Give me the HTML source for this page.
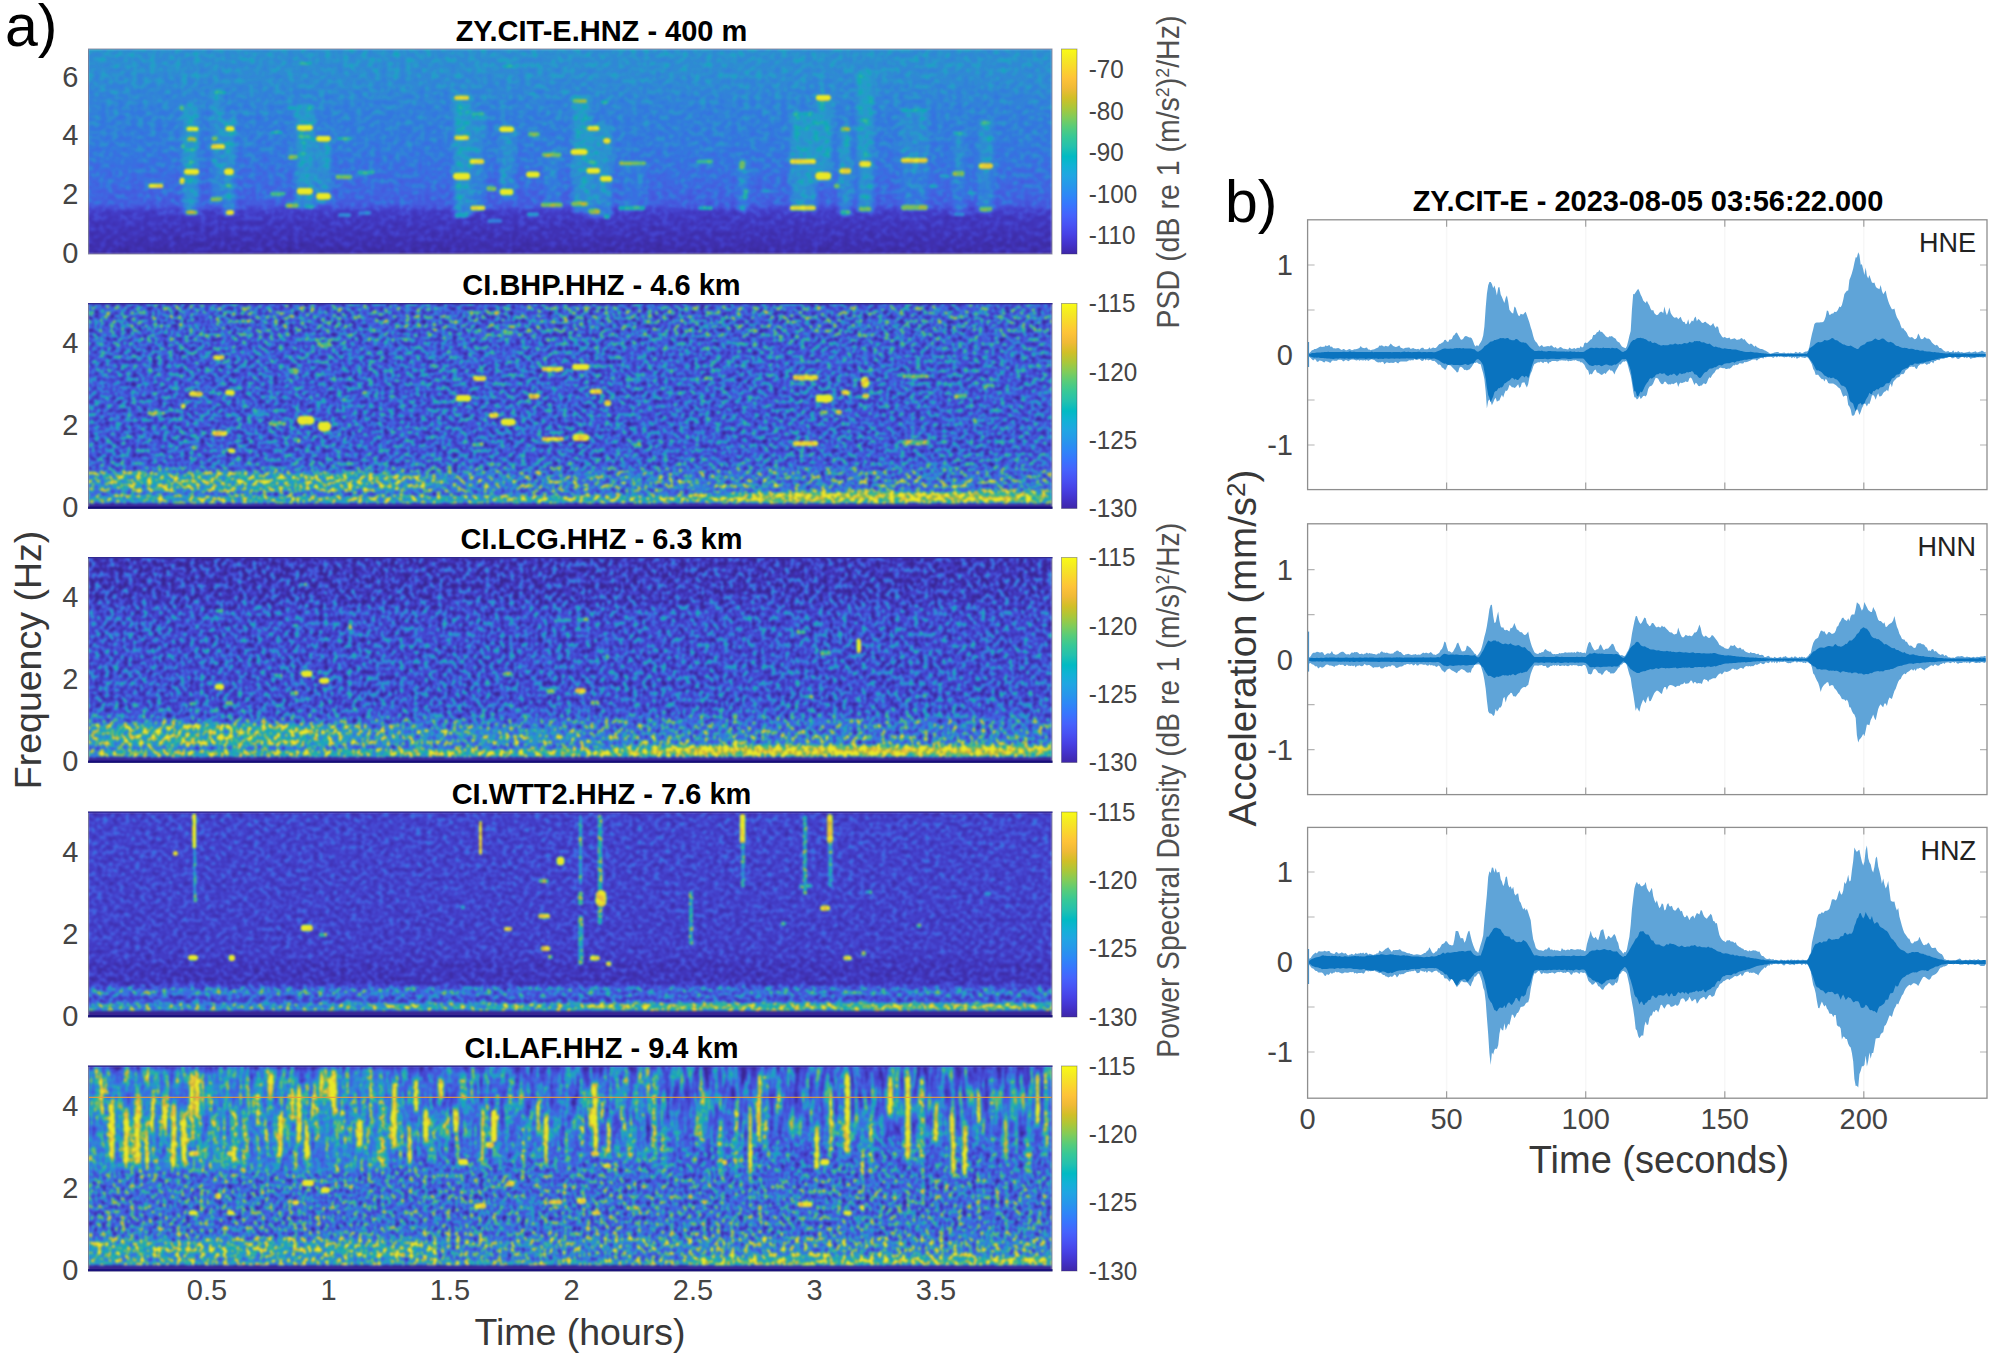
<!DOCTYPE html>
<html lang="en"><head><meta charset="utf-8"><title>Figure</title>
<style>html,body{margin:0;padding:0;background:#fff;}body{width:2000px;height:1363px;overflow:hidden;}svg{display:block;}text{font-family:"Liberation Sans", Arial, Helvetica, sans-serif;}.tk{font-size:29px;fill:#444;}.cb{font-size:26.5px;fill:#444;}.ti{font-size:29px;font-weight:bold;fill:#000;}.ax{font-size:37.5px;fill:#383838;}.pl{font-size:59px;fill:#000;}.cl{font-size:30.5px;fill:#505050;}.ch{font-size:27px;fill:#222;}</style></head><body>
<svg width="2000" height="1363" viewBox="0 0 2000 1363">
<defs>
<linearGradient id="cbar" x1="0" y1="0" x2="0" y2="1"><stop offset="0.0000" stop-color="#f9fb15"/><stop offset="0.0476" stop-color="#f5e924"/><stop offset="0.0952" stop-color="#fad62d"/><stop offset="0.1429" stop-color="#fec338"/><stop offset="0.1905" stop-color="#f0ba36"/><stop offset="0.2381" stop-color="#d1bf27"/><stop offset="0.2857" stop-color="#abc739"/><stop offset="0.3333" stop-color="#81cc59"/><stop offset="0.3810" stop-color="#57cc7a"/><stop offset="0.4286" stop-color="#37c897"/><stop offset="0.4762" stop-color="#24c1ae"/><stop offset="0.5238" stop-color="#02bac3"/><stop offset="0.5714" stop-color="#12b1d6"/><stop offset="0.6190" stop-color="#20a5e3"/><stop offset="0.6667" stop-color="#2797eb"/><stop offset="0.7143" stop-color="#2e87f7"/><stop offset="0.7619" stop-color="#3875fe"/><stop offset="0.8095" stop-color="#4563fd"/><stop offset="0.8571" stop-color="#4852f4"/><stop offset="0.9048" stop-color="#4741e5"/><stop offset="0.9524" stop-color="#4332cb"/><stop offset="1.0000" stop-color="#3e26a8"/></linearGradient>
<filter id="sp0" x="88.5" y="49.0" width="963.5" height="205.0" filterUnits="userSpaceOnUse" color-interpolation-filters="sRGB"><feTurbulence type="fractalNoise" baseFrequency="0.16 0.19" numOctaves="2" seed="11" result="n"/><feColorMatrix in="n" type="matrix" values="1 0 0 0 0 1 0 0 0 0 1 0 0 0 0 0 0 0 0 1" result="ng0"/><feComponentTransfer in="ng0" result="ng"><feFuncR type="table" tableValues="0.25 0.375 0.5 0.875 1"/><feFuncG type="table" tableValues="0.25 0.375 0.5 0.875 1"/><feFuncB type="table" tableValues="0.25 0.375 0.5 0.875 1"/></feComponentTransfer><feColorMatrix in="SourceGraphic" type="matrix" values="0 1 0 0 0 0 1 0 0 0 0 1 0 0 0 0 0 0 0 1" result="amp"/><feComposite in="amp" in2="ng" operator="arithmetic" k1="1" k2="0" k3="0" k4="0" result="m"/><feColorMatrix in="SourceGraphic" type="matrix" values="1 0 0 0 0 1 0 0 0 0 1 0 0 0 0 0 0 0 0 1" result="base"/><feComposite in="base" in2="m" operator="arithmetic" k1="0" k2="2" k3="3.00" k4="-0.60" result="v"/><feComponentTransfer in="v"><feFuncR type="table" tableValues="0.242 0.250 0.258 0.265 0.271 0.275 0.278 0.280 0.281 0.281 0.280 0.276 0.270 0.260 0.244 0.221 0.196 0.183 0.179 0.176 0.169 0.154 0.146 0.138 0.125 0.111 0.095 0.069 0.030 0.004 0.007 0.043 0.096 0.141 0.172 0.194 0.216 0.247 0.291 0.341 0.391 0.446 0.504 0.562 0.617 0.672 0.724 0.774 0.820 0.863 0.903 0.939 0.973 0.996 0.997 0.995 0.989 0.979 0.968 0.961 0.960 0.963 0.969 0.977"/><feFuncG type="table" tableValues="0.150 0.165 0.182 0.198 0.215 0.234 0.256 0.278 0.301 0.323 0.345 0.367 0.389 0.412 0.436 0.460 0.485 0.507 0.529 0.550 0.570 0.590 0.609 0.628 0.646 0.663 0.680 0.695 0.708 0.720 0.731 0.741 0.750 0.758 0.767 0.776 0.784 0.792 0.797 0.801 0.803 0.802 0.799 0.794 0.788 0.779 0.770 0.760 0.750 0.741 0.733 0.729 0.730 0.743 0.766 0.789 0.814 0.839 0.864 0.889 0.913 0.937 0.961 0.984"/><feFuncB type="table" tableValues="0.660 0.708 0.751 0.795 0.836 0.871 0.899 0.922 0.941 0.958 0.972 0.983 0.991 0.995 0.999 0.997 0.989 0.980 0.968 0.952 0.936 0.922 0.908 0.897 0.888 0.876 0.860 0.839 0.816 0.792 0.766 0.739 0.712 0.684 0.655 0.625 0.592 0.557 0.519 0.479 0.435 0.391 0.348 0.304 0.261 0.223 0.191 0.165 0.153 0.160 0.177 0.210 0.239 0.237 0.220 0.203 0.189 0.177 0.164 0.154 0.142 0.127 0.106 0.081"/></feComponentTransfer><feGaussianBlur stdDeviation="1.00"/><feColorMatrix type="matrix" values="0.8660 0.0672 0.0068 0 0 0.0200 0.9132 0.0068 0 0 0.0200 0.0672 0.8528 0 0 0 0 0 1 0"/></filter><clipPath id="cp0"><rect x="88.5" y="49.0" width="963.5" height="205.0"/></clipPath><filter id="sp1" x="88.5" y="303.5" width="963.5" height="205.0" filterUnits="userSpaceOnUse" color-interpolation-filters="sRGB"><feTurbulence type="fractalNoise" baseFrequency="0.19 0.225" numOctaves="2" seed="5" result="n"/><feColorMatrix in="n" type="matrix" values="1 0 0 0 0 1 0 0 0 0 1 0 0 0 0 0 0 0 0 1" result="ng0"/><feComponentTransfer in="ng0" result="ng"><feFuncR type="table" tableValues="0.25 0.375 0.5 0.875 1"/><feFuncG type="table" tableValues="0.25 0.375 0.5 0.875 1"/><feFuncB type="table" tableValues="0.25 0.375 0.5 0.875 1"/></feComponentTransfer><feColorMatrix in="SourceGraphic" type="matrix" values="0 1 0 0 0 0 1 0 0 0 0 1 0 0 0 0 0 0 0 1" result="amp"/><feComposite in="amp" in2="ng" operator="arithmetic" k1="1" k2="0" k3="0" k4="0" result="m"/><feColorMatrix in="SourceGraphic" type="matrix" values="1 0 0 0 0 1 0 0 0 0 1 0 0 0 0 0 0 0 0 1" result="base"/><feComposite in="base" in2="m" operator="arithmetic" k1="0" k2="2" k3="3.00" k4="-0.60" result="v"/><feComponentTransfer in="v"><feFuncR type="table" tableValues="0.242 0.250 0.258 0.265 0.271 0.275 0.278 0.280 0.281 0.281 0.280 0.276 0.270 0.260 0.244 0.221 0.196 0.183 0.179 0.176 0.169 0.154 0.146 0.138 0.125 0.111 0.095 0.069 0.030 0.004 0.007 0.043 0.096 0.141 0.172 0.194 0.216 0.247 0.291 0.341 0.391 0.446 0.504 0.562 0.617 0.672 0.724 0.774 0.820 0.863 0.903 0.939 0.973 0.996 0.997 0.995 0.989 0.979 0.968 0.961 0.960 0.963 0.969 0.977"/><feFuncG type="table" tableValues="0.150 0.165 0.182 0.198 0.215 0.234 0.256 0.278 0.301 0.323 0.345 0.367 0.389 0.412 0.436 0.460 0.485 0.507 0.529 0.550 0.570 0.590 0.609 0.628 0.646 0.663 0.680 0.695 0.708 0.720 0.731 0.741 0.750 0.758 0.767 0.776 0.784 0.792 0.797 0.801 0.803 0.802 0.799 0.794 0.788 0.779 0.770 0.760 0.750 0.741 0.733 0.729 0.730 0.743 0.766 0.789 0.814 0.839 0.864 0.889 0.913 0.937 0.961 0.984"/><feFuncB type="table" tableValues="0.660 0.708 0.751 0.795 0.836 0.871 0.899 0.922 0.941 0.958 0.972 0.983 0.991 0.995 0.999 0.997 0.989 0.980 0.968 0.952 0.936 0.922 0.908 0.897 0.888 0.876 0.860 0.839 0.816 0.792 0.766 0.739 0.712 0.684 0.655 0.625 0.592 0.557 0.519 0.479 0.435 0.391 0.348 0.304 0.261 0.223 0.191 0.165 0.153 0.160 0.177 0.210 0.239 0.237 0.220 0.203 0.189 0.177 0.164 0.154 0.142 0.127 0.106 0.081"/></feComponentTransfer><feGaussianBlur stdDeviation="0.90"/><feColorMatrix type="matrix" values="0.8660 0.0672 0.0068 0 0 0.0200 0.9132 0.0068 0 0 0.0200 0.0672 0.8528 0 0 0 0 0 1 0"/></filter><clipPath id="cp1"><rect x="88.5" y="303.5" width="963.5" height="205.0"/></clipPath><filter id="sp2" x="88.5" y="557.5" width="963.5" height="205.0" filterUnits="userSpaceOnUse" color-interpolation-filters="sRGB"><feTurbulence type="fractalNoise" baseFrequency="0.21 0.185" numOctaves="2" seed="8" result="n"/><feColorMatrix in="n" type="matrix" values="1 0 0 0 0 1 0 0 0 0 1 0 0 0 0 0 0 0 0 1" result="ng0"/><feComponentTransfer in="ng0" result="ng"><feFuncR type="table" tableValues="0.25 0.375 0.5 0.875 1"/><feFuncG type="table" tableValues="0.25 0.375 0.5 0.875 1"/><feFuncB type="table" tableValues="0.25 0.375 0.5 0.875 1"/></feComponentTransfer><feColorMatrix in="SourceGraphic" type="matrix" values="0 1 0 0 0 0 1 0 0 0 0 1 0 0 0 0 0 0 0 1" result="amp"/><feComposite in="amp" in2="ng" operator="arithmetic" k1="1" k2="0" k3="0" k4="0" result="m"/><feColorMatrix in="SourceGraphic" type="matrix" values="1 0 0 0 0 1 0 0 0 0 1 0 0 0 0 0 0 0 0 1" result="base"/><feComposite in="base" in2="m" operator="arithmetic" k1="0" k2="2" k3="3.00" k4="-0.60" result="v"/><feComponentTransfer in="v"><feFuncR type="table" tableValues="0.242 0.250 0.258 0.265 0.271 0.275 0.278 0.280 0.281 0.281 0.280 0.276 0.270 0.260 0.244 0.221 0.196 0.183 0.179 0.176 0.169 0.154 0.146 0.138 0.125 0.111 0.095 0.069 0.030 0.004 0.007 0.043 0.096 0.141 0.172 0.194 0.216 0.247 0.291 0.341 0.391 0.446 0.504 0.562 0.617 0.672 0.724 0.774 0.820 0.863 0.903 0.939 0.973 0.996 0.997 0.995 0.989 0.979 0.968 0.961 0.960 0.963 0.969 0.977"/><feFuncG type="table" tableValues="0.150 0.165 0.182 0.198 0.215 0.234 0.256 0.278 0.301 0.323 0.345 0.367 0.389 0.412 0.436 0.460 0.485 0.507 0.529 0.550 0.570 0.590 0.609 0.628 0.646 0.663 0.680 0.695 0.708 0.720 0.731 0.741 0.750 0.758 0.767 0.776 0.784 0.792 0.797 0.801 0.803 0.802 0.799 0.794 0.788 0.779 0.770 0.760 0.750 0.741 0.733 0.729 0.730 0.743 0.766 0.789 0.814 0.839 0.864 0.889 0.913 0.937 0.961 0.984"/><feFuncB type="table" tableValues="0.660 0.708 0.751 0.795 0.836 0.871 0.899 0.922 0.941 0.958 0.972 0.983 0.991 0.995 0.999 0.997 0.989 0.980 0.968 0.952 0.936 0.922 0.908 0.897 0.888 0.876 0.860 0.839 0.816 0.792 0.766 0.739 0.712 0.684 0.655 0.625 0.592 0.557 0.519 0.479 0.435 0.391 0.348 0.304 0.261 0.223 0.191 0.165 0.153 0.160 0.177 0.210 0.239 0.237 0.220 0.203 0.189 0.177 0.164 0.154 0.142 0.127 0.106 0.081"/></feComponentTransfer><feGaussianBlur stdDeviation="0.90"/><feColorMatrix type="matrix" values="0.8660 0.0672 0.0068 0 0 0.0200 0.9132 0.0068 0 0 0.0200 0.0672 0.8528 0 0 0 0 0 1 0"/></filter><clipPath id="cp2"><rect x="88.5" y="557.5" width="963.5" height="205.0"/></clipPath><filter id="sp3" x="88.5" y="812.0" width="963.5" height="205.0" filterUnits="userSpaceOnUse" color-interpolation-filters="sRGB"><feTurbulence type="fractalNoise" baseFrequency="0.185 0.22" numOctaves="2" seed="21" result="n"/><feColorMatrix in="n" type="matrix" values="1 0 0 0 0 1 0 0 0 0 1 0 0 0 0 0 0 0 0 1" result="ng0"/><feComponentTransfer in="ng0" result="ng"><feFuncR type="table" tableValues="0.25 0.375 0.5 0.875 1"/><feFuncG type="table" tableValues="0.25 0.375 0.5 0.875 1"/><feFuncB type="table" tableValues="0.25 0.375 0.5 0.875 1"/></feComponentTransfer><feColorMatrix in="SourceGraphic" type="matrix" values="0 1 0 0 0 0 1 0 0 0 0 1 0 0 0 0 0 0 0 1" result="amp"/><feComposite in="amp" in2="ng" operator="arithmetic" k1="1" k2="0" k3="0" k4="0" result="m"/><feColorMatrix in="SourceGraphic" type="matrix" values="1 0 0 0 0 1 0 0 0 0 1 0 0 0 0 0 0 0 0 1" result="base"/><feComposite in="base" in2="m" operator="arithmetic" k1="0" k2="2" k3="3.00" k4="-0.60" result="v"/><feComponentTransfer in="v"><feFuncR type="table" tableValues="0.242 0.250 0.258 0.265 0.271 0.275 0.278 0.280 0.281 0.281 0.280 0.276 0.270 0.260 0.244 0.221 0.196 0.183 0.179 0.176 0.169 0.154 0.146 0.138 0.125 0.111 0.095 0.069 0.030 0.004 0.007 0.043 0.096 0.141 0.172 0.194 0.216 0.247 0.291 0.341 0.391 0.446 0.504 0.562 0.617 0.672 0.724 0.774 0.820 0.863 0.903 0.939 0.973 0.996 0.997 0.995 0.989 0.979 0.968 0.961 0.960 0.963 0.969 0.977"/><feFuncG type="table" tableValues="0.150 0.165 0.182 0.198 0.215 0.234 0.256 0.278 0.301 0.323 0.345 0.367 0.389 0.412 0.436 0.460 0.485 0.507 0.529 0.550 0.570 0.590 0.609 0.628 0.646 0.663 0.680 0.695 0.708 0.720 0.731 0.741 0.750 0.758 0.767 0.776 0.784 0.792 0.797 0.801 0.803 0.802 0.799 0.794 0.788 0.779 0.770 0.760 0.750 0.741 0.733 0.729 0.730 0.743 0.766 0.789 0.814 0.839 0.864 0.889 0.913 0.937 0.961 0.984"/><feFuncB type="table" tableValues="0.660 0.708 0.751 0.795 0.836 0.871 0.899 0.922 0.941 0.958 0.972 0.983 0.991 0.995 0.999 0.997 0.989 0.980 0.968 0.952 0.936 0.922 0.908 0.897 0.888 0.876 0.860 0.839 0.816 0.792 0.766 0.739 0.712 0.684 0.655 0.625 0.592 0.557 0.519 0.479 0.435 0.391 0.348 0.304 0.261 0.223 0.191 0.165 0.153 0.160 0.177 0.210 0.239 0.237 0.220 0.203 0.189 0.177 0.164 0.154 0.142 0.127 0.106 0.081"/></feComponentTransfer><feGaussianBlur stdDeviation="0.90"/><feColorMatrix type="matrix" values="0.8660 0.0672 0.0068 0 0 0.0200 0.9132 0.0068 0 0 0.0200 0.0672 0.8528 0 0 0 0 0 1 0"/></filter><clipPath id="cp3"><rect x="88.5" y="812.0" width="963.5" height="205.0"/></clipPath><filter id="sp4" x="88.5" y="1066.0" width="963.5" height="205.0" filterUnits="userSpaceOnUse" color-interpolation-filters="sRGB"><feTurbulence type="fractalNoise" baseFrequency="0.215 0.19" numOctaves="2" seed="33" result="n"/><feColorMatrix in="n" type="matrix" values="1 0 0 0 0 1 0 0 0 0 1 0 0 0 0 0 0 0 0 1" result="ni"/><feTurbulence type="fractalNoise" baseFrequency="0.2 0.035" numOctaves="2" seed="73" result="n2"/><feColorMatrix in="n2" type="matrix" values="1 0 0 0 0 1 0 0 0 0 1 0 0 0 0 0 0 0 0 1" result="ns"/><feColorMatrix in="SourceGraphic" type="matrix" values="0 0 1 0 0 0 0 1 0 0 0 0 1 0 0 0 0 0 0 1" result="wb"/><feColorMatrix in="SourceGraphic" type="matrix" values="0 0 -1 0 1 0 0 -1 0 1 0 0 -1 0 1 0 0 0 0 1" result="wi"/><feComposite in="wb" in2="ns" operator="arithmetic" k1="1" k2="0" k3="0" k4="0" result="t1"/><feComposite in="wi" in2="ni" operator="arithmetic" k1="1" k2="0" k3="0" k4="0" result="t2"/><feComposite in="t1" in2="t2" operator="arithmetic" k1="0" k2="1" k3="1" k4="0" result="ng0"/><feComponentTransfer in="ng0" result="ng"><feFuncR type="table" tableValues="0.25 0.375 0.5 0.875 1"/><feFuncG type="table" tableValues="0.25 0.375 0.5 0.875 1"/><feFuncB type="table" tableValues="0.25 0.375 0.5 0.875 1"/></feComponentTransfer><feColorMatrix in="SourceGraphic" type="matrix" values="0 1 0 0 0 0 1 0 0 0 0 1 0 0 0 0 0 0 0 1" result="amp"/><feComposite in="amp" in2="ng" operator="arithmetic" k1="1" k2="0" k3="0" k4="0" result="m"/><feColorMatrix in="SourceGraphic" type="matrix" values="1 0 0 0 0 1 0 0 0 0 1 0 0 0 0 0 0 0 0 1" result="base"/><feComposite in="base" in2="m" operator="arithmetic" k1="0" k2="2" k3="3.00" k4="-0.60" result="v"/><feComponentTransfer in="v"><feFuncR type="table" tableValues="0.242 0.250 0.258 0.265 0.271 0.275 0.278 0.280 0.281 0.281 0.280 0.276 0.270 0.260 0.244 0.221 0.196 0.183 0.179 0.176 0.169 0.154 0.146 0.138 0.125 0.111 0.095 0.069 0.030 0.004 0.007 0.043 0.096 0.141 0.172 0.194 0.216 0.247 0.291 0.341 0.391 0.446 0.504 0.562 0.617 0.672 0.724 0.774 0.820 0.863 0.903 0.939 0.973 0.996 0.997 0.995 0.989 0.979 0.968 0.961 0.960 0.963 0.969 0.977"/><feFuncG type="table" tableValues="0.150 0.165 0.182 0.198 0.215 0.234 0.256 0.278 0.301 0.323 0.345 0.367 0.389 0.412 0.436 0.460 0.485 0.507 0.529 0.550 0.570 0.590 0.609 0.628 0.646 0.663 0.680 0.695 0.708 0.720 0.731 0.741 0.750 0.758 0.767 0.776 0.784 0.792 0.797 0.801 0.803 0.802 0.799 0.794 0.788 0.779 0.770 0.760 0.750 0.741 0.733 0.729 0.730 0.743 0.766 0.789 0.814 0.839 0.864 0.889 0.913 0.937 0.961 0.984"/><feFuncB type="table" tableValues="0.660 0.708 0.751 0.795 0.836 0.871 0.899 0.922 0.941 0.958 0.972 0.983 0.991 0.995 0.999 0.997 0.989 0.980 0.968 0.952 0.936 0.922 0.908 0.897 0.888 0.876 0.860 0.839 0.816 0.792 0.766 0.739 0.712 0.684 0.655 0.625 0.592 0.557 0.519 0.479 0.435 0.391 0.348 0.304 0.261 0.223 0.191 0.165 0.153 0.160 0.177 0.210 0.239 0.237 0.220 0.203 0.189 0.177 0.164 0.154 0.142 0.127 0.106 0.081"/></feComponentTransfer><feGaussianBlur stdDeviation="0.85"/><feColorMatrix type="matrix" values="0.8660 0.0672 0.0068 0 0 0.0200 0.9132 0.0068 0 0 0.0200 0.0672 0.8528 0 0 0 0 0 1 0"/></filter><clipPath id="cp4"><rect x="88.5" y="1066.0" width="963.5" height="205.0"/></clipPath><filter id="sb" x="-20%" y="-50%" width="140%" height="200%" color-interpolation-filters="sRGB"><feGaussianBlur stdDeviation="0.7 0.5"/></filter><filter id="sbv" x="-5%" y="-20%" width="110%" height="140%" color-interpolation-filters="sRGB"><feGaussianBlur stdDeviation="0.9 3"/></filter><filter id="sbh" x="-10%" y="-40%" width="120%" height="180%" color-interpolation-filters="sRGB"><feGaussianBlur stdDeviation="30 1.6"/></filter><filter id="sb2" x="-20%" y="-20%" width="140%" height="140%" color-interpolation-filters="sRGB"><feGaussianBlur stdDeviation="2.5 1.5"/></filter><linearGradient id="g0" gradientUnits="userSpaceOnUse" x1="0" y1="49.0" x2="0" y2="254.0"><stop offset="0.0000" stop-color="rgb(104,22,0)"/><stop offset="0.1268" stop-color="rgb(102,22,0)"/><stop offset="0.2976" stop-color="rgb(97,22,0)"/><stop offset="0.4927" stop-color="rgb(94,22,0)"/><stop offset="0.6780" stop-color="rgb(88,22,0)"/><stop offset="0.7561" stop-color="rgb(85,21,0)"/><stop offset="0.7902" stop-color="rgb(75,18,0)"/><stop offset="0.8195" stop-color="rgb(75,15,0)"/><stop offset="0.9317" stop-color="rgb(73,13,0)"/><stop offset="0.9805" stop-color="rgb(72,12,0)"/><stop offset="1.0000" stop-color="rgb(71,12,0)"/></linearGradient><linearGradient id="g1" gradientUnits="userSpaceOnUse" x1="0" y1="303.5" x2="0" y2="508.5"><stop offset="0.0000" stop-color="rgb(29,73,0)"/><stop offset="0.0122" stop-color="rgb(6,129,0)"/><stop offset="0.1293" stop-color="rgb(9,123,0)"/><stop offset="0.2024" stop-color="rgb(26,97,0)"/><stop offset="0.4707" stop-color="rgb(31,88,0)"/><stop offset="0.7390" stop-color="rgb(29,91,0)"/><stop offset="0.7927" stop-color="rgb(23,103,0)"/><stop offset="0.8171" stop-color="rgb(7,135,0)"/><stop offset="0.9195" stop-color="rgb(7,135,0)"/><stop offset="0.9293" stop-color="rgb(17,111,0)"/><stop offset="0.9390" stop-color="rgb(9,135,0)"/><stop offset="0.9746" stop-color="rgb(14,135,0)"/><stop offset="0.9795" stop-color="rgb(58,15,0)"/><stop offset="1.0000" stop-color="rgb(57,12,0)"/></linearGradient><linearGradient id="g2" gradientUnits="userSpaceOnUse" x1="0" y1="557.5" x2="0" y2="762.5"><stop offset="0.0000" stop-color="rgb(41,47,0)"/><stop offset="0.0122" stop-color="rgb(40,59,0)"/><stop offset="0.1976" stop-color="rgb(37,65,0)"/><stop offset="0.2659" stop-color="rgb(33,79,0)"/><stop offset="0.6951" stop-color="rgb(32,82,0)"/><stop offset="0.7683" stop-color="rgb(24,97,0)"/><stop offset="0.8024" stop-color="rgb(10,132,0)"/><stop offset="0.9195" stop-color="rgb(10,132,0)"/><stop offset="0.9293" stop-color="rgb(15,117,0)"/><stop offset="0.9390" stop-color="rgb(13,135,0)"/><stop offset="0.9732" stop-color="rgb(13,135,0)"/><stop offset="0.9780" stop-color="rgb(58,15,0)"/><stop offset="1.0000" stop-color="rgb(57,12,0)"/></linearGradient><linearGradient id="g3" gradientUnits="userSpaceOnUse" x1="0" y1="812.0" x2="0" y2="1017.0"><stop offset="0.0000" stop-color="rgb(58,29,0)"/><stop offset="0.0146" stop-color="rgb(62,37,0)"/><stop offset="0.4293" stop-color="rgb(65,32,0)"/><stop offset="0.6976" stop-color="rgb(66,29,0)"/><stop offset="0.7463" stop-color="rgb(66,25,0)"/><stop offset="0.8390" stop-color="rgb(65,26,0)"/><stop offset="0.8634" stop-color="rgb(29,100,0)"/><stop offset="0.8927" stop-color="rgb(29,100,0)"/><stop offset="0.9073" stop-color="rgb(48,59,0)"/><stop offset="0.9268" stop-color="rgb(49,59,0)"/><stop offset="0.9366" stop-color="rgb(22,132,0)"/><stop offset="0.9659" stop-color="rgb(24,132,0)"/><stop offset="0.9732" stop-color="rgb(58,15,0)"/><stop offset="1.0000" stop-color="rgb(57,12,0)"/></linearGradient><linearGradient id="g4" gradientUnits="userSpaceOnUse" x1="0" y1="1066.0" x2="0" y2="1271.0"><stop offset="0.0000" stop-color="rgb(29,73,204)"/><stop offset="0.0146" stop-color="rgb(10,117,204)"/><stop offset="0.1268" stop-color="rgb(7,123,204)"/><stop offset="0.1659" stop-color="rgb(6,129,204)"/><stop offset="0.3366" stop-color="rgb(8,129,178)"/><stop offset="0.4195" stop-color="rgb(9,129,102)"/><stop offset="0.4976" stop-color="rgb(9,129,26)"/><stop offset="0.5561" stop-color="rgb(9,129,0)"/><stop offset="0.7756" stop-color="rgb(9,129,0)"/><stop offset="0.8293" stop-color="rgb(3,141,0)"/><stop offset="0.8585" stop-color="rgb(0,164,0)"/><stop offset="0.9268" stop-color="rgb(0,152,0)"/><stop offset="0.9415" stop-color="rgb(7,132,0)"/><stop offset="0.9512" stop-color="rgb(13,158,0)"/><stop offset="0.9707" stop-color="rgb(15,158,0)"/><stop offset="0.9756" stop-color="rgb(58,15,0)"/><stop offset="1.0000" stop-color="rgb(57,12,0)"/></linearGradient>
</defs>
<rect width="2000" height="1363" fill="#fff"/>
<g clip-path="url(#cp0)"><g filter="url(#sp0)"><rect x="86.5" y="47.0" width="967.5" height="209.0" fill="url(#g0)"/><g filter="url(#sb2)"><rect x="183.0" y="104.0" width="15.0" height="111.0" fill="rgb(113,41,0)" fill-opacity="0.49"/><rect x="212.0" y="88.0" width="10.0" height="117.0" fill="rgb(113,41,0)" fill-opacity="0.33"/><rect x="224.0" y="118.0" width="10.0" height="98.0" fill="rgb(113,41,0)" fill-opacity="0.49"/><rect x="296.0" y="104.0" width="18.0" height="104.0" fill="rgb(113,41,0)" fill-opacity="0.49"/><rect x="316.0" y="136.0" width="15.0" height="67.0" fill="rgb(113,41,0)" fill-opacity="0.39"/><rect x="454.0" y="95.0" width="17.0" height="122.0" fill="rgb(113,41,0)" fill-opacity="0.49"/><rect x="471.0" y="110.0" width="14.0" height="100.0" fill="rgb(113,41,0)" fill-opacity="0.28"/><rect x="500.0" y="125.0" width="14.0" height="75.0" fill="rgb(113,41,0)" fill-opacity="0.33"/><rect x="573.0" y="96.0" width="17.0" height="116.0" fill="rgb(113,41,0)" fill-opacity="0.44"/><rect x="588.0" y="124.0" width="24.0" height="94.0" fill="rgb(113,41,0)" fill-opacity="0.39"/><rect x="545.0" y="150.0" width="15.0" height="58.0" fill="rgb(113,41,0)" fill-opacity="0.22"/><rect x="620.0" y="160.0" width="25.0" height="50.0" fill="rgb(113,41,0)" fill-opacity="0.16"/><rect x="791.0" y="112.0" width="25.0" height="98.0" fill="rgb(113,41,0)" fill-opacity="0.44"/><rect x="816.0" y="95.0" width="16.0" height="87.0" fill="rgb(113,41,0)" fill-opacity="0.44"/><rect x="840.0" y="126.0" width="11.0" height="90.0" fill="rgb(113,41,0)" fill-opacity="0.44"/><rect x="858.0" y="70.0" width="15.0" height="142.0" fill="rgb(113,41,0)" fill-opacity="0.49"/><rect x="900.0" y="108.0" width="28.0" height="102.0" fill="rgb(113,41,0)" fill-opacity="0.22"/><rect x="978.0" y="120.0" width="15.0" height="92.0" fill="rgb(113,41,0)" fill-opacity="0.33"/><rect x="952.0" y="130.0" width="14.0" height="85.0" fill="rgb(113,41,0)" fill-opacity="0.22"/><rect x="738.0" y="160.0" width="10.0" height="52.0" fill="rgb(113,41,0)" fill-opacity="0.33"/></g><g filter="url(#sb)"><rect x="148.5" y="183.6" width="15.0" height="4.5" rx="2.2" fill="rgb(176,29,0)"/><rect x="184.2" y="168.9" width="15.0" height="5.5" rx="2.8" fill="rgb(195,29,0)"/><rect x="186.5" y="126.8" width="12.0" height="4.5" rx="2.2" fill="rgb(176,29,0)"/><rect x="179.5" y="177.5" width="5.0" height="7.0" rx="2.5" fill="rgb(176,29,0)"/><rect x="186.7" y="137.2" width="10.0" height="4.5" rx="2.2" fill="rgb(140,29,0)"/><rect x="185.7" y="210.2" width="12.0" height="4.5" rx="2.2" fill="rgb(140,29,0)"/><rect x="225.5" y="126.3" width="9.0" height="5.0" rx="2.5" fill="rgb(195,29,0)"/><rect x="211.0" y="144.2" width="14.0" height="5.0" rx="2.5" fill="rgb(176,29,0)"/><rect x="211.7" y="136.2" width="6.0" height="4.5" rx="2.2" fill="rgb(140,29,0)"/><rect x="224.2" y="168.4" width="9.5" height="6.5" rx="3.2" fill="rgb(195,29,0)"/><rect x="210.4" y="196.7" width="12.0" height="4.5" rx="2.2" fill="rgb(140,29,0)"/><rect x="226.0" y="210.0" width="8.0" height="5.0" rx="2.5" fill="rgb(176,29,0)"/><rect x="213.3" y="90.8" width="13.0" height="3.5" rx="1.8" fill="rgb(116,29,0)"/><rect x="299.1" y="61.6" width="13.0" height="3.5" rx="1.8" fill="rgb(116,29,0)"/><rect x="287.5" y="106.2" width="9.0" height="3.5" rx="1.8" fill="rgb(116,29,0)"/><rect x="296.8" y="125.0" width="16.0" height="5.5" rx="2.8" fill="rgb(195,29,0)"/><rect x="316.2" y="136.1" width="14.5" height="5.5" rx="2.8" fill="rgb(195,29,0)"/><rect x="297.5" y="135.1" width="13.0" height="3.5" rx="1.8" fill="rgb(126,29,0)"/><rect x="287.9" y="154.7" width="10.0" height="5.0" rx="2.5" fill="rgb(140,29,0)"/><rect x="270.7" y="130.8" width="12.0" height="3.5" rx="1.8" fill="rgb(114,29,0)"/><rect x="337.2" y="136.8" width="15.0" height="3.5" rx="1.8" fill="rgb(119,29,0)"/><rect x="296.8" y="187.9" width="16.0" height="6.5" rx="3.2" fill="rgb(195,29,0)"/><rect x="316.2" y="193.1" width="14.5" height="6.5" rx="3.2" fill="rgb(195,29,0)"/><rect x="270.1" y="191.8" width="15.0" height="4.0" rx="2.0" fill="rgb(129,29,0)"/><rect x="335.4" y="174.6" width="17.0" height="4.5" rx="2.2" fill="rgb(140,29,0)"/><rect x="357.5" y="170.5" width="17.0" height="4.0" rx="2.0" fill="rgb(119,29,0)"/><rect x="285.2" y="203.4" width="13.5" height="4.5" rx="2.2" fill="rgb(140,29,0)"/><rect x="304.0" y="204.5" width="10.0" height="4.0" rx="2.0" fill="rgb(110,29,0)"/><rect x="338.2" y="213.0" width="13.0" height="4.0" rx="2.0" fill="rgb(95,29,0)"/><rect x="358.5" y="211.0" width="13.0" height="4.0" rx="2.0" fill="rgb(91,29,0)"/><rect x="187.0" y="148.5" width="9.0" height="3.0" rx="1.5" fill="rgb(116,29,0)"/><rect x="189.0" y="160.5" width="6.0" height="3.0" rx="1.5" fill="rgb(123,29,0)"/><rect x="180.0" y="105.0" width="4.0" height="6.0" rx="2.0" fill="rgb(129,29,0)"/><rect x="181.0" y="143.5" width="4.0" height="5.0" rx="2.0" fill="rgb(129,29,0)"/><rect x="226.0" y="184.0" width="6.0" height="4.0" rx="2.0" fill="rgb(116,29,0)"/><rect x="212.0" y="158.5" width="6.0" height="3.0" rx="1.5" fill="rgb(110,29,0)"/><rect x="454.2" y="95.5" width="15.0" height="4.5" rx="2.2" fill="rgb(176,29,0)"/><rect x="471.8" y="112.2" width="12.0" height="3.5" rx="1.8" fill="rgb(126,29,0)"/><rect x="454.2" y="135.4" width="15.0" height="4.5" rx="2.2" fill="rgb(176,29,0)"/><rect x="499.4" y="126.4" width="14.5" height="5.5" rx="2.8" fill="rgb(195,29,0)"/><rect x="501.6" y="64.5" width="12.0" height="3.5" rx="1.8" fill="rgb(114,29,0)"/><rect x="527.9" y="132.1" width="12.0" height="4.5" rx="2.2" fill="rgb(140,29,0)"/><rect x="528.0" y="92.5" width="8.0" height="3.5" rx="1.8" fill="rgb(106,29,0)"/><rect x="469.5" y="159.0" width="15.0" height="5.0" rx="2.5" fill="rgb(176,29,0)"/><rect x="453.2" y="172.7" width="17.0" height="7.0" rx="3.5" fill="rgb(195,29,0)"/><rect x="526.2" y="171.5" width="13.5" height="6.0" rx="3.0" fill="rgb(195,29,0)"/><rect x="541.8" y="152.4" width="20.0" height="4.5" rx="2.2" fill="rgb(140,29,0)"/><rect x="486.4" y="186.2" width="10.0" height="5.0" rx="2.5" fill="rgb(140,29,0)"/><rect x="499.9" y="188.8" width="13.5" height="6.5" rx="3.2" fill="rgb(195,29,0)"/><rect x="470.3" y="205.4" width="15.0" height="5.0" rx="2.5" fill="rgb(176,29,0)"/><rect x="454.9" y="212.5" width="13.5" height="5.0" rx="2.5" fill="rgb(110,29,0)"/><rect x="487.3" y="219.0" width="15.0" height="4.0" rx="2.0" fill="rgb(91,29,0)"/><rect x="527.0" y="212.2" width="12.0" height="4.0" rx="2.0" fill="rgb(106,29,0)"/><rect x="540.8" y="202.6" width="22.0" height="4.5" rx="2.2" fill="rgb(140,29,0)"/><rect x="572.3" y="99.1" width="15.0" height="4.0" rx="2.0" fill="rgb(140,29,0)"/><rect x="600.5" y="100.0" width="8.0" height="4.0" rx="2.0" fill="rgb(119,29,0)"/><rect x="587.4" y="125.8" width="12.0" height="5.0" rx="2.5" fill="rgb(176,29,0)"/><rect x="603.2" y="138.2" width="7.5" height="5.5" rx="2.8" fill="rgb(176,29,0)"/><rect x="570.5" y="149.3" width="17.0" height="5.5" rx="2.8" fill="rgb(195,29,0)"/><rect x="586.6" y="168.1" width="13.5" height="5.5" rx="2.8" fill="rgb(195,29,0)"/><rect x="588.2" y="160.3" width="7.0" height="4.0" rx="2.0" fill="rgb(126,29,0)"/><rect x="600.2" y="176.1" width="12.0" height="5.5" rx="2.8" fill="rgb(195,29,0)"/><rect x="571.3" y="201.5" width="17.0" height="5.0" rx="2.5" fill="rgb(140,29,0)"/><rect x="588.3" y="208.6" width="12.0" height="5.5" rx="2.8" fill="rgb(140,29,0)"/><rect x="604.0" y="213.9" width="6.0" height="5.0" rx="2.5" fill="rgb(116,29,0)"/><rect x="619.0" y="161.2" width="27.0" height="4.0" rx="2.0" fill="rgb(140,29,0)"/><rect x="618.2" y="205.7" width="27.0" height="4.5" rx="2.2" fill="rgb(119,29,0)"/><rect x="696.3" y="159.5" width="17.0" height="4.0" rx="2.0" fill="rgb(126,29,0)"/><rect x="739.2" y="160.9" width="6.0" height="8.0" rx="3.0" fill="rgb(140,29,0)"/><rect x="698.1" y="205.9" width="15.0" height="4.0" rx="2.0" fill="rgb(110,29,0)"/><rect x="739.7" y="205.7" width="5.0" height="5.0" rx="2.5" fill="rgb(110,29,0)"/><rect x="743.4" y="189.6" width="4.5" height="10.0" rx="2.2" fill="rgb(114,29,0)"/><rect x="815.8" y="95.0" width="15.0" height="5.5" rx="2.8" fill="rgb(195,29,0)"/><rect x="791.9" y="112.2" width="22.0" height="3.5" rx="1.8" fill="rgb(114,29,0)"/><rect x="840.4" y="126.9" width="10.0" height="4.5" rx="2.2" fill="rgb(140,29,0)"/><rect x="860.0" y="117.8" width="10.0" height="4.0" rx="2.0" fill="rgb(119,29,0)"/><rect x="789.9" y="159.0" width="26.0" height="5.0" rx="2.5" fill="rgb(176,29,0)"/><rect x="815.3" y="172.2" width="16.0" height="7.5" rx="3.8" fill="rgb(195,29,0)"/><rect x="839.4" y="168.3" width="12.0" height="5.5" rx="2.8" fill="rgb(176,29,0)"/><rect x="859.0" y="161.0" width="12.0" height="6.0" rx="3.0" fill="rgb(176,29,0)"/><rect x="833.9" y="183.6" width="6.0" height="5.0" rx="2.5" fill="rgb(140,29,0)"/><rect x="789.9" y="205.4" width="26.0" height="5.0" rx="2.5" fill="rgb(176,29,0)"/><rect x="840.4" y="210.0" width="10.0" height="5.0" rx="2.5" fill="rgb(119,29,0)"/><rect x="859.0" y="206.5" width="12.0" height="5.0" rx="2.5" fill="rgb(140,29,0)"/><rect x="901.3" y="108.8" width="26.0" height="3.5" rx="1.8" fill="rgb(114,29,0)"/><rect x="900.8" y="157.8" width="27.0" height="5.0" rx="2.5" fill="rgb(176,29,0)"/><rect x="900.8" y="204.7" width="27.0" height="5.5" rx="2.8" fill="rgb(140,29,0)"/><rect x="980.7" y="120.9" width="10.0" height="4.0" rx="2.0" fill="rgb(126,29,0)"/><rect x="955.0" y="131.7" width="8.5" height="3.5" rx="1.8" fill="rgb(106,29,0)"/><rect x="978.5" y="163.2" width="14.5" height="5.5" rx="2.8" fill="rgb(176,29,0)"/><rect x="952.5" y="170.7" width="12.0" height="5.5" rx="2.8" fill="rgb(140,29,0)"/><rect x="939.0" y="174.2" width="10.0" height="3.5" rx="1.8" fill="rgb(110,29,0)"/><rect x="929.5" y="184.3" width="8.5" height="3.5" rx="1.8" fill="rgb(103,29,0)"/><rect x="967.0" y="191.2" width="10.0" height="3.5" rx="1.8" fill="rgb(103,29,0)"/><rect x="979.2" y="206.5" width="13.0" height="5.0" rx="2.5" fill="rgb(140,29,0)"/><rect x="954.3" y="212.2" width="10.0" height="4.0" rx="2.0" fill="rgb(98,29,0)"/><rect x="760.3" y="189.4" width="19.0" height="3.5" rx="1.8" fill="rgb(95,29,0)"/><rect x="862.5" y="72.0" width="5.0" height="4.0" rx="2.0" fill="rgb(110,29,0)"/></g></g></g>
<rect x="88.5" y="49.0" width="963.5" height="205.0" fill="none" stroke="#2a2a50" stroke-opacity="0.5" stroke-width="1"/>
<text class="ti" x="601.5" y="40.8" text-anchor="middle">ZY.CIT-E.HNZ - 400 m</text>
<rect x="1061.5" y="49.0" width="15.5" height="205.0" fill="url(#cbar)" stroke="#3a3a5a" stroke-opacity="0.5" stroke-width="0.8"/>
<text class="tk" x="78.5" y="262.5" text-anchor="end">0</text>
<text class="tk" x="78.5" y="203.9" text-anchor="end">2</text>
<text class="tk" x="78.5" y="145.4" text-anchor="end">4</text>
<text class="tk" x="78.5" y="86.8" text-anchor="end">6</text>
<text class="cb" transform="translate(1088.8,78.4) scale(0.915,1)">-70</text>
<text class="cb" transform="translate(1088.8,119.8) scale(0.915,1)">-80</text>
<text class="cb" transform="translate(1088.8,161.2) scale(0.915,1)">-90</text>
<text class="cb" transform="translate(1088.8,202.6) scale(0.915,1)">-100</text>
<text class="cb" transform="translate(1088.8,244.1) scale(0.915,1)">-110</text>
<g clip-path="url(#cp1)"><g filter="url(#sp1)"><rect x="86.5" y="301.5" width="967.5" height="209.0" fill="url(#g1)"/><g filter="url(#sbh)"><rect x="88.5" y="473.0" width="330.0" height="18.0" fill="rgb(21,161,0)"/><rect x="418.5" y="475.0" width="300.0" height="15.0" fill="rgb(5,147,0)"/><rect x="718.5" y="478.0" width="340.0" height="10.0" fill="rgb(0,152,0)"/><rect x="88.5" y="496.0" width="400.0" height="6.0" fill="rgb(23,161,0)"/><rect x="488.5" y="495.5" width="250.0" height="6.5" fill="rgb(21,170,0)"/><rect x="738.5" y="492.0" width="320.0" height="10.5" fill="rgb(42,176,0)"/></g><rect x="88.5" y="503.8" width="963.5" height="6.0" fill="rgb(57,12,0)"/><g filter="url(#sb)"><rect x="212.9" y="355.2" width="12.0" height="4.5" rx="2.2" fill="rgb(128,88,0)"/><rect x="189.2" y="391.2" width="13.5" height="5.5" rx="2.8" fill="rgb(128,88,0)"/><rect x="225.2" y="390.1" width="9.5" height="5.5" rx="2.8" fill="rgb(147,88,0)"/><rect x="180.7" y="403.2" width="5.0" height="5.5" rx="2.5" fill="rgb(128,88,0)"/><rect x="147.5" y="411.6" width="17.0" height="4.0" rx="2.0" fill="rgb(92,88,0)"/><rect x="212.3" y="430.4" width="15.0" height="5.5" rx="2.8" fill="rgb(128,88,0)"/><rect x="228.2" y="448.2" width="7.0" height="5.0" rx="2.5" fill="rgb(128,88,0)"/><rect x="189.9" y="433.7" width="7.0" height="4.0" rx="2.0" fill="rgb(81,88,0)"/><rect x="192.5" y="445.1" width="5.0" height="5.0" rx="2.5" fill="rgb(92,88,0)"/><rect x="316.8" y="342.3" width="15.0" height="5.0" rx="2.5" fill="rgb(92,88,0)"/><rect x="288.7" y="368.1" width="10.0" height="6.0" rx="3.0" fill="rgb(92,88,0)"/><rect x="297.1" y="416.1" width="17.0" height="8.5" rx="4.2" fill="rgb(147,88,0)"/><rect x="317.6" y="421.4" width="13.5" height="10.0" rx="5.0" fill="rgb(147,88,0)"/><rect x="269.1" y="421.2" width="17.0" height="4.5" rx="2.2" fill="rgb(92,88,0)"/><rect x="255.4" y="412.5" width="8.5" height="4.0" rx="2.0" fill="rgb(74,88,0)"/><rect x="293.5" y="437.5" width="7.0" height="5.0" rx="2.5" fill="rgb(92,88,0)"/><rect x="340.4" y="399.1" width="12.0" height="3.5" rx="1.8" fill="rgb(68,88,0)"/><rect x="361.8" y="391.4" width="10.0" height="3.5" rx="1.8" fill="rgb(62,88,0)"/><rect x="503.4" y="330.4" width="10.0" height="5.0" rx="2.5" fill="rgb(92,88,0)"/><rect x="472.8" y="375.6" width="13.5" height="5.5" rx="2.8" fill="rgb(128,88,0)"/><rect x="455.9" y="395.1" width="15.0" height="6.5" rx="3.2" fill="rgb(147,88,0)"/><rect x="489.2" y="412.6" width="9.5" height="5.5" rx="2.8" fill="rgb(128,88,0)"/><rect x="501.1" y="418.6" width="14.5" height="7.0" rx="3.5" fill="rgb(147,88,0)"/><rect x="528.4" y="393.6" width="11.0" height="5.5" rx="2.8" fill="rgb(128,88,0)"/><rect x="541.6" y="366.6" width="22.0" height="5.0" rx="2.5" fill="rgb(128,88,0)"/><rect x="572.2" y="363.9" width="17.0" height="6.0" rx="3.0" fill="rgb(147,88,0)"/><rect x="589.5" y="389.0" width="13.0" height="5.0" rx="2.5" fill="rgb(128,88,0)"/><rect x="604.1" y="400.1" width="7.5" height="6.0" rx="3.0" fill="rgb(128,88,0)"/><rect x="541.6" y="436.9" width="22.0" height="4.5" rx="2.2" fill="rgb(128,88,0)"/><rect x="572.2" y="433.9" width="17.0" height="7.0" rx="3.5" fill="rgb(128,88,0)"/><rect x="471.8" y="442.2" width="12.0" height="4.5" rx="2.2" fill="rgb(81,88,0)"/><rect x="631.0" y="377.6" width="10.0" height="4.0" rx="2.0" fill="rgb(68,88,0)"/><rect x="704.0" y="375.9" width="10.0" height="4.0" rx="2.0" fill="rgb(68,88,0)"/><rect x="631.0" y="442.2" width="10.0" height="4.0" rx="2.0" fill="rgb(68,88,0)"/><rect x="792.8" y="374.6" width="25.5" height="6.0" rx="3.0" fill="rgb(128,88,0)"/><rect x="815.7" y="394.6" width="17.0" height="8.0" rx="4.0" fill="rgb(147,88,0)"/><rect x="841.1" y="389.9" width="8.5" height="5.0" rx="2.5" fill="rgb(128,88,0)"/><rect x="861.0" y="376.7" width="8.0" height="11.0" rx="4.0" fill="rgb(128,88,0)"/><rect x="862.3" y="393.3" width="7.0" height="5.0" rx="2.5" fill="rgb(128,88,0)"/><rect x="819.8" y="410.3" width="8.5" height="5.0" rx="2.5" fill="rgb(92,88,0)"/><rect x="835.1" y="410.1" width="7.0" height="5.5" rx="2.8" fill="rgb(92,88,0)"/><rect x="792.8" y="440.9" width="25.5" height="5.0" rx="2.5" fill="rgb(128,88,0)"/><rect x="902.5" y="374.2" width="27.0" height="4.0" rx="2.0" fill="rgb(92,88,0)"/><rect x="901.5" y="440.0" width="29.0" height="5.0" rx="2.5" fill="rgb(92,88,0)"/><rect x="953.5" y="393.8" width="13.5" height="5.0" rx="2.5" fill="rgb(92,88,0)"/><rect x="981.5" y="383.6" width="13.5" height="4.0" rx="2.0" fill="rgb(81,88,0)"/><rect x="971.5" y="418.4" width="13.0" height="4.0" rx="2.0" fill="rgb(58,88,0)"/></g></g></g>
<rect x="88.5" y="303.5" width="963.5" height="205.0" fill="none" stroke="#2a2a50" stroke-opacity="0.5" stroke-width="1"/>
<rect x="88.0" y="506.6" width="964.5" height="2.2" fill="#0d0675" fill-opacity="0.85"/>
<rect x="88.0" y="303.0" width="964.5" height="1.4" fill="#1a1290" fill-opacity="0.75"/>
<text class="ti" x="601.5" y="295.3" text-anchor="middle">CI.BHP.HHZ - 4.6 km</text>
<rect x="1061.5" y="303.5" width="15.5" height="205.0" fill="url(#cbar)" stroke="#3a3a5a" stroke-opacity="0.5" stroke-width="0.8"/>
<text class="tk" x="78.5" y="517.0" text-anchor="end">0</text>
<text class="tk" x="78.5" y="435.0" text-anchor="end">2</text>
<text class="tk" x="78.5" y="353.0" text-anchor="end">4</text>
<text class="cb" transform="translate(1088.8,312.2) scale(0.915,1)">-115</text>
<text class="cb" transform="translate(1088.8,380.5) scale(0.915,1)">-120</text>
<text class="cb" transform="translate(1088.8,448.9) scale(0.915,1)">-125</text>
<text class="cb" transform="translate(1088.8,517.2) scale(0.915,1)">-130</text>
<g clip-path="url(#cp2)"><g filter="url(#sp2)"><rect x="86.5" y="555.5" width="967.5" height="209.0" fill="url(#g2)"/><g filter="url(#sbh)"><rect x="88.5" y="724.0" width="250.0" height="22.0" fill="rgb(26,161,0)"/><rect x="338.5" y="728.0" width="250.0" height="17.0" fill="rgb(12,147,0)"/><rect x="588.5" y="733.0" width="250.0" height="12.0" fill="rgb(2,152,0)"/><rect x="838.5" y="736.0" width="220.0" height="8.0" fill="rgb(2,152,0)"/><rect x="88.5" y="750.0" width="300.0" height="6.0" fill="rgb(28,161,0)"/><rect x="388.5" y="749.5" width="250.0" height="6.5" fill="rgb(29,170,0)"/><rect x="638.5" y="745.5" width="420.0" height="10.5" fill="rgb(50,176,0)"/></g><rect x="88.5" y="757.6" width="963.5" height="6.0" fill="rgb(57,12,0)"/><g filter="url(#sb)"><rect x="214.6" y="684.2" width="9.5" height="5.5" rx="2.8" fill="rgb(147,88,0)"/><rect x="301.3" y="670.5" width="11.0" height="6.5" rx="3.2" fill="rgb(147,88,0)"/><rect x="319.3" y="677.8" width="10.0" height="6.0" rx="3.0" fill="rgb(147,88,0)"/><rect x="273.8" y="673.8" width="8.5" height="4.0" rx="2.0" fill="rgb(81,88,0)"/><rect x="290.1" y="691.0" width="8.5" height="4.5" rx="2.2" fill="rgb(92,88,0)"/><rect x="225.8" y="701.0" width="7.0" height="4.5" rx="2.2" fill="rgb(92,88,0)"/><rect x="189.5" y="702.0" width="7.0" height="4.0" rx="2.0" fill="rgb(81,88,0)"/><rect x="215.1" y="608.8" width="8.5" height="4.0" rx="2.0" fill="rgb(74,88,0)"/><rect x="292.0" y="623.8" width="7.0" height="4.0" rx="2.0" fill="rgb(68,88,0)"/><rect x="299.5" y="582.8" width="7.0" height="3.5" rx="1.8" fill="rgb(62,88,0)"/><rect x="348.8" y="619.0" width="3.5" height="16.0" rx="1.8" fill="rgb(74,88,0)"/><rect x="503.0" y="672.2" width="10.0" height="4.5" rx="2.2" fill="rgb(81,88,0)"/><rect x="546.2" y="689.8" width="8.5" height="4.5" rx="2.2" fill="rgb(92,88,0)"/><rect x="575.0" y="688.0" width="11.0" height="5.5" rx="2.8" fill="rgb(128,88,0)"/><rect x="554.5" y="619.0" width="17.0" height="3.5" rx="1.8" fill="rgb(62,88,0)"/><rect x="590.8" y="701.0" width="8.5" height="4.0" rx="2.0" fill="rgb(81,88,0)"/><rect x="576.5" y="617.5" width="12.0" height="4.0" rx="2.0" fill="rgb(78,88,0)"/><rect x="601.5" y="655.0" width="7.0" height="4.0" rx="2.0" fill="rgb(68,88,0)"/><rect x="796.0" y="630.0" width="10.0" height="4.0" rx="2.0" fill="rgb(81,88,0)"/><rect x="820.0" y="650.0" width="10.0" height="5.0" rx="2.5" fill="rgb(92,88,0)"/><rect x="856.5" y="638.3" width="4.5" height="15.0" rx="2.2" fill="rgb(128,88,0)"/><rect x="803.8" y="694.5" width="10.0" height="4.0" rx="2.0" fill="rgb(81,88,0)"/><rect x="915.0" y="694.8" width="10.0" height="3.5" rx="1.8" fill="rgb(58,88,0)"/></g></g></g>
<rect x="88.5" y="557.5" width="963.5" height="205.0" fill="none" stroke="#2a2a50" stroke-opacity="0.5" stroke-width="1"/>
<rect x="88.0" y="760.6" width="964.5" height="2.2" fill="#0d0675" fill-opacity="0.85"/>
<rect x="88.0" y="557.0" width="964.5" height="1.4" fill="#1a1290" fill-opacity="0.75"/>
<text class="ti" x="601.5" y="549.3" text-anchor="middle">CI.LCG.HHZ - 6.3 km</text>
<rect x="1061.5" y="557.5" width="15.5" height="205.0" fill="url(#cbar)" stroke="#3a3a5a" stroke-opacity="0.5" stroke-width="0.8"/>
<text class="tk" x="78.5" y="771.0" text-anchor="end">0</text>
<text class="tk" x="78.5" y="689.0" text-anchor="end">2</text>
<text class="tk" x="78.5" y="607.0" text-anchor="end">4</text>
<text class="cb" transform="translate(1088.8,566.2) scale(0.915,1)">-115</text>
<text class="cb" transform="translate(1088.8,634.5) scale(0.915,1)">-120</text>
<text class="cb" transform="translate(1088.8,702.9) scale(0.915,1)">-125</text>
<text class="cb" transform="translate(1088.8,771.2) scale(0.915,1)">-130</text>
<g clip-path="url(#cp3)"><g filter="url(#sp3)"><rect x="86.5" y="810.0" width="967.5" height="209.0" fill="url(#g3)"/><g filter="url(#sbh)"><rect x="608.5" y="1003.5" width="450.0" height="6.5" fill="rgb(46,147,0)"/><rect x="338.5" y="1004.0" width="270.0" height="6.0" fill="rgb(32,141,0)"/><rect x="88.5" y="989.5" width="400.0" height="5.0" fill="rgb(26,117,0)"/></g><rect x="88.5" y="1011.3" width="963.5" height="6.0" fill="rgb(57,12,0)"/><g filter="url(#sb)"><rect x="192.4" y="813.5" width="3.8" height="35.0" rx="1.9" fill="rgb(147,88,0)"/><rect x="173.0" y="851.0" width="5.0" height="5.0" rx="2.5" fill="rgb(128,88,0)"/><rect x="193.3" y="849.0" width="3.0" height="52.0" rx="1.5" fill="rgb(62,88,0)"/><rect x="193.5" y="897.0" width="4.0" height="5.0" rx="2.0" fill="rgb(81,88,0)"/><rect x="300.8" y="924.8" width="12.0" height="6.5" rx="3.2" fill="rgb(147,88,0)"/><rect x="318.8" y="932.8" width="8.5" height="4.0" rx="2.0" fill="rgb(81,88,0)"/><rect x="188.2" y="955.0" width="9.5" height="5.5" rx="2.8" fill="rgb(147,88,0)"/><rect x="228.6" y="954.8" width="6.5" height="6.5" rx="3.2" fill="rgb(147,88,0)"/><rect x="479.1" y="821.0" width="2.8" height="34.0" rx="1.4" fill="rgb(128,88,0)"/><rect x="556.5" y="856.5" width="8.0" height="9.0" rx="4.0" fill="rgb(147,88,0)"/><rect x="539.0" y="879.0" width="10.0" height="4.0" rx="2.0" fill="rgb(92,88,0)"/><rect x="538.0" y="913.5" width="12.0" height="5.0" rx="2.5" fill="rgb(128,88,0)"/><rect x="503.8" y="926.8" width="8.5" height="4.5" rx="2.2" fill="rgb(128,88,0)"/><rect x="540.5" y="946.0" width="10.0" height="5.0" rx="2.5" fill="rgb(128,88,0)"/><rect x="548.0" y="955.0" width="5.0" height="4.0" rx="2.0" fill="rgb(81,88,0)"/><rect x="578.2" y="891.5" width="4.5" height="14.0" rx="2.2" fill="rgb(92,88,0)"/><rect x="578.8" y="815.0" width="3.5" height="70.0" rx="1.8" fill="rgb(68,88,0)"/><rect x="460.5" y="905.0" width="5.0" height="4.0" rx="2.0" fill="rgb(68,88,0)"/><rect x="578.3" y="915.0" width="5.0" height="50.0" rx="2.5" fill="rgb(68,88,0)"/><rect x="597.8" y="815.0" width="4.5" height="110.0" rx="2.2" fill="rgb(74,88,0)"/><rect x="595.5" y="890.0" width="11.0" height="17.0" rx="5.5" fill="rgb(128,88,0)"/><rect x="590.0" y="955.5" width="10.0" height="5.0" rx="2.5" fill="rgb(128,88,0)"/><rect x="606.0" y="961.5" width="5.5" height="5.0" rx="2.5" fill="rgb(128,88,0)"/><rect x="739.8" y="814.0" width="5.5" height="30.0" rx="2.8" fill="rgb(128,88,0)"/><rect x="741.0" y="842.5" width="4.0" height="45.0" rx="2.0" fill="rgb(62,88,0)"/><rect x="827.2" y="814.0" width="5.5" height="30.0" rx="2.8" fill="rgb(128,88,0)"/><rect x="828.5" y="842.5" width="4.0" height="45.0" rx="2.0" fill="rgb(62,88,0)"/><rect x="803.0" y="815.0" width="4.0" height="80.0" rx="2.0" fill="rgb(68,88,0)"/><rect x="799.0" y="884.2" width="14.0" height="3.5" rx="1.8" fill="rgb(68,88,0)"/><rect x="820.0" y="905.2" width="10.0" height="5.5" rx="2.8" fill="rgb(128,88,0)"/><rect x="843.2" y="955.5" width="8.5" height="5.0" rx="2.5" fill="rgb(128,88,0)"/><rect x="861.3" y="951.0" width="5.0" height="5.0" rx="2.5" fill="rgb(92,88,0)"/><rect x="689.0" y="890.5" width="4.0" height="55.0" rx="2.0" fill="rgb(66,88,0)"/><rect x="865.3" y="890.0" width="7.0" height="4.0" rx="2.0" fill="rgb(68,88,0)"/><rect x="984.0" y="891.5" width="7.0" height="4.0" rx="2.0" fill="rgb(68,88,0)"/><rect x="916.3" y="923.8" width="5.0" height="4.5" rx="2.2" fill="rgb(74,88,0)"/><rect x="781.3" y="921.0" width="5.0" height="5.0" rx="2.5" fill="rgb(68,88,0)"/></g></g></g>
<rect x="88.5" y="812.0" width="963.5" height="205.0" fill="none" stroke="#2a2a50" stroke-opacity="0.5" stroke-width="1"/>
<rect x="88.0" y="1015.1" width="964.5" height="2.2" fill="#0d0675" fill-opacity="0.85"/>
<rect x="88.0" y="811.5" width="964.5" height="1.4" fill="#1a1290" fill-opacity="0.75"/>
<text class="ti" x="601.5" y="803.8" text-anchor="middle">CI.WTT2.HHZ - 7.6 km</text>
<rect x="1061.5" y="812.0" width="15.5" height="205.0" fill="url(#cbar)" stroke="#3a3a5a" stroke-opacity="0.5" stroke-width="0.8"/>
<text class="tk" x="78.5" y="1025.5" text-anchor="end">0</text>
<text class="tk" x="78.5" y="943.5" text-anchor="end">2</text>
<text class="tk" x="78.5" y="861.5" text-anchor="end">4</text>
<text class="cb" transform="translate(1088.8,820.7) scale(0.915,1)">-115</text>
<text class="cb" transform="translate(1088.8,889.0) scale(0.915,1)">-120</text>
<text class="cb" transform="translate(1088.8,957.4) scale(0.915,1)">-125</text>
<text class="cb" transform="translate(1088.8,1025.7) scale(0.915,1)">-130</text>
<g clip-path="url(#cp4)"><g filter="url(#sp4)"><rect x="86.5" y="1064.0" width="967.5" height="209.0" fill="url(#g4)"/><g filter="url(#sb2)"><rect x="88.5" y="1070.0" width="300.0" height="102.0" fill="rgb(0,161,153)" fill-opacity="0.75"/><rect x="388.5" y="1072.0" width="260.0" height="88.0" fill="rgb(0,147,153)" fill-opacity="0.6"/><rect x="648.5" y="1135.0" width="410.0" height="45.0" fill="rgb(11,117,51)" fill-opacity="0.5"/></g><g filter="url(#sbv)"><rect x="99.8" y="1075.4" width="3.6" height="39.6" rx="1.5" fill="rgb(87,161,76)"/><rect x="106.0" y="1076.9" width="4.1" height="61.5" rx="1.5" fill="rgb(8,161,76)"/><rect x="109.3" y="1101.5" width="5.2" height="58.9" rx="1.5" fill="rgb(87,161,76)"/><rect x="118.2" y="1115.7" width="2.8" height="33.6" rx="1.5" fill="rgb(28,161,76)"/><rect x="123.7" y="1109.8" width="5.0" height="55.2" rx="1.5" fill="rgb(87,161,76)"/><rect x="130.8" y="1115.9" width="5.2" height="49.1" rx="1.5" fill="rgb(32,161,76)"/><rect x="134.9" y="1105.8" width="5.3" height="59.2" rx="1.5" fill="rgb(87,161,76)"/><rect x="144.8" y="1120.7" width="3.1" height="44.3" rx="1.5" fill="rgb(87,161,76)"/><rect x="150.6" y="1095.5" width="3.4" height="38.8" rx="1.5" fill="rgb(87,161,76)"/><rect x="154.4" y="1074.4" width="2.8" height="23.8" rx="1.5" fill="rgb(8,161,76)"/><rect x="161.5" y="1094.5" width="5.1" height="32.4" rx="1.5" fill="rgb(87,161,76)"/><rect x="171.3" y="1102.9" width="5.1" height="62.1" rx="1.5" fill="rgb(87,161,76)"/><rect x="181.3" y="1112.7" width="5.0" height="52.3" rx="1.5" fill="rgb(87,161,76)"/><rect x="186.7" y="1101.3" width="3.2" height="49.1" rx="1.5" fill="rgb(8,161,76)"/><rect x="189.8" y="1075.6" width="3.4" height="44.5" rx="1.5" fill="rgb(87,161,76)"/><rect x="194.4" y="1072.4" width="5.3" height="44.1" rx="1.5" fill="rgb(87,161,76)"/><rect x="198.5" y="1103.0" width="3.1" height="62.0" rx="1.5" fill="rgb(28,161,76)"/><rect x="205.6" y="1083.2" width="4.4" height="26.8" rx="1.5" fill="rgb(18,161,76)"/><rect x="208.7" y="1078.3" width="4.4" height="29.4" rx="1.5" fill="rgb(28,161,76)"/><rect x="213.7" y="1119.8" width="3.1" height="45.2" rx="1.5" fill="rgb(18,161,76)"/><rect x="222.5" y="1106.0" width="3.0" height="58.1" rx="1.5" fill="rgb(32,161,76)"/><rect x="230.8" y="1107.2" width="4.9" height="57.8" rx="1.5" fill="rgb(28,161,76)"/><rect x="234.2" y="1115.5" width="4.4" height="49.5" rx="1.5" fill="rgb(28,161,76)"/><rect x="243.8" y="1110.9" width="3.4" height="54.1" rx="1.5" fill="rgb(32,161,76)"/><rect x="255.8" y="1094.3" width="3.6" height="30.4" rx="1.5" fill="rgb(32,161,76)"/><rect x="258.5" y="1075.5" width="4.8" height="59.0" rx="1.5" fill="rgb(18,161,76)"/><rect x="267.9" y="1072.9" width="5.3" height="26.0" rx="1.5" fill="rgb(87,161,76)"/><rect x="277.9" y="1115.3" width="4.7" height="40.7" rx="1.5" fill="rgb(87,161,76)"/><rect x="287.5" y="1074.9" width="4.1" height="56.5" rx="1.5" fill="rgb(18,161,76)"/><rect x="291.1" y="1088.7" width="3.4" height="32.8" rx="1.5" fill="rgb(87,161,76)"/><rect x="296.6" y="1088.3" width="4.4" height="55.2" rx="1.5" fill="rgb(87,161,76)"/><rect x="304.7" y="1120.4" width="3.8" height="36.0" rx="1.5" fill="rgb(87,161,76)"/><rect x="313.5" y="1080.8" width="4.4" height="56.4" rx="1.5" fill="rgb(32,161,76)"/><rect x="319.4" y="1071.3" width="4.9" height="22.4" rx="1.5" fill="rgb(87,161,76)"/><rect x="323.0" y="1081.8" width="5.2" height="27.2" rx="1.5" fill="rgb(28,161,76)"/><rect x="327.8" y="1076.3" width="5.3" height="22.7" rx="1.5" fill="rgb(87,161,76)"/><rect x="331.5" y="1070.8" width="5.2" height="44.7" rx="1.5" fill="rgb(87,161,76)"/><rect x="341.4" y="1107.7" width="4.3" height="47.9" rx="1.5" fill="rgb(18,161,76)"/><rect x="351.1" y="1086.8" width="3.8" height="38.4" rx="1.5" fill="rgb(8,161,76)"/><rect x="357.5" y="1120.8" width="5.3" height="27.8" rx="1.5" fill="rgb(87,161,76)"/><rect x="361.0" y="1073.4" width="5.5" height="43.7" rx="1.5" fill="rgb(8,161,76)"/><rect x="369.1" y="1073.5" width="3.8" height="37.6" rx="1.5" fill="rgb(32,161,76)"/><rect x="378.7" y="1090.4" width="4.5" height="73.8" rx="1.5" fill="rgb(28,161,76)"/><rect x="384.1" y="1108.8" width="4.0" height="55.1" rx="1.5" fill="rgb(18,161,76)"/><rect x="391.7" y="1081.9" width="5.4" height="66.3" rx="1.5" fill="rgb(87,161,76)"/><rect x="398.3" y="1111.7" width="3.8" height="53.3" rx="1.5" fill="rgb(18,161,76)"/><rect x="407.5" y="1124.8" width="4.0" height="40.2" rx="1.5" fill="rgb(87,161,76)"/><rect x="414.1" y="1077.9" width="3.7" height="32.9" rx="1.5" fill="rgb(87,161,76)"/><rect x="423.1" y="1108.5" width="5.5" height="35.8" rx="1.5" fill="rgb(87,161,76)"/><rect x="433.1" y="1124.4" width="3.1" height="40.6" rx="1.5" fill="rgb(8,161,76)"/><rect x="438.0" y="1078.6" width="4.8" height="20.2" rx="1.5" fill="rgb(87,161,76)"/><rect x="444.3" y="1114.0" width="5.5" height="21.8" rx="1.5" fill="rgb(28,161,76)"/><rect x="452.9" y="1108.3" width="4.1" height="22.5" rx="1.5" fill="rgb(87,161,76)"/><rect x="460.9" y="1071.8" width="5.3" height="37.6" rx="1.5" fill="rgb(32,161,76)"/><rect x="481.0" y="1106.9" width="3.1" height="58.1" rx="1.5" fill="rgb(87,161,76)"/><rect x="495.5" y="1093.2" width="3.0" height="44.1" rx="1.5" fill="rgb(8,161,76)"/><rect x="508.4" y="1079.2" width="4.7" height="46.0" rx="1.5" fill="rgb(8,161,76)"/><rect x="520.9" y="1116.9" width="5.5" height="48.1" rx="1.5" fill="rgb(8,161,76)"/><rect x="536.4" y="1103.2" width="3.2" height="32.3" rx="1.5" fill="rgb(87,161,76)"/><rect x="543.9" y="1114.1" width="3.8" height="50.9" rx="1.5" fill="rgb(87,161,76)"/><rect x="579.5" y="1110.5" width="4.8" height="31.4" rx="1.5" fill="rgb(18,161,76)"/><rect x="588.4" y="1109.1" width="4.8" height="18.3" rx="1.5" fill="rgb(87,161,76)"/><rect x="592.9" y="1082.5" width="4.7" height="67.1" rx="1.5" fill="rgb(87,161,76)"/><rect x="601.5" y="1071.5" width="3.1" height="53.2" rx="1.5" fill="rgb(8,161,76)"/><rect x="607.3" y="1120.3" width="2.9" height="34.6" rx="1.5" fill="rgb(87,161,76)"/><rect x="621.6" y="1078.7" width="3.5" height="63.5" rx="1.5" fill="rgb(18,161,76)"/><rect x="629.5" y="1122.9" width="4.1" height="33.5" rx="1.5" fill="rgb(32,161,76)"/><rect x="640.2" y="1072.4" width="5.1" height="61.8" rx="1.5" fill="rgb(8,161,76)"/><rect x="646.7" y="1074.3" width="3.1" height="36.9" rx="1.5" fill="rgb(28,161,76)"/><rect x="652.1" y="1072.6" width="5.5" height="87.6" rx="1.5" fill="rgb(32,161,76)"/><rect x="662.2" y="1124.4" width="5.3" height="50.6" rx="1.5" fill="rgb(18,161,76)"/><rect x="699.1" y="1081.4" width="4.8" height="65.1" rx="1.5" fill="rgb(32,161,76)"/><rect x="717.9" y="1119.8" width="5.4" height="55.2" rx="1.5" fill="rgb(32,161,76)"/><rect x="734.1" y="1106.7" width="4.3" height="65.1" rx="1.5" fill="rgb(32,161,76)"/><rect x="748.2" y="1109.7" width="3.8" height="65.3" rx="1.5" fill="rgb(87,161,76)"/><rect x="757.7" y="1075.4" width="3.4" height="66.0" rx="1.5" fill="rgb(87,161,76)"/><rect x="763.5" y="1074.1" width="5.1" height="77.0" rx="1.5" fill="rgb(8,161,76)"/><rect x="776.8" y="1075.3" width="2.8" height="35.4" rx="1.5" fill="rgb(32,161,76)"/><rect x="814.8" y="1125.7" width="4.2" height="44.9" rx="1.5" fill="rgb(87,161,76)"/><rect x="829.3" y="1085.0" width="2.9" height="66.2" rx="1.5" fill="rgb(87,161,76)"/><rect x="837.9" y="1076.6" width="3.5" height="93.0" rx="1.5" fill="rgb(8,161,76)"/><rect x="844.6" y="1076.5" width="5.4" height="77.7" rx="1.5" fill="rgb(87,161,76)"/><rect x="861.0" y="1107.0" width="3.4" height="68.0" rx="1.5" fill="rgb(18,161,76)"/><rect x="868.3" y="1115.9" width="5.2" height="59.1" rx="1.5" fill="rgb(18,161,76)"/><rect x="887.9" y="1077.0" width="3.9" height="37.9" rx="1.5" fill="rgb(87,161,76)"/><rect x="895.3" y="1075.4" width="2.9" height="46.9" rx="1.5" fill="rgb(32,161,76)"/><rect x="905.0" y="1074.4" width="5.6" height="85.4" rx="1.5" fill="rgb(87,161,76)"/><rect x="918.8" y="1079.4" width="5.5" height="81.8" rx="1.5" fill="rgb(32,161,76)"/><rect x="934.4" y="1101.8" width="3.8" height="40.5" rx="1.5" fill="rgb(87,161,76)"/><rect x="950.6" y="1114.8" width="4.3" height="60.2" rx="1.5" fill="rgb(87,161,76)"/><rect x="962.4" y="1124.2" width="4.6" height="50.8" rx="1.5" fill="rgb(87,161,76)"/><rect x="977.1" y="1093.3" width="3.3" height="29.1" rx="1.5" fill="rgb(87,161,76)"/><rect x="990.5" y="1075.7" width="3.2" height="80.8" rx="1.5" fill="rgb(8,161,76)"/><rect x="1004.3" y="1118.0" width="3.1" height="41.5" rx="1.5" fill="rgb(87,161,76)"/><rect x="1010.5" y="1074.4" width="3.9" height="47.7" rx="1.5" fill="rgb(32,161,76)"/><rect x="1027.0" y="1108.8" width="3.7" height="66.2" rx="1.5" fill="rgb(32,161,76)"/><rect x="1035.7" y="1075.0" width="3.7" height="50.0" rx="1.5" fill="rgb(87,161,76)"/><rect x="1044.4" y="1068.4" width="3.6" height="88.6" rx="1.5" fill="rgb(32,161,76)"/><rect x="1057.5" y="1092.9" width="4.9" height="48.6" rx="1.5" fill="rgb(87,161,76)"/><rect x="88.5" y="1241.0" width="350.0" height="18.0" fill="rgb(16,164,0)"/><rect x="688.5" y="1257.0" width="370.0" height="8.0" fill="rgb(29,182,0)"/></g><rect x="88.5" y="1265.6" width="963.5" height="6.0" fill="rgb(57,12,0)"/><g filter="url(#sb)"><rect x="302.0" y="1179.8" width="12.0" height="6.5" rx="3.2" fill="rgb(147,88,0)"/><rect x="321.0" y="1187.0" width="9.0" height="6.0" rx="3.0" fill="rgb(147,88,0)"/><rect x="189.0" y="1151.0" width="10.0" height="5.5" rx="2.8" fill="rgb(128,88,0)"/><rect x="227.0" y="1150.8" width="7.0" height="6.0" rx="3.0" fill="rgb(128,88,0)"/><rect x="188.8" y="1210.5" width="8.5" height="5.0" rx="2.5" fill="rgb(128,88,0)"/><rect x="227.0" y="1210.5" width="7.0" height="5.0" rx="2.5" fill="rgb(128,88,0)"/><rect x="214.5" y="1193.0" width="7.0" height="6.0" rx="3.0" fill="rgb(128,88,0)"/><rect x="292.0" y="1200.0" width="7.0" height="5.0" rx="2.5" fill="rgb(128,88,0)"/><rect x="458.0" y="1159.0" width="10.0" height="6.0" rx="3.0" fill="rgb(147,88,0)"/><rect x="506.2" y="1180.8" width="8.5" height="6.0" rx="3.0" fill="rgb(128,88,0)"/><rect x="474.5" y="1203.2" width="12.0" height="5.5" rx="2.8" fill="rgb(128,88,0)"/><rect x="548.8" y="1199.5" width="13.5" height="5.0" rx="2.5" fill="rgb(128,88,0)"/><rect x="576.5" y="1198.0" width="10.0" height="6.0" rx="3.0" fill="rgb(128,88,0)"/><rect x="491.2" y="1110.0" width="5.5" height="32.0" rx="2.8" fill="rgb(147,88,0)"/><rect x="485.8" y="1142.0" width="8.5" height="6.0" rx="3.0" fill="rgb(128,88,0)"/><rect x="591.8" y="1210.5" width="8.5" height="5.0" rx="2.5" fill="rgb(128,88,0)"/><rect x="590.8" y="1151.0" width="8.5" height="5.5" rx="2.8" fill="rgb(128,88,0)"/><rect x="604.0" y="1163.5" width="7.0" height="5.0" rx="2.5" fill="rgb(128,88,0)"/><rect x="626.5" y="1205.8" width="12.0" height="4.5" rx="2.2" fill="rgb(92,88,0)"/><rect x="797.5" y="1201.8" width="15.0" height="5.5" rx="2.8" fill="rgb(128,88,0)"/><rect x="843.2" y="1210.5" width="8.5" height="5.0" rx="2.5" fill="rgb(128,88,0)"/><rect x="860.2" y="1204.8" width="4.5" height="5.5" rx="2.2" fill="rgb(128,88,0)"/><rect x="820.2" y="1159.0" width="9.5" height="6.0" rx="3.0" fill="rgb(147,88,0)"/><rect x="722.8" y="1159.5" width="4.5" height="6.0" rx="2.2" fill="rgb(128,88,0)"/></g></g><line x1="88.5" y1="1097.3" x2="1052.0" y2="1097.3" stroke="#e89a3c" stroke-width="1.3" stroke-opacity="0.9"/></g>
<rect x="88.5" y="1066.0" width="963.5" height="205.0" fill="none" stroke="#2a2a50" stroke-opacity="0.5" stroke-width="1"/>
<rect x="88.0" y="1269.1" width="964.5" height="2.2" fill="#0d0675" fill-opacity="0.85"/>
<rect x="88.0" y="1065.5" width="964.5" height="1.4" fill="#1a1290" fill-opacity="0.75"/>
<text class="ti" x="601.5" y="1057.8" text-anchor="middle">CI.LAF.HHZ - 9.4 km</text>
<rect x="1061.5" y="1066.0" width="15.5" height="205.0" fill="url(#cbar)" stroke="#3a3a5a" stroke-opacity="0.5" stroke-width="0.8"/>
<text class="tk" x="78.5" y="1279.5" text-anchor="end">0</text>
<text class="tk" x="78.5" y="1197.5" text-anchor="end">2</text>
<text class="tk" x="78.5" y="1115.5" text-anchor="end">4</text>
<text class="cb" transform="translate(1088.8,1074.7) scale(0.915,1)">-115</text>
<text class="cb" transform="translate(1088.8,1143.0) scale(0.915,1)">-120</text>
<text class="cb" transform="translate(1088.8,1211.4) scale(0.915,1)">-125</text>
<text class="cb" transform="translate(1088.8,1279.7) scale(0.915,1)">-130</text>
<text class="tk" x="207.0" y="1299.6" text-anchor="middle">0.5</text>
<text class="tk" x="328.5" y="1299.6" text-anchor="middle">1</text>
<text class="tk" x="450.0" y="1299.6" text-anchor="middle">1.5</text>
<text class="tk" x="571.5" y="1299.6" text-anchor="middle">2</text>
<text class="tk" x="693.0" y="1299.6" text-anchor="middle">2.5</text>
<text class="tk" x="814.5" y="1299.6" text-anchor="middle">3</text>
<text class="tk" x="936.0" y="1299.6" text-anchor="middle">3.5</text>
<text class="ax" x="580" y="1345" text-anchor="middle">Time (hours)</text>
<text class="ax" transform="translate(40.5,660) rotate(-90)" text-anchor="middle">Frequency (Hz)</text>
<text class="cl" transform="translate(1178.5,172) rotate(-90) scale(0.935,1)" text-anchor="middle">PSD (dB re 1 (m/s<tspan font-size="19" dy="-10">2</tspan><tspan dy="10">)</tspan><tspan font-size="19" dy="-10">2</tspan><tspan dy="10">/Hz)</tspan></text>
<text class="cl" transform="translate(1178.5,790.3) rotate(-90) scale(0.925,1)" text-anchor="middle">Power Spectral Density (dB re 1 (m/s)<tspan font-size="19" dy="-10">2</tspan><tspan dy="10">/Hz)</tspan></text>
<text class="pl" x="5" y="46">a)</text>
<text class="pl" x="1225" y="222">b)</text>
<rect x="1307.6" y="219.8" width="679.4" height="269.8" fill="#fff"/><line x1="1446.6" y1="219.8" x2="1446.6" y2="489.6" stroke="#f7f7f7" stroke-width="1.5"/><line x1="1585.7" y1="219.8" x2="1585.7" y2="489.6" stroke="#f7f7f7" stroke-width="1.5"/><line x1="1724.8" y1="219.8" x2="1724.8" y2="489.6" stroke="#f7f7f7" stroke-width="1.5"/><line x1="1863.8" y1="219.8" x2="1863.8" y2="489.6" stroke="#f7f7f7" stroke-width="1.5"/><polygon points="1308.2,352.7 1309.4,352.9 1310.7,351.7 1311.9,350.2 1313.2,350.1 1314.4,349.0 1315.7,348.9 1316.9,348.6 1318.2,347.7 1319.4,346.9 1320.7,346.6 1321.9,347.1 1323.2,346.7 1324.4,346.8 1325.7,345.3 1326.9,346.2 1328.2,345.4 1329.4,344.9 1330.7,347.0 1331.9,346.6 1333.2,348.2 1334.4,348.3 1335.7,348.5 1336.9,348.2 1338.2,347.9 1339.4,348.4 1340.7,349.4 1341.9,349.9 1343.2,349.1 1344.4,349.3 1345.7,350.2 1346.9,350.2 1348.2,349.6 1349.4,349.0 1350.7,349.4 1351.9,350.3 1353.2,349.7 1354.4,349.3 1355.7,349.3 1356.9,349.0 1358.2,348.5 1359.4,347.9 1360.7,346.0 1361.9,347.5 1363.2,348.0 1364.4,348.3 1365.7,347.8 1366.9,347.6 1368.2,349.6 1369.4,349.4 1370.7,350.2 1371.9,349.8 1373.2,349.6 1374.4,349.2 1375.7,348.4 1376.9,348.0 1378.2,347.5 1379.4,345.6 1380.7,345.7 1381.9,345.3 1383.2,346.2 1384.4,346.5 1385.7,345.8 1386.9,346.3 1388.2,346.5 1389.4,345.2 1390.7,343.4 1391.9,344.7 1393.2,346.0 1394.4,346.5 1395.7,347.0 1396.9,346.7 1398.2,346.0 1399.4,345.6 1400.7,347.7 1401.9,347.9 1403.2,348.7 1404.4,348.2 1405.7,347.7 1406.9,347.7 1408.2,347.5 1409.4,347.6 1410.7,349.1 1411.9,348.6 1413.2,348.0 1414.4,348.8 1415.7,349.0 1416.9,349.3 1418.2,348.7 1419.4,349.7 1420.7,348.6 1421.9,347.8 1423.2,347.7 1424.4,349.3 1425.7,349.2 1426.9,349.2 1428.2,348.9 1429.4,347.3 1430.7,349.1 1431.9,347.9 1433.2,347.6 1434.4,347.9 1435.7,348.0 1436.9,346.9 1438.2,345.3 1439.4,344.1 1440.7,343.7 1441.9,342.8 1443.2,342.3 1444.4,340.0 1445.7,339.8 1446.9,341.5 1448.2,341.9 1449.4,339.4 1450.7,339.4 1451.9,338.9 1453.2,335.8 1454.4,335.0 1455.7,333.1 1456.9,332.6 1458.2,335.1 1459.4,337.1 1460.7,339.4 1461.9,339.8 1463.2,338.7 1464.4,336.7 1465.7,336.1 1466.9,336.2 1468.2,336.9 1469.4,337.4 1470.7,337.6 1471.9,338.4 1473.2,341.4 1474.4,345.1 1475.7,346.5 1476.9,345.0 1478.2,346.2 1479.4,344.3 1480.7,342.3 1481.9,340.1 1483.2,335.6 1484.4,326.4 1485.7,307.6 1486.9,293.8 1488.2,285.2 1489.4,281.9 1490.7,282.0 1491.9,284.1 1493.2,288.2 1494.4,285.6 1495.7,289.7 1496.9,295.5 1498.2,287.4 1499.4,287.0 1500.7,294.4 1501.9,297.1 1503.2,300.2 1504.4,302.9 1505.7,297.7 1506.9,295.4 1508.2,301.8 1509.4,309.7 1510.7,311.5 1511.9,312.9 1513.2,313.5 1514.4,306.6 1515.7,307.7 1516.9,311.8 1518.2,315.3 1519.4,316.3 1520.7,313.8 1521.9,314.2 1523.2,314.4 1524.4,313.0 1525.7,311.7 1526.9,315.3 1528.2,319.1 1529.4,322.4 1530.7,327.2 1531.9,330.8 1533.2,336.1 1534.4,339.8 1535.7,341.8 1536.9,342.7 1538.2,345.3 1539.4,346.7 1540.7,345.8 1541.9,345.1 1543.2,346.7 1544.4,346.8 1545.7,346.4 1546.9,346.3 1548.2,346.0 1549.4,346.6 1550.7,345.5 1551.9,345.4 1553.2,347.1 1554.4,347.7 1555.7,346.9 1556.9,348.4 1558.2,348.5 1559.4,347.4 1560.7,346.9 1561.9,347.7 1563.2,348.8 1564.4,348.7 1565.7,349.0 1566.9,349.2 1568.2,349.4 1569.4,347.6 1570.7,348.5 1571.9,348.9 1573.2,348.6 1574.4,347.9 1575.7,349.1 1576.9,348.1 1578.2,347.7 1579.4,348.3 1580.7,345.9 1581.9,347.4 1583.2,346.9 1584.4,343.1 1585.7,342.4 1586.9,343.2 1588.2,342.0 1589.4,340.7 1590.7,339.6 1591.9,338.9 1593.2,335.1 1594.4,335.0 1595.7,334.3 1596.9,332.2 1598.2,331.9 1599.4,329.8 1600.7,332.0 1601.9,331.7 1603.2,333.3 1604.4,334.4 1605.7,336.2 1606.9,337.0 1608.2,337.6 1609.4,336.3 1610.7,336.5 1611.9,335.9 1613.2,337.3 1614.4,337.9 1615.7,338.8 1616.9,341.1 1618.2,342.0 1619.4,342.6 1620.7,344.8 1621.9,346.5 1623.2,347.2 1624.4,347.7 1625.7,348.2 1626.9,345.9 1628.2,341.1 1629.4,335.8 1630.7,330.9 1631.9,310.0 1633.2,294.1 1634.4,294.2 1635.7,292.2 1636.9,290.5 1638.2,288.8 1639.4,291.2 1640.7,294.7 1641.9,297.1 1643.2,300.6 1644.4,301.8 1645.7,303.0 1646.9,300.7 1648.2,303.4 1649.4,305.5 1650.7,308.9 1651.9,310.4 1653.2,310.1 1654.4,313.2 1655.7,314.4 1656.9,315.3 1658.2,314.5 1659.4,312.8 1660.7,311.7 1661.9,311.7 1663.2,313.2 1664.4,306.6 1665.7,312.0 1666.9,315.3 1668.2,311.8 1669.4,307.5 1670.7,313.1 1671.9,315.1 1673.2,316.8 1674.4,317.7 1675.7,317.6 1676.9,317.2 1678.2,319.3 1679.4,318.1 1680.7,316.8 1681.9,320.0 1683.2,322.1 1684.4,321.8 1685.7,324.3 1686.9,323.6 1688.2,319.2 1689.4,324.6 1690.7,322.4 1691.9,320.5 1693.2,321.4 1694.4,318.0 1695.7,316.6 1696.9,321.3 1698.2,318.9 1699.4,319.8 1700.7,321.2 1701.9,322.8 1703.2,323.0 1704.4,322.0 1705.7,321.8 1706.9,323.2 1708.2,323.8 1709.4,324.9 1710.7,325.8 1711.9,324.8 1713.2,323.0 1714.4,326.0 1715.7,327.9 1716.9,326.0 1718.2,327.2 1719.4,332.4 1720.7,334.6 1721.9,336.6 1723.2,337.8 1724.4,337.1 1725.7,337.4 1726.9,338.2 1728.2,338.1 1729.4,337.4 1730.7,339.6 1731.9,338.9 1733.2,338.8 1734.4,338.3 1735.7,338.9 1736.9,339.9 1738.2,339.5 1739.4,339.6 1740.7,338.6 1741.9,338.0 1743.2,339.7 1744.4,339.1 1745.7,340.8 1746.9,342.2 1748.2,343.5 1749.4,344.4 1750.7,343.6 1751.9,343.9 1753.2,345.6 1754.4,346.7 1755.7,345.4 1756.9,347.2 1758.2,347.7 1759.4,348.5 1760.7,348.9 1761.9,349.0 1763.2,349.6 1764.4,350.3 1765.7,350.7 1766.9,351.5 1768.2,352.2 1769.4,353.2 1770.7,353.7 1771.9,353.3 1773.2,353.0 1774.4,352.6 1775.7,352.3 1776.9,352.1 1778.2,352.1 1779.4,353.1 1780.7,353.0 1781.9,353.0 1783.2,352.7 1784.4,352.5 1785.7,353.4 1786.9,353.3 1788.2,352.8 1789.4,353.3 1790.7,352.7 1791.9,352.9 1793.2,353.2 1794.4,352.9 1795.7,351.7 1796.9,352.6 1798.2,352.9 1799.4,352.1 1800.7,352.5 1801.9,353.2 1803.2,352.7 1804.4,352.0 1805.7,351.6 1806.9,351.6 1808.2,350.6 1809.4,346.7 1810.7,339.8 1811.9,334.3 1813.2,329.3 1814.4,324.0 1815.7,322.8 1816.9,322.6 1818.2,322.6 1819.4,322.5 1820.7,322.3 1821.9,322.3 1823.2,321.9 1824.4,320.3 1825.7,316.4 1826.9,310.6 1828.2,311.0 1829.4,315.0 1830.7,314.4 1831.9,313.6 1833.2,313.5 1834.4,311.7 1835.7,311.9 1836.9,311.4 1838.2,309.2 1839.4,306.4 1840.7,307.2 1841.9,304.9 1843.2,300.0 1844.4,294.1 1845.7,292.2 1846.9,290.8 1848.2,290.4 1849.4,279.9 1850.7,276.7 1851.9,273.3 1853.2,268.4 1854.4,262.7 1855.7,257.3 1856.9,257.6 1858.2,252.2 1859.4,254.8 1860.7,264.8 1861.9,264.3 1863.2,269.6 1864.4,275.0 1865.7,267.5 1866.9,275.8 1868.2,278.5 1869.4,275.0 1870.7,279.0 1871.9,282.5 1873.2,283.1 1874.4,282.5 1875.7,286.5 1876.9,288.1 1878.2,288.6 1879.4,289.2 1880.7,285.1 1881.9,290.8 1883.2,294.2 1884.4,292.4 1885.7,290.6 1886.9,296.5 1888.2,301.1 1889.4,304.3 1890.7,306.9 1891.9,309.3 1893.2,309.2 1894.4,308.4 1895.7,313.7 1896.9,317.3 1898.2,319.4 1899.4,321.4 1900.7,325.5 1901.9,328.4 1903.2,328.1 1904.4,330.0 1905.7,331.2 1906.9,333.0 1908.2,335.9 1909.4,337.2 1910.7,337.6 1911.9,336.9 1913.2,337.9 1914.4,339.3 1915.7,339.1 1916.9,337.8 1918.2,333.4 1919.4,335.6 1920.7,338.7 1921.9,339.3 1923.2,338.8 1924.4,337.0 1925.7,337.8 1926.9,338.8 1928.2,338.6 1929.4,339.0 1930.7,340.5 1931.9,342.6 1933.2,343.8 1934.4,344.8 1935.7,345.4 1936.9,344.8 1938.2,346.2 1939.4,348.1 1940.7,348.1 1941.9,348.7 1943.2,350.2 1944.4,350.9 1945.7,351.8 1946.9,351.6 1948.2,351.0 1949.4,352.0 1950.7,352.0 1951.9,352.0 1953.2,350.3 1954.4,352.5 1955.7,351.7 1956.9,352.2 1958.2,351.0 1959.4,352.1 1960.7,352.5 1961.9,352.0 1963.2,352.7 1964.4,352.7 1965.7,352.6 1966.9,352.3 1968.2,352.1 1969.4,351.5 1970.7,352.4 1971.9,352.6 1973.2,352.0 1974.4,351.7 1975.7,351.2 1976.9,352.5 1978.2,352.3 1979.4,351.7 1980.7,351.5 1981.9,350.4 1983.2,351.2 1984.4,352.2 1985.7,351.8 1985.7,357.4 1984.4,357.0 1983.2,357.7 1981.9,357.2 1980.7,357.2 1979.4,357.2 1978.2,357.3 1976.9,357.2 1975.7,357.7 1974.4,357.9 1973.2,357.9 1971.9,358.2 1970.7,358.9 1969.4,357.6 1968.2,357.1 1966.9,358.2 1965.7,357.0 1964.4,357.9 1963.2,357.0 1961.9,357.0 1960.7,357.3 1959.4,358.5 1958.2,358.9 1956.9,358.4 1955.7,356.9 1954.4,357.4 1953.2,358.2 1951.9,358.3 1950.7,357.1 1949.4,357.1 1948.2,357.3 1946.9,357.7 1945.7,357.7 1944.4,358.6 1943.2,358.7 1941.9,358.8 1940.7,358.6 1939.4,360.2 1938.2,359.9 1936.9,360.0 1935.7,360.9 1934.4,361.1 1933.2,363.4 1931.9,361.8 1930.7,362.2 1929.4,364.1 1928.2,363.7 1926.9,364.9 1925.7,364.1 1924.4,363.2 1923.2,363.9 1921.9,364.2 1920.7,364.1 1919.4,364.9 1918.2,366.1 1916.9,368.9 1915.7,368.5 1914.4,366.6 1913.2,366.9 1911.9,366.5 1910.7,366.8 1909.4,367.1 1908.2,368.5 1906.9,369.5 1905.7,370.0 1904.4,373.0 1903.2,374.3 1901.9,374.0 1900.7,374.6 1899.4,376.9 1898.2,377.2 1896.9,377.7 1895.7,379.2 1894.4,380.4 1893.2,382.1 1891.9,387.2 1890.7,383.6 1889.4,385.7 1888.2,391.4 1886.9,389.7 1885.7,391.2 1884.4,391.8 1883.2,393.0 1881.9,395.5 1880.7,396.2 1879.4,396.6 1878.2,393.3 1876.9,396.0 1875.7,399.7 1874.4,396.6 1873.2,395.1 1871.9,395.5 1870.7,400.2 1869.4,403.9 1868.2,403.6 1866.9,406.6 1865.7,404.2 1864.4,402.5 1863.2,405.7 1861.9,408.3 1860.7,412.1 1859.4,414.9 1858.2,411.0 1856.9,408.8 1855.7,411.3 1854.4,414.9 1853.2,415.7 1851.9,415.6 1850.7,409.4 1849.4,406.4 1848.2,404.9 1846.9,395.9 1845.7,395.4 1844.4,396.0 1843.2,396.8 1841.9,393.5 1840.7,390.1 1839.4,388.1 1838.2,387.6 1836.9,385.9 1835.7,385.1 1834.4,384.3 1833.2,383.5 1831.9,383.4 1830.7,383.5 1829.4,383.6 1828.2,383.1 1826.9,379.9 1825.7,378.8 1824.4,381.5 1823.2,379.0 1821.9,379.3 1820.7,378.1 1819.4,376.4 1818.2,374.8 1816.9,374.7 1815.7,375.0 1814.4,370.7 1813.2,369.1 1811.9,364.3 1810.7,362.1 1809.4,359.8 1808.2,358.0 1806.9,356.9 1805.7,357.8 1804.4,358.0 1803.2,357.5 1801.9,357.5 1800.7,356.7 1799.4,357.5 1798.2,357.7 1796.9,358.9 1795.7,356.7 1794.4,357.9 1793.2,356.8 1791.9,358.3 1790.7,357.1 1789.4,357.2 1788.2,356.3 1786.9,357.3 1785.7,356.7 1784.4,357.4 1783.2,356.9 1781.9,356.4 1780.7,356.2 1779.4,356.8 1778.2,356.2 1776.9,357.5 1775.7,356.6 1774.4,357.1 1773.2,358.0 1771.9,357.1 1770.7,357.0 1769.4,356.9 1768.2,356.8 1766.9,357.1 1765.7,357.4 1764.4,357.0 1763.2,358.7 1761.9,357.5 1760.7,357.8 1759.4,358.8 1758.2,359.2 1756.9,360.8 1755.7,359.4 1754.4,359.6 1753.2,359.5 1751.9,359.7 1750.7,360.5 1749.4,361.0 1748.2,361.6 1746.9,361.9 1745.7,362.3 1744.4,362.0 1743.2,363.6 1741.9,363.6 1740.7,363.2 1739.4,363.3 1738.2,364.5 1736.9,365.1 1735.7,364.6 1734.4,365.6 1733.2,365.2 1731.9,366.9 1730.7,368.0 1729.4,368.7 1728.2,368.6 1726.9,369.1 1725.7,369.0 1724.4,368.0 1723.2,368.3 1721.9,367.9 1720.7,367.6 1719.4,368.1 1718.2,369.4 1716.9,369.3 1715.7,370.6 1714.4,372.8 1713.2,373.8 1711.9,375.5 1710.7,378.1 1709.4,377.3 1708.2,379.3 1706.9,382.7 1705.7,384.3 1704.4,383.5 1703.2,383.5 1701.9,385.4 1700.7,385.5 1699.4,386.3 1698.2,385.8 1696.9,383.6 1695.7,382.7 1694.4,385.0 1693.2,381.9 1691.9,378.8 1690.7,377.6 1689.4,378.3 1688.2,381.7 1686.9,382.0 1685.7,381.3 1684.4,382.2 1683.2,382.6 1681.9,383.3 1680.7,382.6 1679.4,383.7 1678.2,386.9 1676.9,382.2 1675.7,382.7 1674.4,383.4 1673.2,384.2 1671.9,383.6 1670.7,384.5 1669.4,384.3 1668.2,384.5 1666.9,383.6 1665.7,381.8 1664.4,381.8 1663.2,384.0 1661.9,384.3 1660.7,383.2 1659.4,381.2 1658.2,378.7 1656.9,377.9 1655.7,377.7 1654.4,380.4 1653.2,383.5 1651.9,385.4 1650.7,386.1 1649.4,386.8 1648.2,389.1 1646.9,394.4 1645.7,396.5 1644.4,395.7 1643.2,396.0 1641.9,397.8 1640.7,399.0 1639.4,396.1 1638.2,398.4 1636.9,399.5 1635.7,397.5 1634.4,397.3 1633.2,391.4 1631.9,382.6 1630.7,375.8 1629.4,371.3 1628.2,366.5 1626.9,361.7 1625.7,360.9 1624.4,361.8 1623.2,361.4 1621.9,362.7 1620.7,364.6 1619.4,364.3 1618.2,366.8 1616.9,369.0 1615.7,371.1 1614.4,374.4 1613.2,372.1 1611.9,370.4 1610.7,370.8 1609.4,369.3 1608.2,370.7 1606.9,371.9 1605.7,373.9 1604.4,373.1 1603.2,374.1 1601.9,375.1 1600.7,374.4 1599.4,373.5 1598.2,372.8 1596.9,372.5 1595.7,369.6 1594.4,370.3 1593.2,371.9 1591.9,374.6 1590.7,373.5 1589.4,375.0 1588.2,370.4 1586.9,369.6 1585.7,367.8 1584.4,364.8 1583.2,363.4 1581.9,362.2 1580.7,362.4 1579.4,361.3 1578.2,361.2 1576.9,360.7 1575.7,360.0 1574.4,360.6 1573.2,360.2 1571.9,360.8 1570.7,361.0 1569.4,360.8 1568.2,361.6 1566.9,360.3 1565.7,360.7 1564.4,360.5 1563.2,360.5 1561.9,360.2 1560.7,360.6 1559.4,360.5 1558.2,361.3 1556.9,361.6 1555.7,361.1 1554.4,361.0 1553.2,361.1 1551.9,361.1 1550.7,361.9 1549.4,362.2 1548.2,364.0 1546.9,361.8 1545.7,362.1 1544.4,361.8 1543.2,363.2 1541.9,362.2 1540.7,361.5 1539.4,362.6 1538.2,362.3 1536.9,362.8 1535.7,363.6 1534.4,364.1 1533.2,366.5 1531.9,370.9 1530.7,373.6 1529.4,377.8 1528.2,384.1 1526.9,387.6 1525.7,385.2 1524.4,382.2 1523.2,382.5 1521.9,382.7 1520.7,386.7 1519.4,388.1 1518.2,384.3 1516.9,385.7 1515.7,387.2 1514.4,387.9 1513.2,387.3 1511.9,387.2 1510.7,385.7 1509.4,384.9 1508.2,388.7 1506.9,391.0 1505.7,390.4 1504.4,393.5 1503.2,397.4 1501.9,394.7 1500.7,397.3 1499.4,400.4 1498.2,400.8 1496.9,401.7 1495.7,397.7 1494.4,399.4 1493.2,402.6 1491.9,405.2 1490.7,401.6 1489.4,399.6 1488.2,401.1 1486.9,408.4 1485.7,391.6 1484.4,379.2 1483.2,373.5 1481.9,369.0 1480.7,364.3 1479.4,364.1 1478.2,363.4 1476.9,362.3 1475.7,362.9 1474.4,362.4 1473.2,364.2 1471.9,366.6 1470.7,367.9 1469.4,369.5 1468.2,369.8 1466.9,370.4 1465.7,369.7 1464.4,370.1 1463.2,368.5 1461.9,367.2 1460.7,366.8 1459.4,367.8 1458.2,372.1 1456.9,372.5 1455.7,370.7 1454.4,369.4 1453.2,368.3 1451.9,366.9 1450.7,365.6 1449.4,365.3 1448.2,364.3 1446.9,367.1 1445.7,369.8 1444.4,369.4 1443.2,368.0 1441.9,367.4 1440.7,365.3 1439.4,364.5 1438.2,364.7 1436.9,362.9 1435.7,362.0 1434.4,360.8 1433.2,361.0 1431.9,360.7 1430.7,359.7 1429.4,360.1 1428.2,360.4 1426.9,359.3 1425.7,360.6 1424.4,359.1 1423.2,360.7 1421.9,361.0 1420.7,360.0 1419.4,359.1 1418.2,359.5 1416.9,359.9 1415.7,359.8 1414.4,359.1 1413.2,360.5 1411.9,359.9 1410.7,360.5 1409.4,360.3 1408.2,360.8 1406.9,361.5 1405.7,361.6 1404.4,361.4 1403.2,361.4 1401.9,361.6 1400.7,361.6 1399.4,361.9 1398.2,363.5 1396.9,362.8 1395.7,361.8 1394.4,362.4 1393.2,362.9 1391.9,362.8 1390.7,362.8 1389.4,363.0 1388.2,362.7 1386.9,362.3 1385.7,362.9 1384.4,364.3 1383.2,361.9 1381.9,361.8 1380.7,362.6 1379.4,362.2 1378.2,362.5 1376.9,361.9 1375.7,361.2 1374.4,360.1 1373.2,359.8 1371.9,359.2 1370.7,359.5 1369.4,360.2 1368.2,361.1 1366.9,359.7 1365.7,360.7 1364.4,359.9 1363.2,360.6 1361.9,360.3 1360.7,360.0 1359.4,360.8 1358.2,359.7 1356.9,360.6 1355.7,360.2 1354.4,359.7 1353.2,359.4 1351.9,359.4 1350.7,359.7 1349.4,360.4 1348.2,361.2 1346.9,360.2 1345.7,360.0 1344.4,360.8 1343.2,361.4 1341.9,359.9 1340.7,359.8 1339.4,359.7 1338.2,359.8 1336.9,360.7 1335.7,360.8 1334.4,360.7 1333.2,360.6 1331.9,360.8 1330.7,362.7 1329.4,362.4 1328.2,361.7 1326.9,361.6 1325.7,361.1 1324.4,362.6 1323.2,362.0 1321.9,361.0 1320.7,360.8 1319.4,360.6 1318.2,361.7 1316.9,361.7 1315.7,359.6 1314.4,359.2 1313.2,360.6 1311.9,359.2 1310.7,358.0 1309.4,356.9 1308.2,356.9" fill="#5fa4d8"/><polygon points="1308.2,354.0 1309.4,353.9 1310.7,353.7 1311.9,353.1 1313.2,353.0 1314.4,352.9 1315.7,352.7 1316.9,352.6 1318.2,352.5 1319.4,352.6 1320.7,352.5 1321.9,352.2 1323.2,352.2 1324.4,352.0 1325.7,352.1 1326.9,352.0 1328.2,351.8 1329.4,351.9 1330.7,352.0 1331.9,352.0 1333.2,352.0 1334.4,352.0 1335.7,352.1 1336.9,352.1 1338.2,352.0 1339.4,351.9 1340.7,352.0 1341.9,352.0 1343.2,351.8 1344.4,351.8 1345.7,352.0 1346.9,352.1 1348.2,351.9 1349.4,351.6 1350.7,351.6 1351.9,351.9 1353.2,351.8 1354.4,351.7 1355.7,352.1 1356.9,352.0 1358.2,352.1 1359.4,352.0 1360.7,352.0 1361.9,351.9 1363.2,352.0 1364.4,352.0 1365.7,352.0 1366.9,352.0 1368.2,352.1 1369.4,352.1 1370.7,352.1 1371.9,351.6 1373.2,352.2 1374.4,352.1 1375.7,352.0 1376.9,352.1 1378.2,352.0 1379.4,352.1 1380.7,352.0 1381.9,351.9 1383.2,352.0 1384.4,352.0 1385.7,352.0 1386.9,352.0 1388.2,351.9 1389.4,352.1 1390.7,352.0 1391.9,352.2 1393.2,352.1 1394.4,351.9 1395.7,352.0 1396.9,352.0 1398.2,352.1 1399.4,352.1 1400.7,352.2 1401.9,352.1 1403.2,351.7 1404.4,351.6 1405.7,352.0 1406.9,352.0 1408.2,351.7 1409.4,352.0 1410.7,352.1 1411.9,352.2 1413.2,352.1 1414.4,352.0 1415.7,352.1 1416.9,351.9 1418.2,351.7 1419.4,351.7 1420.7,352.1 1421.9,352.2 1423.2,352.1 1424.4,352.1 1425.7,352.0 1426.9,352.2 1428.2,352.1 1429.4,352.1 1430.7,352.0 1431.9,352.1 1433.2,352.2 1434.4,352.2 1435.7,352.1 1436.9,351.5 1438.2,350.9 1439.4,350.5 1440.7,350.0 1441.9,349.2 1443.2,348.8 1444.4,348.6 1445.7,348.6 1446.9,348.7 1448.2,348.8 1449.4,348.7 1450.7,348.6 1451.9,348.7 1453.2,348.7 1454.4,348.3 1455.7,348.2 1456.9,348.1 1458.2,348.3 1459.4,348.1 1460.7,348.3 1461.9,348.4 1463.2,348.0 1464.4,348.4 1465.7,348.6 1466.9,348.4 1468.2,348.5 1469.4,348.5 1470.7,348.6 1471.9,348.7 1473.2,349.2 1474.4,349.3 1475.7,350.5 1476.9,351.6 1478.2,351.8 1479.4,351.1 1480.7,350.2 1481.9,349.3 1483.2,348.0 1484.4,346.3 1485.7,345.6 1486.9,344.8 1488.2,343.8 1489.4,342.6 1490.7,341.6 1491.9,341.5 1493.2,341.1 1494.4,340.1 1495.7,340.1 1496.9,339.5 1498.2,339.3 1499.4,338.5 1500.7,338.1 1501.9,338.2 1503.2,338.1 1504.4,338.4 1505.7,338.4 1506.9,338.0 1508.2,338.1 1509.4,339.4 1510.7,339.7 1511.9,340.2 1513.2,340.3 1514.4,340.3 1515.7,339.0 1516.9,339.1 1518.2,340.1 1519.4,341.3 1520.7,342.0 1521.9,342.4 1523.2,342.2 1524.4,342.8 1525.7,342.8 1526.9,343.7 1528.2,345.3 1529.4,346.7 1530.7,348.0 1531.9,349.1 1533.2,349.7 1534.4,351.1 1535.7,351.1 1536.9,351.1 1538.2,350.8 1539.4,350.8 1540.7,350.9 1541.9,350.6 1543.2,351.2 1544.4,351.3 1545.7,351.4 1546.9,351.4 1548.2,350.9 1549.4,351.0 1550.7,351.1 1551.9,351.2 1553.2,351.3 1554.4,351.2 1555.7,351.3 1556.9,351.6 1558.2,351.5 1559.4,351.5 1560.7,351.5 1561.9,351.5 1563.2,351.5 1564.4,351.6 1565.7,351.7 1566.9,351.6 1568.2,351.7 1569.4,351.5 1570.7,351.3 1571.9,351.7 1573.2,351.8 1574.4,351.5 1575.7,352.0 1576.9,352.0 1578.2,351.7 1579.4,352.0 1580.7,352.0 1581.9,352.0 1583.2,352.1 1584.4,351.5 1585.7,350.4 1586.9,349.8 1588.2,349.2 1589.4,348.3 1590.7,347.7 1591.9,347.8 1593.2,348.1 1594.4,348.2 1595.7,347.7 1596.9,347.7 1598.2,348.1 1599.4,348.3 1600.7,348.0 1601.9,348.3 1603.2,347.6 1604.4,348.0 1605.7,348.1 1606.9,347.9 1608.2,348.0 1609.4,348.1 1610.7,348.4 1611.9,347.8 1613.2,348.0 1614.4,348.2 1615.7,348.3 1616.9,348.1 1618.2,348.9 1619.4,349.8 1620.7,350.8 1621.9,351.7 1623.2,351.9 1624.4,351.2 1625.7,350.8 1626.9,349.8 1628.2,347.5 1629.4,345.3 1630.7,342.4 1631.9,341.2 1633.2,339.9 1634.4,340.1 1635.7,339.3 1636.9,338.3 1638.2,338.1 1639.4,338.0 1640.7,337.7 1641.9,338.3 1643.2,338.3 1644.4,339.1 1645.7,339.3 1646.9,340.0 1648.2,341.3 1649.4,341.4 1650.7,341.1 1651.9,342.8 1653.2,343.0 1654.4,342.5 1655.7,343.0 1656.9,343.5 1658.2,344.4 1659.4,344.7 1660.7,345.4 1661.9,345.5 1663.2,345.0 1664.4,345.2 1665.7,345.2 1666.9,345.3 1668.2,345.2 1669.4,344.6 1670.7,344.2 1671.9,344.5 1673.2,344.5 1674.4,343.7 1675.7,343.5 1676.9,344.2 1678.2,344.4 1679.4,343.9 1680.7,344.3 1681.9,344.2 1683.2,343.6 1684.4,343.0 1685.7,343.2 1686.9,343.6 1688.2,343.0 1689.4,341.7 1690.7,342.2 1691.9,342.4 1693.2,342.2 1694.4,341.0 1695.7,341.2 1696.9,341.1 1698.2,341.2 1699.4,341.1 1700.7,341.8 1701.9,342.6 1703.2,342.2 1704.4,342.5 1705.7,343.3 1706.9,343.8 1708.2,344.1 1709.4,343.6 1710.7,344.6 1711.9,345.5 1713.2,346.5 1714.4,346.9 1715.7,346.4 1716.9,347.1 1718.2,347.4 1719.4,347.6 1720.7,348.0 1721.9,348.5 1723.2,348.8 1724.4,348.3 1725.7,348.4 1726.9,348.8 1728.2,349.0 1729.4,349.1 1730.7,349.1 1731.9,349.5 1733.2,349.6 1734.4,349.5 1735.7,349.5 1736.9,349.8 1738.2,350.2 1739.4,350.6 1740.7,351.0 1741.9,351.1 1743.2,351.4 1744.4,351.7 1745.7,351.9 1746.9,351.9 1748.2,351.9 1749.4,352.1 1750.7,351.8 1751.9,351.9 1753.2,352.3 1754.4,352.5 1755.7,352.4 1756.9,352.5 1758.2,352.8 1759.4,352.9 1760.7,353.0 1761.9,353.2 1763.2,353.2 1764.4,353.4 1765.7,353.5 1766.9,353.8 1768.2,354.0 1769.4,354.0 1770.7,354.0 1771.9,353.9 1773.2,354.0 1774.4,353.8 1775.7,354.1 1776.9,354.0 1778.2,354.0 1779.4,354.1 1780.7,354.1 1781.9,354.0 1783.2,353.9 1784.4,354.0 1785.7,353.7 1786.9,353.9 1788.2,354.0 1789.4,354.0 1790.7,353.9 1791.9,354.0 1793.2,354.0 1794.4,353.9 1795.7,354.1 1796.9,354.0 1798.2,354.0 1799.4,353.8 1800.7,354.0 1801.9,353.9 1803.2,353.9 1804.4,353.7 1805.7,353.7 1806.9,354.1 1808.2,352.0 1809.4,348.6 1810.7,347.4 1811.9,346.7 1813.2,345.8 1814.4,344.8 1815.7,343.5 1816.9,342.7 1818.2,342.0 1819.4,342.2 1820.7,342.2 1821.9,342.1 1823.2,341.2 1824.4,339.9 1825.7,340.2 1826.9,340.4 1828.2,340.2 1829.4,339.7 1830.7,338.9 1831.9,337.9 1833.2,338.2 1834.4,339.5 1835.7,340.2 1836.9,340.2 1838.2,341.1 1839.4,342.2 1840.7,342.7 1841.9,343.8 1843.2,344.4 1844.4,344.4 1845.7,345.3 1846.9,345.7 1848.2,346.0 1849.4,345.9 1850.7,345.6 1851.9,346.2 1853.2,346.9 1854.4,347.7 1855.7,348.3 1856.9,349.0 1858.2,349.0 1859.4,347.6 1860.7,345.9 1861.9,345.6 1863.2,344.8 1864.4,344.4 1865.7,343.2 1866.9,341.9 1868.2,341.7 1869.4,341.4 1870.7,341.2 1871.9,341.0 1873.2,340.1 1874.4,339.1 1875.7,338.4 1876.9,339.4 1878.2,340.1 1879.4,339.9 1880.7,339.2 1881.9,338.5 1883.2,338.4 1884.4,339.3 1885.7,340.5 1886.9,341.4 1888.2,342.3 1889.4,342.2 1890.7,341.8 1891.9,342.6 1893.2,343.1 1894.4,344.3 1895.7,345.5 1896.9,346.0 1898.2,346.1 1899.4,346.7 1900.7,347.2 1901.9,347.7 1903.2,348.0 1904.4,347.8 1905.7,348.0 1906.9,348.0 1908.2,348.7 1909.4,348.9 1910.7,348.8 1911.9,348.8 1913.2,349.0 1914.4,349.4 1915.7,349.9 1916.9,349.8 1918.2,350.1 1919.4,350.4 1920.7,350.7 1921.9,350.5 1923.2,350.5 1924.4,351.2 1925.7,351.3 1926.9,351.6 1928.2,351.6 1929.4,351.5 1930.7,351.8 1931.9,352.0 1933.2,352.2 1934.4,352.1 1935.7,352.3 1936.9,352.5 1938.2,352.5 1939.4,352.8 1940.7,353.0 1941.9,353.0 1943.2,353.2 1944.4,353.3 1945.7,353.5 1946.9,353.4 1948.2,353.5 1949.4,353.1 1950.7,353.6 1951.9,353.6 1953.2,353.5 1954.4,353.5 1955.7,353.6 1956.9,353.6 1958.2,353.6 1959.4,353.6 1960.7,353.7 1961.9,353.7 1963.2,353.5 1964.4,353.6 1965.7,353.5 1966.9,353.7 1968.2,353.7 1969.4,353.7 1970.7,353.7 1971.9,353.7 1973.2,353.7 1974.4,353.9 1975.7,353.6 1976.9,353.7 1978.2,353.7 1979.4,353.7 1980.7,353.9 1981.9,353.8 1983.2,353.9 1984.4,353.9 1985.7,353.9 1985.7,356.5 1984.4,356.6 1983.2,356.6 1981.9,356.5 1980.7,356.7 1979.4,356.5 1978.2,357.0 1976.9,356.7 1975.7,356.7 1974.4,356.9 1973.2,356.7 1971.9,356.7 1970.7,356.6 1969.4,357.0 1968.2,356.7 1966.9,356.6 1965.7,356.8 1964.4,356.7 1963.2,356.8 1961.9,356.8 1960.7,356.9 1959.4,357.0 1958.2,357.0 1956.9,356.9 1955.7,356.9 1954.4,356.8 1953.2,357.1 1951.9,357.0 1950.7,357.0 1949.4,357.1 1948.2,357.1 1946.9,357.5 1945.7,357.6 1944.4,357.8 1943.2,357.9 1941.9,358.1 1940.7,358.3 1939.4,358.4 1938.2,358.8 1936.9,359.2 1935.7,359.3 1934.4,359.7 1933.2,360.0 1931.9,360.1 1930.7,360.7 1929.4,361.0 1928.2,361.5 1926.9,361.6 1925.7,361.9 1924.4,362.4 1923.2,362.8 1921.9,362.8 1920.7,363.0 1919.4,363.6 1918.2,363.7 1916.9,363.7 1915.7,363.5 1914.4,363.6 1913.2,364.7 1911.9,365.0 1910.7,364.7 1909.4,365.8 1908.2,367.5 1906.9,368.1 1905.7,368.3 1904.4,368.9 1903.2,369.5 1901.9,370.3 1900.7,372.5 1899.4,374.1 1898.2,374.4 1896.9,374.6 1895.7,375.6 1894.4,377.5 1893.2,378.0 1891.9,378.4 1890.7,380.9 1889.4,382.9 1888.2,383.3 1886.9,383.2 1885.7,383.7 1884.4,385.8 1883.2,386.7 1881.9,387.2 1880.7,387.3 1879.4,388.3 1878.2,389.8 1876.9,388.9 1875.7,389.9 1874.4,391.3 1873.2,391.1 1871.9,394.2 1870.7,394.1 1869.4,392.8 1868.2,395.9 1866.9,398.1 1865.7,400.1 1864.4,404.1 1863.2,403.8 1861.9,405.3 1860.7,403.1 1859.4,403.7 1858.2,404.5 1856.9,408.5 1855.7,411.3 1854.4,407.8 1853.2,403.7 1851.9,402.5 1850.7,402.1 1849.4,399.5 1848.2,393.7 1846.9,390.3 1845.7,387.5 1844.4,386.4 1843.2,385.8 1841.9,385.8 1840.7,384.7 1839.4,382.6 1838.2,381.0 1836.9,379.4 1835.7,379.2 1834.4,378.4 1833.2,377.4 1831.9,378.0 1830.7,378.3 1829.4,377.3 1828.2,377.7 1826.9,376.7 1825.7,375.9 1824.4,375.6 1823.2,374.1 1821.9,372.4 1820.7,371.5 1819.4,370.9 1818.2,370.3 1816.9,370.4 1815.7,369.3 1814.4,366.5 1813.2,364.3 1811.9,362.1 1810.7,360.5 1809.4,358.7 1808.2,357.1 1806.9,356.2 1805.7,356.2 1804.4,356.1 1803.2,356.1 1801.9,356.2 1800.7,356.1 1799.4,356.3 1798.2,356.0 1796.9,356.2 1795.7,356.2 1794.4,356.0 1793.2,356.4 1791.9,356.2 1790.7,356.1 1789.4,356.2 1788.2,356.3 1786.9,356.3 1785.7,356.5 1784.4,356.1 1783.2,356.2 1781.9,356.3 1780.7,356.2 1779.4,356.2 1778.2,356.1 1776.9,356.2 1775.7,356.0 1774.4,356.1 1773.2,356.0 1771.9,356.2 1770.7,356.1 1769.4,356.2 1768.2,356.5 1766.9,356.6 1765.7,356.8 1764.4,356.9 1763.2,357.1 1761.9,357.4 1760.7,357.5 1759.4,357.5 1758.2,357.7 1756.9,358.0 1755.7,358.0 1754.4,358.3 1753.2,358.4 1751.9,359.0 1750.7,359.2 1749.4,359.1 1748.2,359.3 1746.9,359.7 1745.7,359.7 1744.4,359.8 1743.2,360.1 1741.9,360.4 1740.7,360.6 1739.4,361.0 1738.2,361.3 1736.9,361.2 1735.7,362.0 1734.4,362.7 1733.2,362.0 1731.9,362.3 1730.7,362.8 1729.4,363.3 1728.2,363.3 1726.9,363.3 1725.7,363.4 1724.4,363.7 1723.2,364.5 1721.9,365.6 1720.7,365.2 1719.4,365.1 1718.2,365.5 1716.9,366.6 1715.7,367.3 1714.4,367.3 1713.2,368.0 1711.9,368.6 1710.7,368.5 1709.4,368.8 1708.2,369.9 1706.9,371.7 1705.7,372.1 1704.4,372.8 1703.2,374.2 1701.9,376.2 1700.7,377.7 1699.4,377.9 1698.2,377.0 1696.9,375.1 1695.7,374.5 1694.4,374.3 1693.2,372.0 1691.9,371.0 1690.7,372.1 1689.4,372.0 1688.2,372.4 1686.9,372.0 1685.7,372.9 1684.4,373.6 1683.2,373.5 1681.9,374.2 1680.7,373.4 1679.4,373.2 1678.2,374.9 1676.9,376.0 1675.7,374.9 1674.4,373.8 1673.2,373.7 1671.9,375.1 1670.7,374.5 1669.4,374.9 1668.2,375.9 1666.9,375.5 1665.7,374.7 1664.4,373.3 1663.2,373.4 1661.9,373.9 1660.7,373.2 1659.4,373.3 1658.2,374.2 1656.9,374.3 1655.7,374.9 1654.4,377.0 1653.2,377.4 1651.9,378.7 1650.7,378.0 1649.4,379.0 1648.2,381.6 1646.9,382.9 1645.7,384.8 1644.4,387.3 1643.2,390.1 1641.9,392.5 1640.7,391.4 1639.4,393.7 1638.2,396.2 1636.9,395.9 1635.7,391.4 1634.4,391.3 1633.2,386.1 1631.9,377.7 1630.7,370.6 1629.4,366.8 1628.2,363.6 1626.9,360.3 1625.7,358.9 1624.4,359.2 1623.2,359.3 1621.9,359.3 1620.7,360.8 1619.4,362.1 1618.2,362.9 1616.9,364.1 1615.7,364.8 1614.4,364.6 1613.2,364.9 1611.9,365.7 1610.7,365.5 1609.4,365.4 1608.2,365.0 1606.9,364.6 1605.7,364.6 1604.4,365.0 1603.2,365.6 1601.9,366.3 1600.7,366.1 1599.4,365.1 1598.2,365.0 1596.9,365.5 1595.7,365.0 1594.4,365.3 1593.2,366.0 1591.9,366.0 1590.7,365.4 1589.4,365.3 1588.2,364.1 1586.9,362.4 1585.7,361.3 1584.4,359.4 1583.2,358.5 1581.9,358.5 1580.7,358.5 1579.4,358.5 1578.2,358.4 1576.9,358.4 1575.7,358.6 1574.4,358.6 1573.2,358.5 1571.9,358.8 1570.7,358.9 1569.4,359.1 1568.2,358.9 1566.9,358.7 1565.7,358.6 1564.4,358.6 1563.2,358.6 1561.9,358.6 1560.7,358.7 1559.4,359.0 1558.2,358.9 1556.9,359.0 1555.7,358.9 1554.4,358.7 1553.2,358.7 1551.9,358.8 1550.7,358.8 1549.4,359.0 1548.2,359.2 1546.9,359.2 1545.7,358.7 1544.4,358.8 1543.2,359.0 1541.9,359.1 1540.7,359.1 1539.4,359.1 1538.2,359.1 1536.9,358.9 1535.7,358.9 1534.4,358.9 1533.2,362.2 1531.9,366.1 1530.7,370.2 1529.4,375.1 1528.2,378.2 1526.9,376.3 1525.7,376.0 1524.4,377.5 1523.2,376.1 1521.9,375.7 1520.7,376.9 1519.4,378.4 1518.2,379.9 1516.9,380.0 1515.7,378.7 1514.4,379.8 1513.2,378.3 1511.9,377.7 1510.7,379.2 1509.4,380.5 1508.2,381.0 1506.9,382.1 1505.7,383.0 1504.4,383.4 1503.2,386.1 1501.9,387.4 1500.7,387.3 1499.4,388.3 1498.2,388.2 1496.9,390.7 1495.7,390.9 1494.4,392.2 1493.2,396.5 1491.9,399.2 1490.7,402.3 1489.4,397.7 1488.2,395.1 1486.9,387.6 1485.7,378.4 1484.4,371.4 1483.2,365.5 1481.9,362.9 1480.7,361.3 1479.4,360.0 1478.2,358.9 1476.9,359.3 1475.7,360.6 1474.4,362.4 1473.2,363.4 1471.9,363.6 1470.7,363.7 1469.4,364.4 1468.2,365.1 1466.9,364.7 1465.7,364.0 1464.4,364.2 1463.2,364.8 1461.9,365.0 1460.7,365.2 1459.4,365.2 1458.2,365.0 1456.9,365.0 1455.7,364.9 1454.4,365.0 1453.2,365.0 1451.9,364.6 1450.7,364.7 1449.4,364.7 1448.2,364.9 1446.9,364.6 1445.7,363.6 1444.4,363.7 1443.2,363.3 1441.9,362.5 1440.7,361.7 1439.4,360.7 1438.2,359.9 1436.9,359.6 1435.7,358.9 1434.4,358.6 1433.2,358.6 1431.9,358.8 1430.7,358.8 1429.4,358.6 1428.2,358.3 1426.9,358.3 1425.7,358.7 1424.4,358.5 1423.2,358.8 1421.9,358.6 1420.7,358.3 1419.4,358.4 1418.2,358.5 1416.9,358.9 1415.7,359.0 1414.4,358.4 1413.2,358.5 1411.9,358.4 1410.7,358.4 1409.4,358.6 1408.2,358.4 1406.9,358.3 1405.7,358.4 1404.4,358.5 1403.2,358.6 1401.9,358.4 1400.7,358.6 1399.4,358.8 1398.2,358.5 1396.9,358.6 1395.7,358.6 1394.4,358.7 1393.2,358.6 1391.9,358.6 1390.7,358.4 1389.4,358.8 1388.2,358.8 1386.9,358.6 1385.7,358.5 1384.4,358.5 1383.2,359.0 1381.9,358.8 1380.7,358.7 1379.4,358.7 1378.2,358.9 1376.9,358.5 1375.7,358.5 1374.4,358.7 1373.2,358.6 1371.9,358.7 1370.7,358.7 1369.4,358.4 1368.2,358.4 1366.9,358.8 1365.7,358.9 1364.4,358.5 1363.2,358.4 1361.9,358.4 1360.7,358.4 1359.4,358.4 1358.2,358.7 1356.9,358.7 1355.7,358.5 1354.4,358.7 1353.2,358.3 1351.9,358.4 1350.7,358.4 1349.4,358.7 1348.2,358.8 1346.9,358.3 1345.7,358.4 1344.4,358.7 1343.2,358.5 1341.9,358.5 1340.7,358.3 1339.4,358.3 1338.2,358.7 1336.9,358.6 1335.7,358.4 1334.4,358.8 1333.2,358.9 1331.9,358.7 1330.7,358.8 1329.4,358.5 1328.2,358.5 1326.9,358.4 1325.7,358.2 1324.4,358.2 1323.2,358.0 1321.9,358.0 1320.7,357.9 1319.4,357.8 1318.2,357.6 1316.9,357.7 1315.7,357.6 1314.4,357.7 1313.2,357.6 1311.9,357.1 1310.7,356.7 1309.4,356.2 1308.2,355.9" fill="#0a73bf"/><line x1="1308.4" y1="342.0" x2="1308.4" y2="367.0" stroke="#3a8fd0" stroke-width="1.4"/><path d="M1446.6 219.8v7M1446.6 489.6v-7" stroke="#a0a0a0" stroke-width="1.2" fill="none"/><path d="M1585.7 219.8v7M1585.7 489.6v-7" stroke="#a0a0a0" stroke-width="1.2" fill="none"/><path d="M1724.8 219.8v7M1724.8 489.6v-7" stroke="#a0a0a0" stroke-width="1.2" fill="none"/><path d="M1863.8 219.8v7M1863.8 489.6v-7" stroke="#a0a0a0" stroke-width="1.2" fill="none"/><path d="M1307.6 445.0h7M1987.0 445.0h-7" stroke="#b4b4b4" stroke-width="1.1" fill="none"/><path d="M1307.6 400.0h7M1987.0 400.0h-7" stroke="#b4b4b4" stroke-width="1.1" fill="none"/><path d="M1307.6 310.0h7M1987.0 310.0h-7" stroke="#b4b4b4" stroke-width="1.1" fill="none"/><path d="M1307.6 265.0h7M1987.0 265.0h-7" stroke="#b4b4b4" stroke-width="1.1" fill="none"/><rect x="1307.6" y="219.8" width="679.4" height="269.8" fill="none" stroke="#8e8e8e" stroke-width="1.3"/><text class="tk" x="1293" y="275.2" text-anchor="end">1</text><text class="tk" x="1293" y="365.2" text-anchor="end">0</text><text class="tk" x="1293" y="455.2" text-anchor="end">-1</text><text class="ch" x="1976" y="252.3" text-anchor="end">HNE</text><rect x="1307.6" y="523.8" width="679.4" height="270.8" fill="#fff"/><line x1="1446.6" y1="523.8" x2="1446.6" y2="794.6" stroke="#f7f7f7" stroke-width="1.5"/><line x1="1585.7" y1="523.8" x2="1585.7" y2="794.6" stroke="#f7f7f7" stroke-width="1.5"/><line x1="1724.8" y1="523.8" x2="1724.8" y2="794.6" stroke="#f7f7f7" stroke-width="1.5"/><line x1="1863.8" y1="523.8" x2="1863.8" y2="794.6" stroke="#f7f7f7" stroke-width="1.5"/><polygon points="1308.2,657.4 1309.4,657.3 1310.7,656.3 1311.9,653.9 1313.2,652.7 1314.4,652.7 1315.7,652.4 1316.9,651.7 1318.2,651.9 1319.4,652.5 1320.7,652.6 1321.9,652.1 1323.2,652.8 1324.4,654.9 1325.7,654.5 1326.9,653.6 1328.2,653.2 1329.4,653.7 1330.7,652.9 1331.9,651.1 1333.2,653.7 1334.4,654.2 1335.7,654.8 1336.9,654.5 1338.2,654.0 1339.4,652.9 1340.7,652.2 1341.9,651.8 1343.2,651.8 1344.4,652.7 1345.7,653.9 1346.9,654.4 1348.2,654.0 1349.4,654.7 1350.7,653.6 1351.9,652.2 1353.2,653.0 1354.4,652.1 1355.7,652.2 1356.9,652.0 1358.2,652.8 1359.4,654.1 1360.7,653.9 1361.9,653.5 1363.2,654.5 1364.4,653.7 1365.7,653.5 1366.9,652.6 1368.2,653.8 1369.4,653.1 1370.7,653.6 1371.9,653.5 1373.2,653.9 1374.4,654.0 1375.7,654.5 1376.9,654.5 1378.2,653.3 1379.4,653.8 1380.7,652.1 1381.9,651.3 1383.2,652.5 1384.4,652.6 1385.7,653.1 1386.9,652.5 1388.2,653.2 1389.4,653.5 1390.7,653.7 1391.9,653.6 1393.2,653.5 1394.4,652.1 1395.7,651.5 1396.9,650.4 1398.2,650.8 1399.4,652.0 1400.7,651.9 1401.9,653.3 1403.2,654.7 1404.4,655.2 1405.7,654.3 1406.9,654.2 1408.2,653.8 1409.4,654.2 1410.7,654.7 1411.9,654.9 1413.2,654.6 1414.4,654.6 1415.7,654.1 1416.9,654.9 1418.2,654.5 1419.4,654.8 1420.7,654.6 1421.9,653.4 1423.2,652.6 1424.4,653.2 1425.7,652.7 1426.9,652.7 1428.2,653.5 1429.4,652.9 1430.7,651.9 1431.9,652.9 1433.2,654.4 1434.4,654.5 1435.7,655.0 1436.9,654.2 1438.2,653.5 1439.4,652.5 1440.7,650.0 1441.9,649.1 1443.2,645.9 1444.4,641.6 1445.7,642.5 1446.9,647.2 1448.2,651.2 1449.4,651.2 1450.7,652.1 1451.9,652.7 1453.2,651.5 1454.4,649.2 1455.7,647.0 1456.9,643.5 1458.2,642.6 1459.4,645.7 1460.7,649.1 1461.9,651.6 1463.2,651.2 1464.4,651.3 1465.7,649.9 1466.9,645.6 1468.2,646.3 1469.4,647.3 1470.7,648.2 1471.9,650.1 1473.2,651.6 1474.4,653.4 1475.7,654.1 1476.9,655.9 1478.2,654.5 1479.4,652.8 1480.7,650.7 1481.9,647.1 1483.2,642.0 1484.4,636.8 1485.7,632.1 1486.9,626.1 1488.2,617.8 1489.4,609.3 1490.7,605.1 1491.9,604.8 1493.2,615.9 1494.4,622.9 1495.7,622.3 1496.9,616.6 1498.2,611.4 1499.4,620.6 1500.7,626.2 1501.9,627.8 1503.2,627.3 1504.4,630.0 1505.7,630.2 1506.9,629.7 1508.2,630.7 1509.4,631.5 1510.7,627.8 1511.9,628.2 1513.2,626.1 1514.4,623.0 1515.7,626.5 1516.9,629.4 1518.2,629.9 1519.4,631.4 1520.7,632.2 1521.9,632.2 1523.2,634.0 1524.4,635.0 1525.7,634.7 1526.9,633.4 1528.2,631.5 1529.4,638.1 1530.7,642.8 1531.9,646.4 1533.2,649.5 1534.4,652.2 1535.7,653.2 1536.9,653.8 1538.2,654.0 1539.4,652.8 1540.7,653.1 1541.9,652.1 1543.2,652.2 1544.4,650.1 1545.7,649.1 1546.9,650.4 1548.2,651.0 1549.4,651.7 1550.7,651.6 1551.9,653.5 1553.2,654.2 1554.4,654.1 1555.7,654.3 1556.9,654.0 1558.2,654.0 1559.4,652.9 1560.7,653.6 1561.9,653.1 1563.2,653.2 1564.4,652.5 1565.7,652.2 1566.9,652.8 1568.2,652.6 1569.4,652.4 1570.7,652.6 1571.9,652.3 1573.2,652.8 1574.4,652.1 1575.7,653.0 1576.9,651.5 1578.2,651.7 1579.4,652.5 1580.7,652.0 1581.9,652.8 1583.2,653.0 1584.4,652.6 1585.7,653.4 1586.9,648.3 1588.2,643.7 1589.4,641.7 1590.7,642.8 1591.9,646.2 1593.2,648.4 1594.4,650.2 1595.7,650.2 1596.9,649.2 1598.2,649.2 1599.4,646.1 1600.7,644.3 1601.9,646.4 1603.2,649.6 1604.4,650.0 1605.7,648.7 1606.9,648.8 1608.2,648.6 1609.4,647.1 1610.7,645.5 1611.9,643.8 1613.2,643.9 1614.4,646.5 1615.7,650.2 1616.9,651.4 1618.2,652.3 1619.4,654.5 1620.7,655.6 1621.9,655.0 1623.2,655.7 1624.4,656.2 1625.7,655.0 1626.9,652.5 1628.2,650.5 1629.4,647.3 1630.7,642.2 1631.9,633.9 1633.2,627.3 1634.4,621.4 1635.7,616.2 1636.9,616.0 1638.2,619.9 1639.4,622.5 1640.7,624.1 1641.9,622.6 1643.2,619.9 1644.4,617.6 1645.7,618.3 1646.9,622.9 1648.2,624.6 1649.4,626.3 1650.7,625.5 1651.9,623.1 1653.2,622.9 1654.4,624.8 1655.7,626.8 1656.9,627.6 1658.2,626.5 1659.4,627.2 1660.7,627.6 1661.9,625.6 1663.2,627.1 1664.4,626.6 1665.7,627.9 1666.9,629.3 1668.2,630.5 1669.4,632.1 1670.7,632.6 1671.9,632.5 1673.2,634.0 1674.4,634.6 1675.7,634.1 1676.9,633.4 1678.2,627.5 1679.4,631.2 1680.7,634.8 1681.9,636.9 1683.2,637.6 1684.4,636.4 1685.7,634.8 1686.9,635.4 1688.2,636.1 1689.4,635.4 1690.7,636.0 1691.9,636.3 1693.2,634.6 1694.4,632.4 1695.7,632.4 1696.9,631.6 1698.2,628.2 1699.4,624.4 1700.7,627.9 1701.9,633.7 1703.2,636.2 1704.4,636.7 1705.7,635.5 1706.9,636.6 1708.2,637.7 1709.4,638.0 1710.7,637.0 1711.9,635.0 1713.2,635.7 1714.4,637.3 1715.7,639.0 1716.9,640.6 1718.2,642.5 1719.4,645.0 1720.7,645.4 1721.9,646.4 1723.2,646.8 1724.4,647.9 1725.7,648.6 1726.9,648.7 1728.2,648.9 1729.4,647.5 1730.7,645.3 1731.9,645.8 1733.2,646.0 1734.4,644.7 1735.7,646.5 1736.9,647.7 1738.2,648.6 1739.4,647.7 1740.7,647.7 1741.9,649.7 1743.2,649.1 1744.4,650.8 1745.7,651.8 1746.9,652.2 1748.2,652.8 1749.4,653.3 1750.7,651.9 1751.9,653.0 1753.2,652.9 1754.4,652.9 1755.7,653.7 1756.9,654.2 1758.2,653.5 1759.4,654.9 1760.7,655.1 1761.9,654.7 1763.2,655.3 1764.4,657.0 1765.7,656.9 1766.9,656.6 1768.2,655.7 1769.4,656.5 1770.7,657.8 1771.9,657.6 1773.2,658.2 1774.4,656.8 1775.7,657.5 1776.9,658.1 1778.2,657.7 1779.4,657.2 1780.7,656.7 1781.9,658.1 1783.2,656.8 1784.4,656.7 1785.7,656.1 1786.9,657.2 1788.2,657.7 1789.4,657.8 1790.7,657.6 1791.9,656.6 1793.2,658.1 1794.4,656.4 1795.7,656.5 1796.9,657.6 1798.2,658.0 1799.4,656.8 1800.7,657.6 1801.9,656.5 1803.2,657.4 1804.4,657.0 1805.7,657.9 1806.9,656.9 1808.2,656.1 1809.4,654.0 1810.7,653.2 1811.9,647.4 1813.2,642.9 1814.4,640.7 1815.7,638.9 1816.9,638.4 1818.2,637.5 1819.4,634.0 1820.7,630.9 1821.9,630.5 1823.2,631.8 1824.4,631.3 1825.7,633.7 1826.9,634.8 1828.2,632.2 1829.4,631.9 1830.7,633.0 1831.9,633.9 1833.2,633.6 1834.4,633.1 1835.7,630.8 1836.9,626.7 1838.2,625.9 1839.4,622.8 1840.7,621.1 1841.9,618.3 1843.2,617.4 1844.4,619.6 1845.7,620.2 1846.9,621.0 1848.2,618.2 1849.4,621.1 1850.7,616.2 1851.9,614.4 1853.2,614.4 1854.4,614.5 1855.7,608.8 1856.9,602.2 1858.2,603.6 1859.4,604.6 1860.7,608.0 1861.9,610.8 1863.2,608.2 1864.4,602.0 1865.7,605.0 1866.9,607.2 1868.2,610.0 1869.4,611.1 1870.7,612.1 1871.9,612.0 1873.2,607.1 1874.4,609.5 1875.7,611.7 1876.9,616.0 1878.2,619.8 1879.4,620.9 1880.7,621.1 1881.9,622.0 1883.2,623.8 1884.4,622.2 1885.7,627.0 1886.9,626.7 1888.2,624.9 1889.4,624.1 1890.7,623.2 1891.9,622.5 1893.2,620.3 1894.4,616.0 1895.7,622.0 1896.9,626.8 1898.2,629.8 1899.4,633.7 1900.7,636.0 1901.9,638.7 1903.2,639.5 1904.4,639.6 1905.7,641.7 1906.9,641.7 1908.2,644.2 1909.4,645.7 1910.7,645.6 1911.9,646.1 1913.2,647.4 1914.4,648.1 1915.7,647.4 1916.9,643.9 1918.2,643.2 1919.4,643.3 1920.7,643.3 1921.9,644.2 1923.2,644.3 1924.4,645.0 1925.7,647.1 1926.9,647.6 1928.2,650.8 1929.4,650.6 1930.7,650.9 1931.9,649.1 1933.2,649.3 1934.4,651.5 1935.7,651.1 1936.9,652.0 1938.2,653.4 1939.4,654.3 1940.7,654.9 1941.9,654.3 1943.2,654.3 1944.4,656.1 1945.7,655.1 1946.9,655.7 1948.2,657.3 1949.4,657.3 1950.7,657.7 1951.9,657.8 1953.2,657.6 1954.4,657.9 1955.7,657.1 1956.9,656.5 1958.2,656.3 1959.4,656.6 1960.7,656.2 1961.9,656.1 1963.2,656.4 1964.4,657.3 1965.7,657.2 1966.9,656.6 1968.2,657.1 1969.4,657.0 1970.7,657.6 1971.9,657.5 1973.2,656.8 1974.4,657.3 1975.7,657.6 1976.9,656.8 1978.2,657.0 1979.4,657.0 1980.7,656.5 1981.9,656.4 1983.2,656.4 1984.4,656.0 1985.7,656.1 1985.7,662.2 1984.4,663.0 1983.2,662.4 1981.9,662.0 1980.7,662.4 1979.4,663.0 1978.2,662.5 1976.9,663.0 1975.7,662.9 1974.4,662.4 1973.2,662.0 1971.9,662.1 1970.7,662.4 1969.4,663.4 1968.2,662.1 1966.9,662.9 1965.7,662.3 1964.4,662.4 1963.2,662.2 1961.9,663.1 1960.7,662.9 1959.4,662.9 1958.2,663.8 1956.9,663.3 1955.7,661.7 1954.4,662.9 1953.2,662.0 1951.9,662.3 1950.7,663.2 1949.4,662.7 1948.2,662.3 1946.9,662.6 1945.7,662.5 1944.4,664.0 1943.2,662.8 1941.9,664.0 1940.7,664.1 1939.4,665.3 1938.2,665.8 1936.9,665.6 1935.7,664.5 1934.4,664.8 1933.2,666.3 1931.9,665.2 1930.7,665.4 1929.4,666.4 1928.2,667.2 1926.9,668.3 1925.7,668.5 1924.4,670.6 1923.2,669.4 1921.9,668.8 1920.7,667.8 1919.4,668.1 1918.2,668.8 1916.9,668.5 1915.7,671.1 1914.4,669.1 1913.2,670.7 1911.9,669.3 1910.7,669.7 1909.4,670.9 1908.2,671.7 1906.9,672.4 1905.7,674.2 1904.4,673.5 1903.2,674.4 1901.9,676.3 1900.7,678.9 1899.4,679.7 1898.2,681.8 1896.9,685.2 1895.7,688.7 1894.4,690.9 1893.2,694.7 1891.9,698.9 1890.7,698.3 1889.4,697.4 1888.2,700.4 1886.9,706.0 1885.7,703.6 1884.4,703.6 1883.2,707.3 1881.9,706.1 1880.7,704.2 1879.4,705.9 1878.2,709.0 1876.9,714.4 1875.7,720.2 1874.4,717.9 1873.2,714.6 1871.9,717.7 1870.7,720.1 1869.4,725.3 1868.2,724.7 1866.9,724.5 1865.7,730.4 1864.4,736.2 1863.2,733.7 1861.9,736.5 1860.7,738.3 1859.4,739.6 1858.2,742.5 1856.9,735.3 1855.7,718.1 1854.4,714.6 1853.2,713.5 1851.9,711.0 1850.7,707.5 1849.4,707.2 1848.2,702.0 1846.9,699.5 1845.7,701.0 1844.4,699.5 1843.2,699.3 1841.9,699.0 1840.7,696.6 1839.4,694.4 1838.2,693.6 1836.9,691.0 1835.7,689.6 1834.4,688.3 1833.2,685.4 1831.9,685.0 1830.7,685.6 1829.4,686.2 1828.2,682.3 1826.9,682.3 1825.7,683.6 1824.4,684.4 1823.2,686.1 1821.9,688.0 1820.7,692.0 1819.4,686.5 1818.2,682.8 1816.9,680.6 1815.7,677.9 1814.4,674.8 1813.2,673.5 1811.9,667.2 1810.7,664.1 1809.4,663.3 1808.2,662.4 1806.9,662.1 1805.7,663.2 1804.4,662.5 1803.2,662.9 1801.9,661.9 1800.7,662.3 1799.4,662.0 1798.2,661.8 1796.9,662.8 1795.7,661.6 1794.4,661.6 1793.2,662.3 1791.9,662.2 1790.7,663.2 1789.4,662.9 1788.2,663.2 1786.9,662.8 1785.7,662.0 1784.4,661.6 1783.2,662.0 1781.9,661.9 1780.7,661.7 1779.4,662.4 1778.2,661.6 1776.9,663.4 1775.7,661.4 1774.4,663.1 1773.2,661.4 1771.9,662.9 1770.7,661.3 1769.4,662.5 1768.2,663.3 1766.9,662.5 1765.7,662.2 1764.4,663.7 1763.2,664.2 1761.9,663.8 1760.7,662.7 1759.4,663.7 1758.2,664.3 1756.9,665.1 1755.7,664.2 1754.4,665.2 1753.2,666.2 1751.9,666.0 1750.7,666.4 1749.4,666.0 1748.2,666.5 1746.9,666.0 1745.7,666.3 1744.4,667.2 1743.2,669.0 1741.9,667.9 1740.7,667.7 1739.4,668.6 1738.2,669.3 1736.9,670.1 1735.7,669.3 1734.4,669.4 1733.2,668.6 1731.9,669.0 1730.7,670.3 1729.4,671.1 1728.2,671.6 1726.9,672.0 1725.7,671.7 1724.4,671.5 1723.2,673.1 1721.9,674.5 1720.7,673.3 1719.4,673.8 1718.2,674.8 1716.9,676.5 1715.7,678.2 1714.4,678.3 1713.2,678.2 1711.9,678.8 1710.7,679.4 1709.4,679.8 1708.2,682.0 1706.9,679.9 1705.7,679.7 1704.4,679.1 1703.2,680.1 1701.9,684.0 1700.7,683.3 1699.4,683.2 1698.2,682.9 1696.9,683.8 1695.7,682.2 1694.4,682.1 1693.2,683.8 1691.9,680.8 1690.7,680.4 1689.4,682.4 1688.2,683.4 1686.9,683.4 1685.7,683.9 1684.4,682.3 1683.2,683.9 1681.9,684.3 1680.7,684.6 1679.4,686.1 1678.2,685.7 1676.9,686.1 1675.7,687.2 1674.4,686.5 1673.2,685.7 1671.9,685.3 1670.7,684.9 1669.4,685.3 1668.2,686.6 1666.9,690.0 1665.7,687.0 1664.4,687.0 1663.2,689.3 1661.9,694.1 1660.7,693.3 1659.4,691.9 1658.2,691.1 1656.9,690.4 1655.7,691.4 1654.4,693.0 1653.2,695.5 1651.9,698.5 1650.7,701.1 1649.4,701.2 1648.2,695.9 1646.9,698.9 1645.7,703.3 1644.4,701.5 1643.2,699.5 1641.9,702.7 1640.7,706.1 1639.4,711.7 1638.2,709.7 1636.9,707.2 1635.7,710.7 1634.4,701.7 1633.2,693.7 1631.9,686.7 1630.7,678.0 1629.4,674.6 1628.2,670.2 1626.9,665.3 1625.7,663.2 1624.4,662.7 1623.2,663.1 1621.9,664.6 1620.7,664.7 1619.4,667.2 1618.2,667.8 1616.9,670.1 1615.7,671.4 1614.4,673.1 1613.2,673.4 1611.9,673.2 1610.7,673.7 1609.4,672.1 1608.2,671.7 1606.9,670.0 1605.7,670.4 1604.4,671.8 1603.2,673.8 1601.9,675.3 1600.7,673.6 1599.4,673.3 1598.2,672.7 1596.9,670.7 1595.7,669.2 1594.4,668.9 1593.2,669.8 1591.9,673.5 1590.7,674.6 1589.4,673.9 1588.2,673.8 1586.9,668.9 1585.7,665.8 1584.4,665.0 1583.2,664.9 1581.9,666.3 1580.7,666.1 1579.4,666.1 1578.2,666.3 1576.9,665.2 1575.7,665.2 1574.4,665.3 1573.2,665.1 1571.9,665.8 1570.7,665.1 1569.4,665.5 1568.2,666.2 1566.9,665.9 1565.7,665.3 1564.4,666.1 1563.2,665.4 1561.9,665.5 1560.7,666.1 1559.4,666.1 1558.2,664.8 1556.9,666.0 1555.7,664.9 1554.4,665.7 1553.2,665.1 1551.9,666.0 1550.7,665.7 1549.4,666.9 1548.2,667.7 1546.9,667.7 1545.7,665.7 1544.4,666.1 1543.2,665.9 1541.9,665.1 1540.7,665.3 1539.4,665.3 1538.2,665.7 1536.9,665.4 1535.7,665.5 1534.4,665.4 1533.2,667.5 1531.9,670.7 1530.7,674.0 1529.4,679.6 1528.2,685.1 1526.9,685.8 1525.7,687.3 1524.4,687.0 1523.2,687.3 1521.9,688.3 1520.7,689.6 1519.4,692.2 1518.2,693.2 1516.9,695.1 1515.7,696.8 1514.4,696.3 1513.2,696.3 1511.9,693.0 1510.7,692.7 1509.4,694.4 1508.2,695.6 1506.9,697.8 1505.7,702.5 1504.4,696.7 1503.2,698.5 1501.9,705.2 1500.7,707.6 1499.4,707.6 1498.2,710.0 1496.9,711.5 1495.7,708.8 1494.4,714.9 1493.2,716.0 1491.9,714.0 1490.7,713.5 1489.4,713.3 1488.2,711.2 1486.9,700.6 1485.7,688.7 1484.4,680.1 1483.2,673.9 1481.9,669.3 1480.7,665.4 1479.4,664.4 1478.2,664.3 1476.9,664.5 1475.7,664.4 1474.4,664.9 1473.2,667.4 1471.9,668.8 1470.7,672.7 1469.4,672.3 1468.2,672.7 1466.9,672.4 1465.7,671.4 1464.4,670.3 1463.2,669.7 1461.9,669.1 1460.7,669.5 1459.4,670.7 1458.2,671.3 1456.9,673.3 1455.7,672.6 1454.4,671.7 1453.2,670.9 1451.9,670.6 1450.7,669.4 1449.4,668.6 1448.2,669.0 1446.9,669.7 1445.7,671.4 1444.4,672.4 1443.2,671.0 1441.9,670.3 1440.7,668.1 1439.4,665.9 1438.2,665.6 1436.9,666.9 1435.7,666.5 1434.4,665.5 1433.2,665.7 1431.9,665.1 1430.7,665.6 1429.4,664.6 1428.2,665.7 1426.9,665.5 1425.7,664.5 1424.4,664.8 1423.2,664.8 1421.9,664.3 1420.7,664.2 1419.4,664.3 1418.2,665.6 1416.9,665.5 1415.7,663.7 1414.4,664.9 1413.2,665.5 1411.9,664.1 1410.7,664.2 1409.4,664.4 1408.2,664.1 1406.9,664.1 1405.7,664.8 1404.4,664.8 1403.2,665.7 1401.9,666.5 1400.7,666.5 1399.4,666.7 1398.2,667.5 1396.9,668.1 1395.7,667.6 1394.4,665.8 1393.2,665.4 1391.9,665.1 1390.7,666.6 1389.4,666.3 1388.2,666.2 1386.9,667.2 1385.7,666.6 1384.4,667.2 1383.2,668.2 1381.9,668.5 1380.7,668.2 1379.4,666.4 1378.2,667.2 1376.9,667.2 1375.7,667.2 1374.4,667.2 1373.2,668.1 1371.9,666.7 1370.7,665.9 1369.4,664.9 1368.2,664.9 1366.9,665.4 1365.7,664.7 1364.4,663.9 1363.2,665.7 1361.9,666.2 1360.7,666.0 1359.4,665.3 1358.2,665.8 1356.9,665.8 1355.7,667.4 1354.4,665.2 1353.2,666.3 1351.9,665.4 1350.7,666.0 1349.4,665.8 1348.2,665.7 1346.9,664.6 1345.7,666.1 1344.4,665.9 1343.2,664.7 1341.9,664.7 1340.7,665.1 1339.4,664.6 1338.2,665.1 1336.9,665.7 1335.7,665.5 1334.4,667.0 1333.2,666.3 1331.9,665.7 1330.7,665.5 1329.4,665.4 1328.2,664.8 1326.9,664.6 1325.7,664.9 1324.4,666.4 1323.2,667.2 1321.9,667.7 1320.7,666.8 1319.4,667.4 1318.2,668.5 1316.9,666.3 1315.7,666.4 1314.4,665.4 1313.2,664.5 1311.9,664.3 1310.7,663.0 1309.4,663.5 1308.2,662.7" fill="#5fa4d8"/><polygon points="1308.2,658.7 1309.4,658.2 1310.7,657.9 1311.9,657.7 1313.2,657.9 1314.4,657.9 1315.7,657.9 1316.9,657.8 1318.2,657.9 1319.4,657.9 1320.7,657.8 1321.9,657.7 1323.2,657.9 1324.4,657.8 1325.7,657.6 1326.9,657.5 1328.2,657.8 1329.4,657.6 1330.7,657.5 1331.9,657.6 1333.2,657.5 1334.4,657.5 1335.7,657.8 1336.9,657.7 1338.2,657.6 1339.4,657.7 1340.7,657.7 1341.9,657.7 1343.2,657.7 1344.4,657.7 1345.7,657.6 1346.9,657.6 1348.2,657.7 1349.4,657.8 1350.7,657.7 1351.9,657.7 1353.2,657.5 1354.4,657.7 1355.7,657.7 1356.9,657.8 1358.2,657.7 1359.4,657.5 1360.7,657.6 1361.9,657.8 1363.2,657.7 1364.4,657.5 1365.7,657.6 1366.9,657.6 1368.2,657.8 1369.4,657.5 1370.7,657.5 1371.9,657.6 1373.2,657.6 1374.4,657.7 1375.7,657.7 1376.9,657.7 1378.2,657.7 1379.4,657.6 1380.7,657.8 1381.9,657.5 1383.2,657.7 1384.4,657.5 1385.7,657.6 1386.9,657.5 1388.2,657.6 1389.4,657.4 1390.7,657.6 1391.9,657.7 1393.2,657.6 1394.4,657.4 1395.7,657.5 1396.9,657.2 1398.2,657.4 1399.4,657.3 1400.7,657.5 1401.9,657.6 1403.2,657.7 1404.4,657.5 1405.7,657.6 1406.9,657.6 1408.2,657.4 1409.4,657.6 1410.7,657.5 1411.9,657.5 1413.2,657.7 1414.4,657.6 1415.7,657.5 1416.9,657.4 1418.2,657.5 1419.4,657.6 1420.7,657.5 1421.9,657.5 1423.2,657.2 1424.4,657.6 1425.7,657.4 1426.9,657.6 1428.2,657.6 1429.4,657.4 1430.7,657.3 1431.9,657.5 1433.2,657.6 1434.4,657.4 1435.7,657.5 1436.9,657.2 1438.2,657.1 1439.4,657.4 1440.7,656.4 1441.9,655.3 1443.2,654.3 1444.4,653.7 1445.7,653.9 1446.9,654.3 1448.2,654.7 1449.4,654.7 1450.7,654.6 1451.9,654.6 1453.2,654.5 1454.4,654.7 1455.7,654.5 1456.9,654.6 1458.2,654.8 1459.4,654.9 1460.7,655.0 1461.9,655.1 1463.2,655.2 1464.4,655.1 1465.7,654.9 1466.9,655.0 1468.2,655.1 1469.4,655.2 1470.7,655.4 1471.9,655.5 1473.2,655.4 1474.4,655.1 1475.7,655.9 1476.9,656.9 1478.2,657.6 1479.4,656.7 1480.7,654.7 1481.9,652.4 1483.2,650.4 1484.4,648.0 1485.7,645.2 1486.9,642.9 1488.2,640.6 1489.4,640.9 1490.7,641.8 1491.9,641.4 1493.2,640.5 1494.4,640.4 1495.7,640.4 1496.9,641.7 1498.2,641.3 1499.4,642.2 1500.7,643.0 1501.9,643.8 1503.2,644.2 1504.4,643.8 1505.7,643.5 1506.9,644.1 1508.2,644.6 1509.4,644.0 1510.7,643.3 1511.9,644.6 1513.2,645.1 1514.4,645.5 1515.7,645.8 1516.9,645.4 1518.2,645.0 1519.4,645.6 1520.7,646.6 1521.9,647.3 1523.2,647.6 1524.4,647.1 1525.7,648.1 1526.9,649.5 1528.2,650.7 1529.4,651.2 1530.7,652.5 1531.9,654.3 1533.2,655.8 1534.4,657.1 1535.7,657.0 1536.9,657.1 1538.2,656.9 1539.4,657.0 1540.7,657.1 1541.9,656.9 1543.2,656.8 1544.4,656.8 1545.7,657.0 1546.9,657.1 1548.2,657.1 1549.4,656.9 1550.7,657.0 1551.9,656.9 1553.2,657.1 1554.4,656.9 1555.7,656.6 1556.9,656.6 1558.2,656.8 1559.4,656.9 1560.7,657.1 1561.9,656.7 1563.2,657.0 1564.4,657.0 1565.7,657.0 1566.9,656.9 1568.2,657.0 1569.4,657.1 1570.7,657.1 1571.9,657.1 1573.2,657.1 1574.4,656.9 1575.7,657.0 1576.9,656.8 1578.2,657.1 1579.4,657.1 1580.7,657.0 1581.9,656.7 1583.2,657.1 1584.4,657.1 1585.7,657.0 1586.9,655.6 1588.2,654.7 1589.4,653.6 1590.7,653.6 1591.9,653.7 1593.2,653.2 1594.4,652.7 1595.7,653.3 1596.9,653.6 1598.2,653.7 1599.4,653.6 1600.7,653.8 1601.9,653.5 1603.2,653.7 1604.4,654.0 1605.7,654.1 1606.9,654.0 1608.2,654.0 1609.4,654.0 1610.7,654.1 1611.9,654.1 1613.2,654.2 1614.4,654.2 1615.7,654.0 1616.9,654.1 1618.2,654.4 1619.4,655.3 1620.7,656.2 1621.9,657.2 1623.2,658.1 1624.4,657.5 1625.7,656.3 1626.9,654.2 1628.2,651.8 1629.4,649.4 1630.7,647.4 1631.9,646.2 1633.2,645.3 1634.4,644.5 1635.7,642.6 1636.9,641.8 1638.2,642.0 1639.4,643.2 1640.7,645.2 1641.9,646.0 1643.2,646.4 1644.4,646.2 1645.7,646.7 1646.9,647.7 1648.2,648.1 1649.4,648.9 1650.7,649.5 1651.9,649.5 1653.2,649.4 1654.4,649.8 1655.7,650.3 1656.9,650.5 1658.2,650.2 1659.4,650.5 1660.7,651.0 1661.9,651.1 1663.2,651.3 1664.4,651.2 1665.7,651.2 1666.9,650.7 1668.2,651.3 1669.4,651.5 1670.7,651.3 1671.9,651.9 1673.2,651.7 1674.4,652.0 1675.7,652.3 1676.9,652.2 1678.2,652.0 1679.4,651.7 1680.7,652.1 1681.9,652.3 1683.2,652.4 1684.4,652.5 1685.7,652.2 1686.9,652.5 1688.2,652.7 1689.4,652.9 1690.7,652.8 1691.9,652.6 1693.2,652.2 1694.4,653.0 1695.7,653.2 1696.9,653.0 1698.2,653.0 1699.4,653.1 1700.7,653.3 1701.9,653.4 1703.2,653.2 1704.4,653.3 1705.7,653.5 1706.9,653.4 1708.2,653.4 1709.4,653.5 1710.7,653.3 1711.9,653.4 1713.2,653.1 1714.4,653.1 1715.7,653.2 1716.9,653.8 1718.2,654.3 1719.4,654.5 1720.7,654.7 1721.9,655.1 1723.2,655.1 1724.4,655.5 1725.7,655.6 1726.9,655.6 1728.2,655.2 1729.4,655.5 1730.7,655.4 1731.9,655.8 1733.2,656.0 1734.4,656.1 1735.7,656.2 1736.9,656.5 1738.2,656.4 1739.4,656.8 1740.7,656.7 1741.9,656.8 1743.2,657.1 1744.4,657.1 1745.7,657.2 1746.9,657.2 1748.2,657.3 1749.4,657.4 1750.7,657.4 1751.9,657.5 1753.2,657.6 1754.4,657.8 1755.7,657.4 1756.9,657.8 1758.2,657.9 1759.4,658.0 1760.7,657.9 1761.9,658.2 1763.2,658.1 1764.4,658.2 1765.7,658.2 1766.9,658.3 1768.2,658.6 1769.4,658.6 1770.7,658.6 1771.9,658.5 1773.2,658.6 1774.4,658.7 1775.7,658.6 1776.9,658.6 1778.2,658.6 1779.4,658.5 1780.7,658.6 1781.9,658.7 1783.2,658.6 1784.4,658.5 1785.7,658.6 1786.9,658.4 1788.2,658.4 1789.4,658.4 1790.7,658.5 1791.9,658.4 1793.2,658.5 1794.4,658.5 1795.7,658.6 1796.9,658.4 1798.2,658.6 1799.4,658.7 1800.7,658.5 1801.9,658.5 1803.2,658.7 1804.4,658.7 1805.7,658.6 1806.9,658.4 1808.2,657.5 1809.4,656.2 1810.7,654.7 1811.9,653.0 1813.2,651.6 1814.4,651.2 1815.7,650.4 1816.9,649.3 1818.2,648.4 1819.4,647.8 1820.7,647.4 1821.9,647.4 1823.2,647.8 1824.4,647.8 1825.7,646.9 1826.9,646.4 1828.2,646.0 1829.4,645.9 1830.7,646.3 1831.9,646.5 1833.2,646.4 1834.4,644.8 1835.7,644.1 1836.9,645.5 1838.2,646.2 1839.4,646.2 1840.7,646.7 1841.9,646.5 1843.2,645.7 1844.4,645.1 1845.7,643.8 1846.9,644.1 1848.2,642.1 1849.4,640.6 1850.7,640.5 1851.9,640.4 1853.2,638.9 1854.4,637.9 1855.7,636.3 1856.9,634.1 1858.2,633.2 1859.4,631.8 1860.7,629.0 1861.9,628.5 1863.2,627.2 1864.4,627.8 1865.7,628.6 1866.9,628.8 1868.2,630.6 1869.4,632.0 1870.7,635.0 1871.9,636.8 1873.2,637.8 1874.4,638.3 1875.7,638.2 1876.9,639.2 1878.2,639.0 1879.4,639.8 1880.7,641.0 1881.9,641.8 1883.2,643.2 1884.4,644.5 1885.7,643.9 1886.9,644.5 1888.2,645.6 1889.4,646.2 1890.7,647.2 1891.9,647.9 1893.2,648.2 1894.4,647.9 1895.7,649.4 1896.9,649.9 1898.2,650.1 1899.4,650.9 1900.7,651.4 1901.9,652.2 1903.2,652.7 1904.4,652.1 1905.7,653.2 1906.9,653.7 1908.2,654.1 1909.4,654.7 1910.7,654.8 1911.9,654.6 1913.2,654.2 1914.4,654.7 1915.7,655.3 1916.9,655.2 1918.2,655.7 1919.4,655.9 1920.7,656.0 1921.9,656.3 1923.2,656.0 1924.4,656.6 1925.7,656.7 1926.9,656.8 1928.2,657.0 1929.4,656.9 1930.7,657.3 1931.9,657.3 1933.2,657.1 1934.4,657.5 1935.7,657.5 1936.9,657.7 1938.2,657.9 1939.4,657.9 1940.7,657.9 1941.9,657.9 1943.2,658.3 1944.4,658.4 1945.7,658.3 1946.9,658.5 1948.2,658.6 1949.4,658.6 1950.7,658.4 1951.9,658.7 1953.2,658.6 1954.4,658.6 1955.7,658.7 1956.9,658.5 1958.2,658.4 1959.4,658.5 1960.7,658.5 1961.9,658.5 1963.2,658.6 1964.4,658.5 1965.7,658.5 1966.9,658.5 1968.2,658.6 1969.4,658.3 1970.7,658.3 1971.9,658.3 1973.2,658.3 1974.4,658.4 1975.7,658.4 1976.9,658.4 1978.2,658.4 1979.4,658.1 1980.7,658.1 1981.9,658.4 1983.2,658.1 1984.4,658.1 1985.7,658.3 1985.7,661.4 1984.4,661.4 1983.2,661.3 1981.9,661.5 1980.7,661.3 1979.4,661.3 1978.2,661.4 1976.9,661.4 1975.7,661.6 1974.4,661.1 1973.2,661.3 1971.9,661.3 1970.7,661.5 1969.4,661.3 1968.2,661.1 1966.9,661.1 1965.7,661.0 1964.4,661.2 1963.2,661.1 1961.9,661.1 1960.7,661.1 1959.4,661.2 1958.2,661.0 1956.9,661.0 1955.7,661.0 1954.4,661.1 1953.2,661.2 1951.9,661.0 1950.7,660.9 1949.4,660.9 1948.2,661.1 1946.9,661.2 1945.7,661.2 1944.4,661.3 1943.2,661.3 1941.9,661.3 1940.7,661.5 1939.4,661.6 1938.2,661.5 1936.9,661.7 1935.7,662.1 1934.4,662.2 1933.2,661.9 1931.9,662.3 1930.7,662.1 1929.4,662.1 1928.2,662.3 1926.9,662.3 1925.7,662.5 1924.4,662.6 1923.2,662.5 1921.9,662.7 1920.7,662.9 1919.4,663.2 1918.2,663.1 1916.9,663.1 1915.7,663.3 1914.4,663.6 1913.2,663.9 1911.9,663.5 1910.7,663.5 1909.4,663.5 1908.2,663.8 1906.9,664.2 1905.7,664.5 1904.4,664.7 1903.2,664.9 1901.9,665.7 1900.7,665.7 1899.4,666.0 1898.2,666.3 1896.9,666.8 1895.7,667.5 1894.4,668.1 1893.2,668.8 1891.9,669.0 1890.7,669.0 1889.4,669.8 1888.2,669.7 1886.9,670.0 1885.7,670.0 1884.4,670.5 1883.2,671.4 1881.9,671.3 1880.7,671.3 1879.4,671.4 1878.2,671.0 1876.9,671.2 1875.7,671.5 1874.4,671.8 1873.2,672.3 1871.9,673.3 1870.7,672.9 1869.4,673.6 1868.2,674.2 1866.9,674.0 1865.7,674.1 1864.4,674.4 1863.2,674.6 1861.9,673.5 1860.7,673.5 1859.4,673.5 1858.2,673.7 1856.9,672.8 1855.7,672.6 1854.4,672.6 1853.2,672.7 1851.9,673.4 1850.7,672.6 1849.4,672.6 1848.2,672.6 1846.9,672.0 1845.7,671.9 1844.4,671.4 1843.2,671.2 1841.9,671.6 1840.7,672.7 1839.4,672.1 1838.2,671.2 1836.9,670.8 1835.7,670.7 1834.4,670.9 1833.2,670.6 1831.9,670.7 1830.7,670.6 1829.4,670.7 1828.2,670.5 1826.9,669.7 1825.7,669.6 1824.4,669.6 1823.2,669.5 1821.9,669.8 1820.7,669.4 1819.4,669.1 1818.2,669.3 1816.9,669.3 1815.7,667.3 1814.4,666.5 1813.2,666.2 1811.9,665.1 1810.7,664.0 1809.4,662.9 1808.2,661.5 1806.9,661.1 1805.7,661.1 1804.4,660.8 1803.2,660.8 1801.9,660.8 1800.7,661.1 1799.4,660.8 1798.2,660.9 1796.9,660.7 1795.7,660.8 1794.4,660.8 1793.2,661.1 1791.9,660.8 1790.7,660.8 1789.4,660.7 1788.2,661.0 1786.9,660.8 1785.7,660.8 1784.4,660.6 1783.2,660.9 1781.9,660.6 1780.7,660.7 1779.4,660.8 1778.2,660.9 1776.9,660.8 1775.7,660.7 1774.4,660.8 1773.2,660.8 1771.9,660.5 1770.7,660.7 1769.4,660.5 1768.2,660.7 1766.9,660.7 1765.7,661.0 1764.4,661.0 1763.2,660.9 1761.9,661.1 1760.7,661.1 1759.4,661.4 1758.2,661.2 1756.9,661.3 1755.7,661.4 1754.4,661.5 1753.2,661.6 1751.9,661.8 1750.7,661.9 1749.4,661.9 1748.2,661.9 1746.9,662.2 1745.7,662.5 1744.4,662.1 1743.2,662.2 1741.9,662.3 1740.7,662.5 1739.4,662.5 1738.2,662.6 1736.9,662.8 1735.7,662.9 1734.4,663.1 1733.2,663.1 1731.9,663.2 1730.7,663.3 1729.4,663.3 1728.2,663.4 1726.9,663.6 1725.7,663.5 1724.4,663.8 1723.2,664.0 1721.9,664.4 1720.7,664.9 1719.4,665.0 1718.2,665.5 1716.9,665.9 1715.7,666.4 1714.4,666.1 1713.2,666.4 1711.9,666.8 1710.7,666.9 1709.4,666.5 1708.2,666.4 1706.9,666.6 1705.7,667.2 1704.4,667.4 1703.2,666.8 1701.9,667.2 1700.7,667.1 1699.4,667.0 1698.2,667.1 1696.9,667.3 1695.7,667.1 1694.4,667.2 1693.2,667.9 1691.9,668.1 1690.7,668.0 1689.4,667.3 1688.2,667.4 1686.9,667.8 1685.7,667.5 1684.4,667.7 1683.2,667.6 1681.9,667.7 1680.7,668.0 1679.4,668.1 1678.2,668.2 1676.9,668.5 1675.7,667.6 1674.4,667.7 1673.2,667.8 1671.9,667.9 1670.7,668.0 1669.4,668.2 1668.2,668.3 1666.9,667.9 1665.7,668.5 1664.4,668.0 1663.2,668.1 1661.9,667.8 1660.7,668.0 1659.4,668.6 1658.2,669.1 1656.9,668.3 1655.7,668.3 1654.4,669.0 1653.2,669.2 1651.9,669.4 1650.7,668.9 1649.4,669.4 1648.2,669.9 1646.9,670.2 1645.7,670.9 1644.4,671.2 1643.2,671.2 1641.9,671.7 1640.7,672.1 1639.4,672.9 1638.2,673.0 1636.9,673.0 1635.7,672.3 1634.4,671.6 1633.2,671.0 1631.9,669.7 1630.7,669.3 1629.4,667.5 1628.2,666.1 1626.9,664.1 1625.7,663.0 1624.4,661.9 1623.2,661.2 1621.9,662.5 1620.7,663.7 1619.4,665.1 1618.2,666.3 1616.9,666.4 1615.7,666.5 1614.4,666.3 1613.2,666.5 1611.9,666.9 1610.7,666.5 1609.4,666.5 1608.2,666.6 1606.9,666.8 1605.7,666.8 1604.4,666.7 1603.2,666.7 1601.9,667.0 1600.7,667.2 1599.4,667.1 1598.2,666.7 1596.9,666.7 1595.7,667.0 1594.4,667.4 1593.2,667.0 1591.9,667.2 1590.7,667.3 1589.4,666.7 1588.2,665.3 1586.9,664.1 1585.7,662.9 1584.4,662.7 1583.2,662.5 1581.9,662.5 1580.7,662.5 1579.4,662.6 1578.2,662.8 1576.9,662.6 1575.7,662.7 1574.4,662.8 1573.2,662.5 1571.9,662.5 1570.7,662.6 1569.4,662.6 1568.2,663.1 1566.9,662.6 1565.7,662.6 1564.4,662.6 1563.2,662.7 1561.9,663.1 1560.7,663.1 1559.4,662.8 1558.2,662.5 1556.9,662.6 1555.7,662.9 1554.4,662.7 1553.2,662.5 1551.9,663.0 1550.7,662.5 1549.4,662.6 1548.2,662.6 1546.9,662.6 1545.7,662.5 1544.4,662.9 1543.2,662.8 1541.9,662.5 1540.7,662.6 1539.4,662.8 1538.2,662.8 1536.9,662.5 1535.7,662.6 1534.4,662.6 1533.2,663.9 1531.9,665.7 1530.7,667.1 1529.4,668.4 1528.2,670.1 1526.9,671.8 1525.7,671.7 1524.4,672.2 1523.2,672.6 1521.9,673.3 1520.7,672.6 1519.4,673.2 1518.2,673.5 1516.9,674.3 1515.7,675.2 1514.4,675.1 1513.2,674.0 1511.9,674.6 1510.7,675.4 1509.4,674.8 1508.2,675.8 1506.9,675.4 1505.7,675.2 1504.4,675.4 1503.2,675.0 1501.9,675.6 1500.7,676.2 1499.4,676.5 1498.2,676.9 1496.9,676.5 1495.7,677.2 1494.4,678.0 1493.2,677.4 1491.9,676.8 1490.7,676.1 1489.4,675.7 1488.2,675.9 1486.9,674.1 1485.7,672.2 1484.4,669.9 1483.2,667.6 1481.9,666.4 1480.7,664.9 1479.4,662.9 1478.2,662.0 1476.9,663.0 1475.7,663.9 1474.4,664.9 1473.2,664.8 1471.9,665.0 1470.7,665.0 1469.4,665.1 1468.2,665.3 1466.9,665.5 1465.7,665.4 1464.4,665.2 1463.2,665.1 1461.9,665.2 1460.7,665.5 1459.4,665.3 1458.2,665.3 1456.9,665.5 1455.7,665.5 1454.4,665.7 1453.2,665.9 1451.9,665.7 1450.7,665.5 1449.4,665.4 1448.2,666.0 1446.9,666.2 1445.7,665.7 1444.4,665.8 1443.2,665.2 1441.9,664.2 1440.7,663.3 1439.4,662.4 1438.2,662.1 1436.9,662.1 1435.7,662.3 1434.4,662.3 1433.2,662.3 1431.9,662.2 1430.7,662.1 1429.4,662.0 1428.2,662.2 1426.9,662.1 1425.7,662.2 1424.4,662.1 1423.2,662.1 1421.9,662.3 1420.7,662.3 1419.4,662.0 1418.2,662.1 1416.9,662.2 1415.7,662.1 1414.4,662.2 1413.2,662.1 1411.9,662.3 1410.7,662.0 1409.4,661.9 1408.2,662.1 1406.9,661.9 1405.7,661.9 1404.4,662.0 1403.2,662.1 1401.9,662.2 1400.7,662.0 1399.4,662.0 1398.2,661.9 1396.9,662.0 1395.7,662.0 1394.4,661.7 1393.2,661.8 1391.9,661.9 1390.7,661.9 1389.4,661.8 1388.2,661.8 1386.9,661.7 1385.7,661.8 1384.4,661.8 1383.2,661.7 1381.9,661.8 1380.7,661.7 1379.4,661.9 1378.2,661.9 1376.9,661.8 1375.7,661.7 1374.4,661.7 1373.2,661.7 1371.9,661.8 1370.7,661.7 1369.4,661.7 1368.2,661.8 1366.9,661.6 1365.7,661.7 1364.4,661.6 1363.2,661.6 1361.9,661.7 1360.7,661.7 1359.4,662.0 1358.2,661.8 1356.9,661.6 1355.7,661.7 1354.4,661.9 1353.2,661.9 1351.9,661.6 1350.7,661.8 1349.4,661.9 1348.2,661.6 1346.9,661.7 1345.7,661.5 1344.4,661.8 1343.2,661.6 1341.9,661.7 1340.7,661.7 1339.4,661.7 1338.2,661.7 1336.9,661.6 1335.7,661.5 1334.4,661.5 1333.2,661.4 1331.9,661.4 1330.7,661.6 1329.4,661.5 1328.2,661.5 1326.9,661.4 1325.7,661.6 1324.4,661.3 1323.2,661.5 1321.9,661.7 1320.7,661.3 1319.4,661.5 1318.2,661.4 1316.9,661.3 1315.7,661.5 1314.4,661.5 1313.2,661.4 1311.9,661.5 1310.7,661.3 1309.4,660.9 1308.2,660.8" fill="#0a73bf"/><line x1="1308.4" y1="631.6" x2="1308.4" y2="671.6" stroke="#3a8fd0" stroke-width="1.4"/><path d="M1446.6 523.8v7M1446.6 794.6v-7" stroke="#a0a0a0" stroke-width="1.2" fill="none"/><path d="M1585.7 523.8v7M1585.7 794.6v-7" stroke="#a0a0a0" stroke-width="1.2" fill="none"/><path d="M1724.8 523.8v7M1724.8 794.6v-7" stroke="#a0a0a0" stroke-width="1.2" fill="none"/><path d="M1863.8 523.8v7M1863.8 794.6v-7" stroke="#a0a0a0" stroke-width="1.2" fill="none"/><path d="M1307.6 749.6h7M1987.0 749.6h-7" stroke="#b4b4b4" stroke-width="1.1" fill="none"/><path d="M1307.6 704.6h7M1987.0 704.6h-7" stroke="#b4b4b4" stroke-width="1.1" fill="none"/><path d="M1307.6 614.6h7M1987.0 614.6h-7" stroke="#b4b4b4" stroke-width="1.1" fill="none"/><path d="M1307.6 569.6h7M1987.0 569.6h-7" stroke="#b4b4b4" stroke-width="1.1" fill="none"/><rect x="1307.6" y="523.8" width="679.4" height="270.8" fill="none" stroke="#8e8e8e" stroke-width="1.3"/><text class="tk" x="1293" y="579.8" text-anchor="end">1</text><text class="tk" x="1293" y="669.8" text-anchor="end">0</text><text class="tk" x="1293" y="759.8" text-anchor="end">-1</text><text class="ch" x="1976" y="556.3" text-anchor="end">HNN</text><rect x="1307.6" y="827.4" width="679.4" height="270.8" fill="#fff"/><line x1="1446.6" y1="827.4" x2="1446.6" y2="1098.2" stroke="#f7f7f7" stroke-width="1.5"/><line x1="1585.7" y1="827.4" x2="1585.7" y2="1098.2" stroke="#f7f7f7" stroke-width="1.5"/><line x1="1724.8" y1="827.4" x2="1724.8" y2="1098.2" stroke="#f7f7f7" stroke-width="1.5"/><line x1="1863.8" y1="827.4" x2="1863.8" y2="1098.2" stroke="#f7f7f7" stroke-width="1.5"/><polygon points="1308.2,960.7 1309.4,958.4 1310.7,957.9 1311.9,955.9 1313.2,954.5 1314.4,953.6 1315.7,952.5 1316.9,953.6 1318.2,951.6 1319.4,951.3 1320.7,951.6 1321.9,951.5 1323.2,951.4 1324.4,950.8 1325.7,951.2 1326.9,951.4 1328.2,951.0 1329.4,951.0 1330.7,952.9 1331.9,953.3 1333.2,953.7 1334.4,954.0 1335.7,952.2 1336.9,952.1 1338.2,953.5 1339.4,953.5 1340.7,953.1 1341.9,952.3 1343.2,953.2 1344.4,953.4 1345.7,953.0 1346.9,954.6 1348.2,955.4 1349.4,954.8 1350.7,954.6 1351.9,953.7 1353.2,954.8 1354.4,954.6 1355.7,952.9 1356.9,954.0 1358.2,953.5 1359.4,953.6 1360.7,952.8 1361.9,953.5 1363.2,952.5 1364.4,954.0 1365.7,952.7 1366.9,952.7 1368.2,954.7 1369.4,953.8 1370.7,953.9 1371.9,954.6 1373.2,954.9 1374.4,954.4 1375.7,954.3 1376.9,953.2 1378.2,953.4 1379.4,950.6 1380.7,951.2 1381.9,951.9 1383.2,950.9 1384.4,950.0 1385.7,948.7 1386.9,948.3 1388.2,947.3 1389.4,948.9 1390.7,950.5 1391.9,952.0 1393.2,950.1 1394.4,950.2 1395.7,949.9 1396.9,950.0 1398.2,949.9 1399.4,949.2 1400.7,949.8 1401.9,951.2 1403.2,951.5 1404.4,951.8 1405.7,952.3 1406.9,952.9 1408.2,953.2 1409.4,953.3 1410.7,954.1 1411.9,954.0 1413.2,954.7 1414.4,954.8 1415.7,954.6 1416.9,954.3 1418.2,954.5 1419.4,954.7 1420.7,954.9 1421.9,954.5 1423.2,953.7 1424.4,953.1 1425.7,952.7 1426.9,951.1 1428.2,950.3 1429.4,947.3 1430.7,949.6 1431.9,952.1 1433.2,953.5 1434.4,952.9 1435.7,951.6 1436.9,951.3 1438.2,948.0 1439.4,948.4 1440.7,946.4 1441.9,944.3 1443.2,943.8 1444.4,943.1 1445.7,941.0 1446.9,941.6 1448.2,943.6 1449.4,944.8 1450.7,944.9 1451.9,945.5 1453.2,944.9 1454.4,939.4 1455.7,931.1 1456.9,931.0 1458.2,931.3 1459.4,934.9 1460.7,938.6 1461.9,938.1 1463.2,938.6 1464.4,942.8 1465.7,940.4 1466.9,935.5 1468.2,931.4 1469.4,930.7 1470.7,936.4 1471.9,941.2 1473.2,945.3 1474.4,948.2 1475.7,951.1 1476.9,951.4 1478.2,953.0 1479.4,949.1 1480.7,944.6 1481.9,940.8 1483.2,935.3 1484.4,920.9 1485.7,907.0 1486.9,894.6 1488.2,877.0 1489.4,871.2 1490.7,873.1 1491.9,867.4 1493.2,867.7 1494.4,872.7 1495.7,868.1 1496.9,872.5 1498.2,872.3 1499.4,871.8 1500.7,879.2 1501.9,881.5 1503.2,886.3 1504.4,883.6 1505.7,877.0 1506.9,876.4 1508.2,884.8 1509.4,887.5 1510.7,886.2 1511.9,889.5 1513.2,886.8 1514.4,893.8 1515.7,895.6 1516.9,893.8 1518.2,893.4 1519.4,900.9 1520.7,902.7 1521.9,906.2 1523.2,909.6 1524.4,907.8 1525.7,910.5 1526.9,908.7 1528.2,912.4 1529.4,916.3 1530.7,920.3 1531.9,930.7 1533.2,939.2 1534.4,942.8 1535.7,947.5 1536.9,949.1 1538.2,949.7 1539.4,950.3 1540.7,950.3 1541.9,950.5 1543.2,950.9 1544.4,949.9 1545.7,949.2 1546.9,949.6 1548.2,947.5 1549.4,947.6 1550.7,950.1 1551.9,949.3 1553.2,950.6 1554.4,949.8 1555.7,950.5 1556.9,950.3 1558.2,950.5 1559.4,950.9 1560.7,951.2 1561.9,948.1 1563.2,949.7 1564.4,949.8 1565.7,950.4 1566.9,949.7 1568.2,949.6 1569.4,950.2 1570.7,948.9 1571.9,949.0 1573.2,949.6 1574.4,949.8 1575.7,949.7 1576.9,949.3 1578.2,949.3 1579.4,949.5 1580.7,949.2 1581.9,950.2 1583.2,950.0 1584.4,951.2 1585.7,950.7 1586.9,944.2 1588.2,939.6 1589.4,935.8 1590.7,930.7 1591.9,935.3 1593.2,937.4 1594.4,938.2 1595.7,936.7 1596.9,938.9 1598.2,940.2 1599.4,936.1 1600.7,930.7 1601.9,929.7 1603.2,929.2 1604.4,934.5 1605.7,939.6 1606.9,939.1 1608.2,935.7 1609.4,936.5 1610.7,938.1 1611.9,937.3 1613.2,935.2 1614.4,934.0 1615.7,936.3 1616.9,940.4 1618.2,943.1 1619.4,948.7 1620.7,950.2 1621.9,951.5 1623.2,953.8 1624.4,952.1 1625.7,952.3 1626.9,949.6 1628.2,942.5 1629.4,936.7 1630.7,924.7 1631.9,909.4 1633.2,898.4 1634.4,888.6 1635.7,884.0 1636.9,881.7 1638.2,884.4 1639.4,883.5 1640.7,885.8 1641.9,886.4 1643.2,885.6 1644.4,884.7 1645.7,882.1 1646.9,887.9 1648.2,890.5 1649.4,892.4 1650.7,889.9 1651.9,887.7 1653.2,896.0 1654.4,900.2 1655.7,903.0 1656.9,900.2 1658.2,904.9 1659.4,908.2 1660.7,906.6 1661.9,903.2 1663.2,904.4 1664.4,910.4 1665.7,909.4 1666.9,904.7 1668.2,903.1 1669.4,906.3 1670.7,906.6 1671.9,905.7 1673.2,909.5 1674.4,910.4 1675.7,910.5 1676.9,908.8 1678.2,907.2 1679.4,909.0 1680.7,911.5 1681.9,910.8 1683.2,914.9 1684.4,917.2 1685.7,917.1 1686.9,914.9 1688.2,917.2 1689.4,920.2 1690.7,917.5 1691.9,916.5 1693.2,915.6 1694.4,918.6 1695.7,915.3 1696.9,913.0 1698.2,913.8 1699.4,914.6 1700.7,910.3 1701.9,910.6 1703.2,914.5 1704.4,916.7 1705.7,917.9 1706.9,918.8 1708.2,916.8 1709.4,915.4 1710.7,913.8 1711.9,915.6 1713.2,920.9 1714.4,921.3 1715.7,923.5 1716.9,923.0 1718.2,929.7 1719.4,934.9 1720.7,937.7 1721.9,939.5 1723.2,940.7 1724.4,941.3 1725.7,942.2 1726.9,940.2 1728.2,940.5 1729.4,939.9 1730.7,941.4 1731.9,941.6 1733.2,941.8 1734.4,943.0 1735.7,942.2 1736.9,944.9 1738.2,945.9 1739.4,947.0 1740.7,947.5 1741.9,948.5 1743.2,948.7 1744.4,950.2 1745.7,950.1 1746.9,950.6 1748.2,951.4 1749.4,950.3 1750.7,951.2 1751.9,950.8 1753.2,950.2 1754.4,950.5 1755.7,950.5 1756.9,951.3 1758.2,951.8 1759.4,951.4 1760.7,954.3 1761.9,956.1 1763.2,955.9 1764.4,957.2 1765.7,958.5 1766.9,959.0 1768.2,959.1 1769.4,958.5 1770.7,959.2 1771.9,959.5 1773.2,959.0 1774.4,960.3 1775.7,959.8 1776.9,960.0 1778.2,960.4 1779.4,960.7 1780.7,959.6 1781.9,959.8 1783.2,960.5 1784.4,960.3 1785.7,960.7 1786.9,960.1 1788.2,959.5 1789.4,960.7 1790.7,959.6 1791.9,959.5 1793.2,960.6 1794.4,959.7 1795.7,960.3 1796.9,959.9 1798.2,959.5 1799.4,960.5 1800.7,960.6 1801.9,959.8 1803.2,959.7 1804.4,960.3 1805.7,960.3 1806.9,959.9 1808.2,958.8 1809.4,955.3 1810.7,953.3 1811.9,942.7 1813.2,936.7 1814.4,931.3 1815.7,926.2 1816.9,918.8 1818.2,914.7 1819.4,913.8 1820.7,913.7 1821.9,912.1 1823.2,913.3 1824.4,911.6 1825.7,910.8 1826.9,910.8 1828.2,909.9 1829.4,908.7 1830.7,904.6 1831.9,899.4 1833.2,899.2 1834.4,899.4 1835.7,900.4 1836.9,898.8 1838.2,894.0 1839.4,890.3 1840.7,893.8 1841.9,894.8 1843.2,890.7 1844.4,882.1 1845.7,883.9 1846.9,880.6 1848.2,874.7 1849.4,881.5 1850.7,880.5 1851.9,870.2 1853.2,861.1 1854.4,847.5 1855.7,850.2 1856.9,852.1 1858.2,850.6 1859.4,849.8 1860.7,856.5 1861.9,861.8 1863.2,865.6 1864.4,861.8 1865.7,850.0 1866.9,845.6 1868.2,857.9 1869.4,862.3 1870.7,864.5 1871.9,869.9 1873.2,872.4 1874.4,866.9 1875.7,858.3 1876.9,856.5 1878.2,866.4 1879.4,870.9 1880.7,876.7 1881.9,883.8 1883.2,878.5 1884.4,884.3 1885.7,888.4 1886.9,886.1 1888.2,881.1 1889.4,890.5 1890.7,900.4 1891.9,901.6 1893.2,901.7 1894.4,901.5 1895.7,907.2 1896.9,910.5 1898.2,908.1 1899.4,916.5 1900.7,921.3 1901.9,925.7 1903.2,930.1 1904.4,933.0 1905.7,934.7 1906.9,936.5 1908.2,938.4 1909.4,938.7 1910.7,942.3 1911.9,943.5 1913.2,943.2 1914.4,941.6 1915.7,941.5 1916.9,940.9 1918.2,940.3 1919.4,936.7 1920.7,939.8 1921.9,942.3 1923.2,944.8 1924.4,945.2 1925.7,944.5 1926.9,944.5 1928.2,942.4 1929.4,943.7 1930.7,946.3 1931.9,947.9 1933.2,948.0 1934.4,947.8 1935.7,947.7 1936.9,950.5 1938.2,952.0 1939.4,953.0 1940.7,953.8 1941.9,954.3 1943.2,956.3 1944.4,959.2 1945.7,959.6 1946.9,960.2 1948.2,959.7 1949.4,960.7 1950.7,960.8 1951.9,960.7 1953.2,960.4 1954.4,960.6 1955.7,960.5 1956.9,959.8 1958.2,959.2 1959.4,958.4 1960.7,958.9 1961.9,960.7 1963.2,960.6 1964.4,960.3 1965.7,959.7 1966.9,959.9 1968.2,960.4 1969.4,959.5 1970.7,959.7 1971.9,960.3 1973.2,959.8 1974.4,959.6 1975.7,960.0 1976.9,959.9 1978.2,959.1 1979.4,959.9 1980.7,960.3 1981.9,960.5 1983.2,960.7 1984.4,960.6 1985.7,959.8 1985.7,964.3 1984.4,965.9 1983.2,966.0 1981.9,966.0 1980.7,966.1 1979.4,965.0 1978.2,964.3 1976.9,964.3 1975.7,965.1 1974.4,964.9 1973.2,964.3 1971.9,964.0 1970.7,964.3 1969.4,964.3 1968.2,965.2 1966.9,963.9 1965.7,964.2 1964.4,963.6 1963.2,964.4 1961.9,964.3 1960.7,964.8 1959.4,964.5 1958.2,963.6 1956.9,964.0 1955.7,963.5 1954.4,963.7 1953.2,964.4 1951.9,963.4 1950.7,963.7 1949.4,963.9 1948.2,964.0 1946.9,965.6 1945.7,966.1 1944.4,966.6 1943.2,966.6 1941.9,967.6 1940.7,967.4 1939.4,969.1 1938.2,971.3 1936.9,972.9 1935.7,973.9 1934.4,974.8 1933.2,975.3 1931.9,976.0 1930.7,978.5 1929.4,979.7 1928.2,979.5 1926.9,978.6 1925.7,977.4 1924.4,976.8 1923.2,976.9 1921.9,978.9 1920.7,981.3 1919.4,983.7 1918.2,985.9 1916.9,984.5 1915.7,983.8 1914.4,983.2 1913.2,983.3 1911.9,984.4 1910.7,985.6 1909.4,984.8 1908.2,985.8 1906.9,987.1 1905.7,988.4 1904.4,991.0 1903.2,994.0 1901.9,995.4 1900.7,998.4 1899.4,1001.3 1898.2,1004.4 1896.9,1003.4 1895.7,1006.6 1894.4,1008.8 1893.2,1012.2 1891.9,1016.9 1890.7,1015.7 1889.4,1015.5 1888.2,1019.0 1886.9,1022.5 1885.7,1025.1 1884.4,1026.1 1883.2,1032.3 1881.9,1033.1 1880.7,1034.3 1879.4,1038.0 1878.2,1038.0 1876.9,1038.3 1875.7,1038.6 1874.4,1046.4 1873.2,1053.1 1871.9,1053.0 1870.7,1058.7 1869.4,1052.4 1868.2,1061.1 1866.9,1066.6 1865.7,1055.6 1864.4,1064.9 1863.2,1066.3 1861.9,1066.3 1860.7,1070.8 1859.4,1074.3 1858.2,1087.4 1856.9,1085.7 1855.7,1086.1 1854.4,1078.9 1853.2,1061.5 1851.9,1053.0 1850.7,1047.6 1849.4,1046.3 1848.2,1043.7 1846.9,1038.9 1845.7,1038.9 1844.4,1037.1 1843.2,1036.4 1841.9,1039.6 1840.7,1028.4 1839.4,1026.4 1838.2,1026.6 1836.9,1024.9 1835.7,1015.1 1834.4,1014.9 1833.2,1016.9 1831.9,1013.9 1830.7,1013.7 1829.4,1013.6 1828.2,1010.3 1826.9,1008.4 1825.7,1005.1 1824.4,1006.5 1823.2,1004.5 1821.9,1001.6 1820.7,1004.2 1819.4,1008.2 1818.2,1007.9 1816.9,1001.0 1815.7,993.2 1814.4,988.0 1813.2,985.0 1811.9,978.1 1810.7,971.6 1809.4,968.3 1808.2,965.5 1806.9,963.7 1805.7,965.0 1804.4,963.7 1803.2,963.8 1801.9,965.3 1800.7,963.9 1799.4,963.6 1798.2,963.9 1796.9,964.2 1795.7,963.8 1794.4,965.2 1793.2,964.5 1791.9,964.3 1790.7,964.7 1789.4,964.7 1788.2,964.1 1786.9,963.8 1785.7,963.9 1784.4,965.4 1783.2,965.3 1781.9,963.9 1780.7,963.3 1779.4,963.5 1778.2,964.4 1776.9,963.8 1775.7,963.6 1774.4,964.1 1773.2,963.8 1771.9,965.0 1770.7,964.1 1769.4,965.7 1768.2,965.2 1766.9,966.3 1765.7,968.0 1764.4,967.2 1763.2,969.1 1761.9,969.9 1760.7,971.6 1759.4,973.2 1758.2,975.6 1756.9,973.9 1755.7,973.7 1754.4,972.8 1753.2,972.5 1751.9,973.0 1750.7,972.4 1749.4,973.0 1748.2,971.4 1746.9,971.7 1745.7,972.0 1744.4,972.8 1743.2,975.0 1741.9,976.3 1740.7,973.7 1739.4,974.9 1738.2,975.8 1736.9,976.4 1735.7,976.1 1734.4,976.2 1733.2,977.2 1731.9,978.2 1730.7,978.7 1729.4,979.9 1728.2,978.9 1726.9,979.3 1725.7,980.1 1724.4,981.1 1723.2,981.3 1721.9,982.9 1720.7,983.6 1719.4,984.7 1718.2,987.5 1716.9,988.6 1715.7,991.2 1714.4,995.6 1713.2,996.3 1711.9,996.9 1710.7,995.2 1709.4,995.1 1708.2,996.2 1706.9,998.5 1705.7,999.8 1704.4,997.3 1703.2,996.9 1701.9,998.1 1700.7,998.6 1699.4,999.9 1698.2,1002.2 1696.9,1003.8 1695.7,999.3 1694.4,999.3 1693.2,1000.5 1691.9,1001.5 1690.7,999.3 1689.4,996.7 1688.2,999.7 1686.9,1000.8 1685.7,1002.0 1684.4,999.5 1683.2,998.3 1681.9,998.6 1680.7,999.6 1679.4,1003.6 1678.2,1005.2 1676.9,1005.9 1675.7,1004.6 1674.4,1005.6 1673.2,1006.2 1671.9,1006.8 1670.7,1006.8 1669.4,1004.6 1668.2,1004.3 1666.9,1004.4 1665.7,1006.6 1664.4,1008.7 1663.2,1007.0 1661.9,1004.8 1660.7,1004.9 1659.4,1009.2 1658.2,1012.4 1656.9,1010.3 1655.7,1009.9 1654.4,1012.3 1653.2,1011.2 1651.9,1015.5 1650.7,1015.6 1649.4,1018.1 1648.2,1024.4 1646.9,1025.1 1645.7,1021.5 1644.4,1025.9 1643.2,1035.8 1641.9,1035.3 1640.7,1036.4 1639.4,1038.3 1638.2,1036.1 1636.9,1030.6 1635.7,1029.1 1634.4,1017.2 1633.2,1009.1 1631.9,1001.9 1630.7,994.9 1629.4,985.6 1628.2,980.0 1626.9,974.1 1625.7,972.2 1624.4,971.6 1623.2,970.7 1621.9,971.4 1620.7,973.4 1619.4,974.3 1618.2,980.2 1616.9,983.2 1615.7,982.3 1614.4,984.4 1613.2,985.5 1611.9,985.6 1610.7,984.3 1609.4,982.9 1608.2,983.5 1606.9,985.2 1605.7,985.7 1604.4,987.6 1603.2,989.8 1601.9,989.5 1600.7,987.9 1599.4,986.6 1598.2,986.3 1596.9,983.6 1595.7,982.1 1594.4,983.4 1593.2,984.6 1591.9,984.8 1590.7,983.1 1589.4,981.9 1588.2,980.5 1586.9,976.3 1585.7,973.4 1584.4,972.6 1583.2,973.0 1581.9,972.4 1580.7,972.1 1579.4,974.1 1578.2,973.1 1576.9,972.2 1575.7,972.2 1574.4,972.8 1573.2,972.6 1571.9,974.7 1570.7,974.5 1569.4,972.6 1568.2,972.0 1566.9,971.9 1565.7,972.9 1564.4,972.5 1563.2,973.1 1561.9,972.2 1560.7,971.8 1559.4,972.3 1558.2,971.9 1556.9,972.3 1555.7,973.1 1554.4,973.7 1553.2,972.8 1551.9,972.4 1550.7,973.0 1549.4,973.0 1548.2,973.5 1546.9,973.4 1545.7,973.3 1544.4,973.3 1543.2,972.5 1541.9,974.3 1540.7,973.3 1539.4,971.0 1538.2,971.1 1536.9,972.2 1535.7,973.5 1534.4,973.2 1533.2,976.3 1531.9,983.0 1530.7,988.9 1529.4,998.1 1528.2,1002.3 1526.9,1002.5 1525.7,1003.4 1524.4,1005.8 1523.2,1006.6 1521.9,1006.7 1520.7,1007.1 1519.4,1010.2 1518.2,1012.6 1516.9,1013.2 1515.7,1015.9 1514.4,1018.3 1513.2,1014.9 1511.9,1014.6 1510.7,1019.7 1509.4,1025.1 1508.2,1023.8 1506.9,1027.2 1505.7,1030.3 1504.4,1023.2 1503.2,1030.5 1501.9,1030.0 1500.7,1027.5 1499.4,1034.1 1498.2,1045.2 1496.9,1048.9 1495.7,1048.6 1494.4,1049.8 1493.2,1054.5 1491.9,1052.4 1490.7,1065.1 1489.4,1053.2 1488.2,1034.2 1486.9,1017.8 1485.7,1001.3 1484.4,990.7 1483.2,987.8 1481.9,981.1 1480.7,977.6 1479.4,974.2 1478.2,973.2 1476.9,974.9 1475.7,976.4 1474.4,976.8 1473.2,980.5 1471.9,982.7 1470.7,986.6 1469.4,985.3 1468.2,983.5 1466.9,982.2 1465.7,982.2 1464.4,982.2 1463.2,982.1 1461.9,981.1 1460.7,982.1 1459.4,984.2 1458.2,985.4 1456.9,987.3 1455.7,985.2 1454.4,982.8 1453.2,980.1 1451.9,978.7 1450.7,979.9 1449.4,981.7 1448.2,980.1 1446.9,978.6 1445.7,978.5 1444.4,978.3 1443.2,975.0 1441.9,975.1 1440.7,974.3 1439.4,972.6 1438.2,972.4 1436.9,970.8 1435.7,970.8 1434.4,971.1 1433.2,971.8 1431.9,972.7 1430.7,971.8 1429.4,971.2 1428.2,971.1 1426.9,973.1 1425.7,971.1 1424.4,972.0 1423.2,971.2 1421.9,971.2 1420.7,970.2 1419.4,972.8 1418.2,973.0 1416.9,973.2 1415.7,971.0 1414.4,970.5 1413.2,971.2 1411.9,970.9 1410.7,971.5 1409.4,971.5 1408.2,971.9 1406.9,972.0 1405.7,972.7 1404.4,973.6 1403.2,974.2 1401.9,974.0 1400.7,974.4 1399.4,973.9 1398.2,976.0 1396.9,977.6 1395.7,975.2 1394.4,974.6 1393.2,975.9 1391.9,977.0 1390.7,976.3 1389.4,977.1 1388.2,977.5 1386.9,976.4 1385.7,976.6 1384.4,974.9 1383.2,975.0 1381.9,974.1 1380.7,972.6 1379.4,973.2 1378.2,972.5 1376.9,971.7 1375.7,971.5 1374.4,970.3 1373.2,970.9 1371.9,971.1 1370.7,971.2 1369.4,971.1 1368.2,971.4 1366.9,970.7 1365.7,970.8 1364.4,972.9 1363.2,973.7 1361.9,972.8 1360.7,973.0 1359.4,973.1 1358.2,972.9 1356.9,973.7 1355.7,972.7 1354.4,973.4 1353.2,971.8 1351.9,972.2 1350.7,971.9 1349.4,972.2 1348.2,972.8 1346.9,972.8 1345.7,972.4 1344.4,972.6 1343.2,973.3 1341.9,973.6 1340.7,973.0 1339.4,972.4 1338.2,971.9 1336.9,972.6 1335.7,971.5 1334.4,972.8 1333.2,972.8 1331.9,974.0 1330.7,972.5 1329.4,974.3 1328.2,974.9 1326.9,973.9 1325.7,975.9 1324.4,975.4 1323.2,973.4 1321.9,972.5 1320.7,972.5 1319.4,972.5 1318.2,972.4 1316.9,971.0 1315.7,971.0 1314.4,969.8 1313.2,968.5 1311.9,968.3 1310.7,966.8 1309.4,964.9 1308.2,964.4" fill="#5fa4d8"/><polygon points="1308.2,960.8 1309.4,960.7 1310.7,959.7 1311.9,959.0 1313.2,958.5 1314.4,957.9 1315.7,957.6 1316.9,957.2 1318.2,957.0 1319.4,956.7 1320.7,956.2 1321.9,955.5 1323.2,955.2 1324.4,955.7 1325.7,955.8 1326.9,955.9 1328.2,956.0 1329.4,956.0 1330.7,956.2 1331.9,955.7 1333.2,955.9 1334.4,955.9 1335.7,955.7 1336.9,956.2 1338.2,956.4 1339.4,956.1 1340.7,956.4 1341.9,956.7 1343.2,956.7 1344.4,956.3 1345.7,956.2 1346.9,956.5 1348.2,956.7 1349.4,956.5 1350.7,956.6 1351.9,956.2 1353.2,956.3 1354.4,956.1 1355.7,955.9 1356.9,956.3 1358.2,956.1 1359.4,956.4 1360.7,956.3 1361.9,956.6 1363.2,956.5 1364.4,956.4 1365.7,956.2 1366.9,955.6 1368.2,955.5 1369.4,955.6 1370.7,955.6 1371.9,955.3 1373.2,955.5 1374.4,955.2 1375.7,955.2 1376.9,955.1 1378.2,955.0 1379.4,954.9 1380.7,954.2 1381.9,954.3 1383.2,954.5 1384.4,954.7 1385.7,954.9 1386.9,954.9 1388.2,954.8 1389.4,954.6 1390.7,954.2 1391.9,954.4 1393.2,954.6 1394.4,954.9 1395.7,955.1 1396.9,955.2 1398.2,955.3 1399.4,955.5 1400.7,955.7 1401.9,955.5 1403.2,955.3 1404.4,955.2 1405.7,955.7 1406.9,955.5 1408.2,955.8 1409.4,955.9 1410.7,956.2 1411.9,956.4 1413.2,956.5 1414.4,956.4 1415.7,956.5 1416.9,956.4 1418.2,956.5 1419.4,956.8 1420.7,956.7 1421.9,957.1 1423.2,957.3 1424.4,957.3 1425.7,957.0 1426.9,956.8 1428.2,956.9 1429.4,957.0 1430.7,956.5 1431.9,956.2 1433.2,956.6 1434.4,956.4 1435.7,956.2 1436.9,956.0 1438.2,955.0 1439.4,955.0 1440.7,954.4 1441.9,953.4 1443.2,952.6 1444.4,953.4 1445.7,953.4 1446.9,952.4 1448.2,952.4 1449.4,952.7 1450.7,952.7 1451.9,952.4 1453.2,952.2 1454.4,952.0 1455.7,952.0 1456.9,951.9 1458.2,951.6 1459.4,951.3 1460.7,951.2 1461.9,951.0 1463.2,951.0 1464.4,951.6 1465.7,951.6 1466.9,950.9 1468.2,950.7 1469.4,950.7 1470.7,950.6 1471.9,952.2 1473.2,953.9 1474.4,955.0 1475.7,955.6 1476.9,955.9 1478.2,955.7 1479.4,955.5 1480.7,955.4 1481.9,952.1 1483.2,948.5 1484.4,943.9 1485.7,939.7 1486.9,936.6 1488.2,937.1 1489.4,935.2 1490.7,933.1 1491.9,931.4 1493.2,929.1 1494.4,928.1 1495.7,927.8 1496.9,927.7 1498.2,928.6 1499.4,928.8 1500.7,929.4 1501.9,932.0 1503.2,933.5 1504.4,935.4 1505.7,936.0 1506.9,936.2 1508.2,936.6 1509.4,936.4 1510.7,938.7 1511.9,939.7 1513.2,939.1 1514.4,940.5 1515.7,941.7 1516.9,942.2 1518.2,942.0 1519.4,941.7 1520.7,942.3 1521.9,941.7 1523.2,939.9 1524.4,940.8 1525.7,941.5 1526.9,942.8 1528.2,944.9 1529.4,947.0 1530.7,949.1 1531.9,951.5 1533.2,953.9 1534.4,955.5 1535.7,955.3 1536.9,955.2 1538.2,955.8 1539.4,956.0 1540.7,956.2 1541.9,956.2 1543.2,956.1 1544.4,956.4 1545.7,956.6 1546.9,956.6 1548.2,956.0 1549.4,956.2 1550.7,956.3 1551.9,956.5 1553.2,956.6 1554.4,956.2 1555.7,955.7 1556.9,956.0 1558.2,956.1 1559.4,956.0 1560.7,956.1 1561.9,955.7 1563.2,955.7 1564.4,955.8 1565.7,955.9 1566.9,956.0 1568.2,956.0 1569.4,956.1 1570.7,956.2 1571.9,955.9 1573.2,955.5 1574.4,955.5 1575.7,956.0 1576.9,956.1 1578.2,955.9 1579.4,956.0 1580.7,955.7 1581.9,955.9 1583.2,956.0 1584.4,956.1 1585.7,955.6 1586.9,954.5 1588.2,953.4 1589.4,951.7 1590.7,951.2 1591.9,950.5 1593.2,950.4 1594.4,950.4 1595.7,950.2 1596.9,949.5 1598.2,949.9 1599.4,950.2 1600.7,950.1 1601.9,949.7 1603.2,949.2 1604.4,948.9 1605.7,949.4 1606.9,950.1 1608.2,950.3 1609.4,949.9 1610.7,950.0 1611.9,950.9 1613.2,951.5 1614.4,951.6 1615.7,951.4 1616.9,951.3 1618.2,952.7 1619.4,954.3 1620.7,955.3 1621.9,956.3 1623.2,956.9 1624.4,956.0 1625.7,955.9 1626.9,954.1 1628.2,952.2 1629.4,950.0 1630.7,947.7 1631.9,945.6 1633.2,943.4 1634.4,941.2 1635.7,938.8 1636.9,937.9 1638.2,936.0 1639.4,932.2 1640.7,931.3 1641.9,931.6 1643.2,931.1 1644.4,932.7 1645.7,934.2 1646.9,934.5 1648.2,934.6 1649.4,936.0 1650.7,939.0 1651.9,940.5 1653.2,940.6 1654.4,943.0 1655.7,944.5 1656.9,944.5 1658.2,944.6 1659.4,944.6 1660.7,945.4 1661.9,946.1 1663.2,946.4 1664.4,946.2 1665.7,945.0 1666.9,944.1 1668.2,944.9 1669.4,943.5 1670.7,943.4 1671.9,944.0 1673.2,943.9 1674.4,944.4 1675.7,945.0 1676.9,945.8 1678.2,946.5 1679.4,946.7 1680.7,946.1 1681.9,945.6 1683.2,946.6 1684.4,947.1 1685.7,946.9 1686.9,946.4 1688.2,946.5 1689.4,946.7 1690.7,945.8 1691.9,945.4 1693.2,945.8 1694.4,944.9 1695.7,945.6 1696.9,946.8 1698.2,946.7 1699.4,946.3 1700.7,946.8 1701.9,947.3 1703.2,947.3 1704.4,947.3 1705.7,947.6 1706.9,947.6 1708.2,946.4 1709.4,947.4 1710.7,947.8 1711.9,947.7 1713.2,948.8 1714.4,949.3 1715.7,950.0 1716.9,951.1 1718.2,951.6 1719.4,951.8 1720.7,952.0 1721.9,953.0 1723.2,953.4 1724.4,953.4 1725.7,953.2 1726.9,953.5 1728.2,953.8 1729.4,954.2 1730.7,954.7 1731.9,954.8 1733.2,954.6 1734.4,955.5 1735.7,955.5 1736.9,955.3 1738.2,955.8 1739.4,956.2 1740.7,955.9 1741.9,956.2 1743.2,956.2 1744.4,956.3 1745.7,956.8 1746.9,957.4 1748.2,957.2 1749.4,957.6 1750.7,957.9 1751.9,958.1 1753.2,958.3 1754.4,958.6 1755.7,958.6 1756.9,958.8 1758.2,959.1 1759.4,959.3 1760.7,959.6 1761.9,959.7 1763.2,959.6 1764.4,960.0 1765.7,960.2 1766.9,960.3 1768.2,960.2 1769.4,960.6 1770.7,960.7 1771.9,960.7 1773.2,960.7 1774.4,960.6 1775.7,960.5 1776.9,960.5 1778.2,960.7 1779.4,960.7 1780.7,960.8 1781.9,960.6 1783.2,960.7 1784.4,960.6 1785.7,960.7 1786.9,960.7 1788.2,960.6 1789.4,960.7 1790.7,960.4 1791.9,960.7 1793.2,960.6 1794.4,960.6 1795.7,960.8 1796.9,960.6 1798.2,960.6 1799.4,960.6 1800.7,960.6 1801.9,960.7 1803.2,960.6 1804.4,960.6 1805.7,960.6 1806.9,960.7 1808.2,959.1 1809.4,956.5 1810.7,953.9 1811.9,951.2 1813.2,948.0 1814.4,945.6 1815.7,943.8 1816.9,943.7 1818.2,943.0 1819.4,941.9 1820.7,942.3 1821.9,943.1 1823.2,941.6 1824.4,941.6 1825.7,941.4 1826.9,941.3 1828.2,938.8 1829.4,938.5 1830.7,939.2 1831.9,939.9 1833.2,939.5 1834.4,939.6 1835.7,939.1 1836.9,939.0 1838.2,939.2 1839.4,938.3 1840.7,936.2 1841.9,936.3 1843.2,935.9 1844.4,933.1 1845.7,932.8 1846.9,934.5 1848.2,934.5 1849.4,933.5 1850.7,933.7 1851.9,933.4 1853.2,930.7 1854.4,926.1 1855.7,923.1 1856.9,918.7 1858.2,917.4 1859.4,913.4 1860.7,913.0 1861.9,916.2 1863.2,918.5 1864.4,916.6 1865.7,912.1 1866.9,914.8 1868.2,916.7 1869.4,919.3 1870.7,919.5 1871.9,916.1 1873.2,920.9 1874.4,923.7 1875.7,923.1 1876.9,922.0 1878.2,923.1 1879.4,925.8 1880.7,927.3 1881.9,927.8 1883.2,928.6 1884.4,929.6 1885.7,930.6 1886.9,931.0 1888.2,932.7 1889.4,935.1 1890.7,937.4 1891.9,938.9 1893.2,939.8 1894.4,941.6 1895.7,943.1 1896.9,945.3 1898.2,946.9 1899.4,948.2 1900.7,949.4 1901.9,949.9 1903.2,950.6 1904.4,950.9 1905.7,952.2 1906.9,953.3 1908.2,953.5 1909.4,953.0 1910.7,952.8 1911.9,952.0 1913.2,951.9 1914.4,952.3 1915.7,952.1 1916.9,951.9 1918.2,952.1 1919.4,952.9 1920.7,953.6 1921.9,953.7 1923.2,953.7 1924.4,954.4 1925.7,954.7 1926.9,955.6 1928.2,955.7 1929.4,955.8 1930.7,956.4 1931.9,957.0 1933.2,957.5 1934.4,957.8 1935.7,958.0 1936.9,958.6 1938.2,958.9 1939.4,959.2 1940.7,959.5 1941.9,959.6 1943.2,959.9 1944.4,960.4 1945.7,960.7 1946.9,960.6 1948.2,960.6 1949.4,960.4 1950.7,960.6 1951.9,960.6 1953.2,960.5 1954.4,960.6 1955.7,960.6 1956.9,960.2 1958.2,960.3 1959.4,960.4 1960.7,960.4 1961.9,960.6 1963.2,960.5 1964.4,960.4 1965.7,960.2 1966.9,960.5 1968.2,960.4 1969.4,960.4 1970.7,960.3 1971.9,960.3 1973.2,960.5 1974.4,960.5 1975.7,960.4 1976.9,960.3 1978.2,960.4 1979.4,960.2 1980.7,960.4 1981.9,960.2 1983.2,960.0 1984.4,960.1 1985.7,960.2 1985.7,964.1 1984.4,964.3 1983.2,964.1 1981.9,964.2 1980.7,964.1 1979.4,964.1 1978.2,964.1 1976.9,964.1 1975.7,963.9 1974.4,963.9 1973.2,963.9 1971.9,964.2 1970.7,964.0 1969.4,964.0 1968.2,964.0 1966.9,963.9 1965.7,963.9 1964.4,964.0 1963.2,964.0 1961.9,964.3 1960.7,963.8 1959.4,963.9 1958.2,963.9 1956.9,963.9 1955.7,963.8 1954.4,963.9 1953.2,963.8 1951.9,963.9 1950.7,964.0 1949.4,963.9 1948.2,963.8 1946.9,963.8 1945.7,963.9 1944.4,964.2 1943.2,964.5 1941.9,964.6 1940.7,965.0 1939.4,965.6 1938.2,966.3 1936.9,966.6 1935.7,966.6 1934.4,967.3 1933.2,968.0 1931.9,968.6 1930.7,969.1 1929.4,969.8 1928.2,970.9 1926.9,970.9 1925.7,970.3 1924.4,970.4 1923.2,970.2 1921.9,970.2 1920.7,970.5 1919.4,971.0 1918.2,971.5 1916.9,972.4 1915.7,972.2 1914.4,972.4 1913.2,972.3 1911.9,972.7 1910.7,973.2 1909.4,974.0 1908.2,974.8 1906.9,974.7 1905.7,975.9 1904.4,977.1 1903.2,977.6 1901.9,978.8 1900.7,980.5 1899.4,983.0 1898.2,985.9 1896.9,986.7 1895.7,985.3 1894.4,988.7 1893.2,992.4 1891.9,993.3 1890.7,992.9 1889.4,995.2 1888.2,999.6 1886.9,999.8 1885.7,999.7 1884.4,1003.2 1883.2,1004.3 1881.9,1005.3 1880.7,1006.1 1879.4,1006.4 1878.2,1008.8 1876.9,1012.9 1875.7,1012.0 1874.4,1011.1 1873.2,1011.2 1871.9,1010.1 1870.7,1010.2 1869.4,1009.6 1868.2,1007.2 1866.9,1005.5 1865.7,1004.7 1864.4,1007.2 1863.2,1007.8 1861.9,1007.9 1860.7,1007.2 1859.4,1003.3 1858.2,1001.3 1856.9,1001.3 1855.7,1001.0 1854.4,1002.0 1853.2,1002.3 1851.9,999.9 1850.7,998.2 1849.4,997.7 1848.2,997.0 1846.9,998.7 1845.7,1000.1 1844.4,996.9 1843.2,994.4 1841.9,996.5 1840.7,999.8 1839.4,996.4 1838.2,993.8 1836.9,993.6 1835.7,994.2 1834.4,994.2 1833.2,992.4 1831.9,991.7 1830.7,992.0 1829.4,991.9 1828.2,991.7 1826.9,992.7 1825.7,993.7 1824.4,992.3 1823.2,990.8 1821.9,990.3 1820.7,990.1 1819.4,988.5 1818.2,987.6 1816.9,987.2 1815.7,985.6 1814.4,981.6 1813.2,977.4 1811.9,973.9 1810.7,970.5 1809.4,967.6 1808.2,965.1 1806.9,963.5 1805.7,963.5 1804.4,963.6 1803.2,963.6 1801.9,963.6 1800.7,963.5 1799.4,963.5 1798.2,963.5 1796.9,963.7 1795.7,963.6 1794.4,963.8 1793.2,964.0 1791.9,963.9 1790.7,963.6 1789.4,963.5 1788.2,963.7 1786.9,963.6 1785.7,963.6 1784.4,963.7 1783.2,963.7 1781.9,963.6 1780.7,963.5 1779.4,963.7 1778.2,963.6 1776.9,963.5 1775.7,963.6 1774.4,963.4 1773.2,963.5 1771.9,963.5 1770.7,963.4 1769.4,963.7 1768.2,964.0 1766.9,964.4 1765.7,964.4 1764.4,964.5 1763.2,964.9 1761.9,965.2 1760.7,965.2 1759.4,965.6 1758.2,965.8 1756.9,966.0 1755.7,966.6 1754.4,967.0 1753.2,967.4 1751.9,968.1 1750.7,968.5 1749.4,969.1 1748.2,969.2 1746.9,969.5 1745.7,970.2 1744.4,970.2 1743.2,970.4 1741.9,971.0 1740.7,971.3 1739.4,971.5 1738.2,972.1 1736.9,973.1 1735.7,973.8 1734.4,973.5 1733.2,973.8 1731.9,974.9 1730.7,975.3 1729.4,975.0 1728.2,975.0 1726.9,975.0 1725.7,975.3 1724.4,976.3 1723.2,976.3 1721.9,977.6 1720.7,979.9 1719.4,981.5 1718.2,980.7 1716.9,982.1 1715.7,984.1 1714.4,986.7 1713.2,986.8 1711.9,987.4 1710.7,989.1 1709.4,989.6 1708.2,989.9 1706.9,990.7 1705.7,992.4 1704.4,991.6 1703.2,989.3 1701.9,990.8 1700.7,991.2 1699.4,991.1 1698.2,992.1 1696.9,990.6 1695.7,990.9 1694.4,992.1 1693.2,991.7 1691.9,992.4 1690.7,992.4 1689.4,992.7 1688.2,994.6 1686.9,993.0 1685.7,992.0 1684.4,993.7 1683.2,992.2 1681.9,992.1 1680.7,993.6 1679.4,992.8 1678.2,991.9 1676.9,993.9 1675.7,995.7 1674.4,996.0 1673.2,995.9 1671.9,993.3 1670.7,994.0 1669.4,996.7 1668.2,995.9 1666.9,992.9 1665.7,993.7 1664.4,995.2 1663.2,995.8 1661.9,995.5 1660.7,995.0 1659.4,995.2 1658.2,995.3 1656.9,997.5 1655.7,998.0 1654.4,997.0 1653.2,995.4 1651.9,996.1 1650.7,999.5 1649.4,999.9 1648.2,1000.2 1646.9,1002.5 1645.7,1002.7 1644.4,1005.1 1643.2,1004.7 1641.9,1001.6 1640.7,1002.1 1639.4,1004.5 1638.2,1000.7 1636.9,997.5 1635.7,997.1 1634.4,994.6 1633.2,989.2 1631.9,984.4 1630.7,980.2 1629.4,976.8 1628.2,972.5 1626.9,969.2 1625.7,967.5 1624.4,967.1 1623.2,968.4 1621.9,969.7 1620.7,970.7 1619.4,973.7 1618.2,976.2 1616.9,977.6 1615.7,979.1 1614.4,979.5 1613.2,979.3 1611.9,979.5 1610.7,979.3 1609.4,979.6 1608.2,980.3 1606.9,980.3 1605.7,981.3 1604.4,982.7 1603.2,983.6 1601.9,984.7 1600.7,983.8 1599.4,983.2 1598.2,981.9 1596.9,981.7 1595.7,981.7 1594.4,980.4 1593.2,980.5 1591.9,979.6 1590.7,977.9 1589.4,977.6 1588.2,976.4 1586.9,974.0 1585.7,971.2 1584.4,969.7 1583.2,969.5 1581.9,969.6 1580.7,969.7 1579.4,970.3 1578.2,969.9 1576.9,969.5 1575.7,969.6 1574.4,970.0 1573.2,970.7 1571.9,970.0 1570.7,970.2 1569.4,969.9 1568.2,969.8 1566.9,970.7 1565.7,969.7 1564.4,969.5 1563.2,970.0 1561.9,969.9 1560.7,970.0 1559.4,969.6 1558.2,969.8 1556.9,969.9 1555.7,969.8 1554.4,969.7 1553.2,969.7 1551.9,970.0 1550.7,970.3 1549.4,969.8 1548.2,969.9 1546.9,970.2 1545.7,970.3 1544.4,970.0 1543.2,970.6 1541.9,970.0 1540.7,970.1 1539.4,970.1 1538.2,969.8 1536.9,969.9 1535.7,970.2 1534.4,970.7 1533.2,973.8 1531.9,977.5 1530.7,982.1 1529.4,985.7 1528.2,986.5 1526.9,989.4 1525.7,994.5 1524.4,995.8 1523.2,996.8 1521.9,995.4 1520.7,997.6 1519.4,1001.7 1518.2,1000.6 1516.9,998.1 1515.7,997.9 1514.4,1001.2 1513.2,1003.0 1511.9,1005.0 1510.7,1004.2 1509.4,1002.5 1508.2,1002.8 1506.9,1005.0 1505.7,1008.2 1504.4,1005.3 1503.2,1007.4 1501.9,1008.1 1500.7,1007.5 1499.4,1007.8 1498.2,1009.2 1496.9,1011.5 1495.7,1010.6 1494.4,1010.0 1493.2,1007.1 1491.9,1003.3 1490.7,1002.1 1489.4,999.8 1488.2,997.5 1486.9,991.4 1485.7,985.2 1484.4,980.1 1483.2,976.3 1481.9,972.5 1480.7,970.4 1479.4,971.0 1478.2,971.1 1476.9,971.9 1475.7,972.7 1474.4,973.5 1473.2,975.4 1471.9,976.8 1470.7,978.5 1469.4,979.6 1468.2,981.4 1466.9,981.7 1465.7,979.8 1464.4,978.9 1463.2,979.3 1461.9,979.7 1460.7,980.0 1459.4,981.6 1458.2,983.7 1456.9,985.8 1455.7,984.6 1454.4,982.6 1453.2,980.6 1451.9,978.9 1450.7,978.9 1449.4,978.7 1448.2,976.7 1446.9,974.4 1445.7,974.6 1444.4,973.8 1443.2,972.3 1441.9,971.3 1440.7,970.7 1439.4,970.2 1438.2,969.1 1436.9,968.6 1435.7,968.1 1434.4,968.2 1433.2,968.0 1431.9,967.9 1430.7,967.9 1429.4,968.0 1428.2,968.1 1426.9,968.5 1425.7,968.4 1424.4,968.0 1423.2,967.9 1421.9,968.1 1420.7,968.4 1419.4,969.0 1418.2,968.9 1416.9,969.0 1415.7,969.4 1414.4,968.7 1413.2,968.9 1411.9,969.1 1410.7,969.3 1409.4,969.7 1408.2,970.0 1406.9,970.2 1405.7,969.8 1404.4,970.0 1403.2,970.3 1401.9,970.3 1400.7,970.4 1399.4,970.5 1398.2,970.7 1396.9,971.1 1395.7,971.5 1394.4,971.9 1393.2,972.4 1391.9,973.2 1390.7,972.6 1389.4,973.0 1388.2,973.2 1386.9,973.0 1385.7,972.2 1384.4,971.7 1383.2,971.5 1381.9,971.6 1380.7,972.5 1379.4,971.8 1378.2,971.1 1376.9,970.4 1375.7,970.2 1374.4,970.3 1373.2,970.4 1371.9,970.6 1370.7,970.6 1369.4,970.2 1368.2,970.0 1366.9,969.9 1365.7,969.9 1364.4,969.1 1363.2,969.1 1361.9,969.4 1360.7,969.4 1359.4,969.6 1358.2,969.3 1356.9,968.9 1355.7,969.1 1354.4,968.9 1353.2,968.9 1351.9,968.4 1350.7,968.3 1349.4,968.3 1348.2,968.3 1346.9,968.4 1345.7,968.5 1344.4,968.3 1343.2,968.1 1341.9,968.2 1340.7,968.5 1339.4,968.5 1338.2,968.1 1336.9,968.2 1335.7,968.6 1334.4,969.1 1333.2,968.6 1331.9,968.4 1330.7,968.4 1329.4,968.6 1328.2,968.7 1326.9,968.9 1325.7,968.9 1324.4,969.1 1323.2,969.1 1321.9,969.2 1320.7,968.3 1319.4,968.0 1318.2,967.6 1316.9,967.3 1315.7,967.3 1314.4,966.7 1313.2,966.2 1311.9,965.7 1310.7,964.6 1309.4,963.7 1308.2,962.9" fill="#0a73bf"/><line x1="1308.4" y1="949.0" x2="1308.4" y2="984.0" stroke="#3a8fd0" stroke-width="1.4"/><path d="M1446.6 827.4v7M1446.6 1098.2v-7" stroke="#a0a0a0" stroke-width="1.2" fill="none"/><path d="M1585.7 827.4v7M1585.7 1098.2v-7" stroke="#a0a0a0" stroke-width="1.2" fill="none"/><path d="M1724.8 827.4v7M1724.8 1098.2v-7" stroke="#a0a0a0" stroke-width="1.2" fill="none"/><path d="M1863.8 827.4v7M1863.8 1098.2v-7" stroke="#a0a0a0" stroke-width="1.2" fill="none"/><path d="M1307.6 1052.0h7M1987.0 1052.0h-7" stroke="#b4b4b4" stroke-width="1.1" fill="none"/><path d="M1307.6 1007.0h7M1987.0 1007.0h-7" stroke="#b4b4b4" stroke-width="1.1" fill="none"/><path d="M1307.6 917.0h7M1987.0 917.0h-7" stroke="#b4b4b4" stroke-width="1.1" fill="none"/><path d="M1307.6 872.0h7M1987.0 872.0h-7" stroke="#b4b4b4" stroke-width="1.1" fill="none"/><rect x="1307.6" y="827.4" width="679.4" height="270.8" fill="none" stroke="#8e8e8e" stroke-width="1.3"/><text class="tk" x="1293" y="882.2" text-anchor="end">1</text><text class="tk" x="1293" y="972.2" text-anchor="end">0</text><text class="tk" x="1293" y="1062.2" text-anchor="end">-1</text><text class="ch" x="1976" y="859.9" text-anchor="end">HNZ</text><text class="tk" x="1307.6" y="1129.3" text-anchor="middle">0</text><text class="tk" x="1446.6" y="1129.3" text-anchor="middle">50</text><text class="tk" x="1585.7" y="1129.3" text-anchor="middle">100</text><text class="tk" x="1724.8" y="1129.3" text-anchor="middle">150</text><text class="tk" x="1863.8" y="1129.3" text-anchor="middle">200</text><text class="ti" x="1648" y="211" text-anchor="middle" style="font-size:29px">ZY.CIT-E - 2023-08-05 03:56:22.000</text><text class="ax" x="1659" y="1172.5" text-anchor="middle" style="font-size:38px">Time (seconds)</text><text class="ax" transform="translate(1255.5,648) rotate(-90)" text-anchor="middle" style="font-size:38.5px">Acceleration (mm/s<tspan font-size="26" dy="-11">2</tspan><tspan dy="11">)</tspan></text>
</svg></body></html>
